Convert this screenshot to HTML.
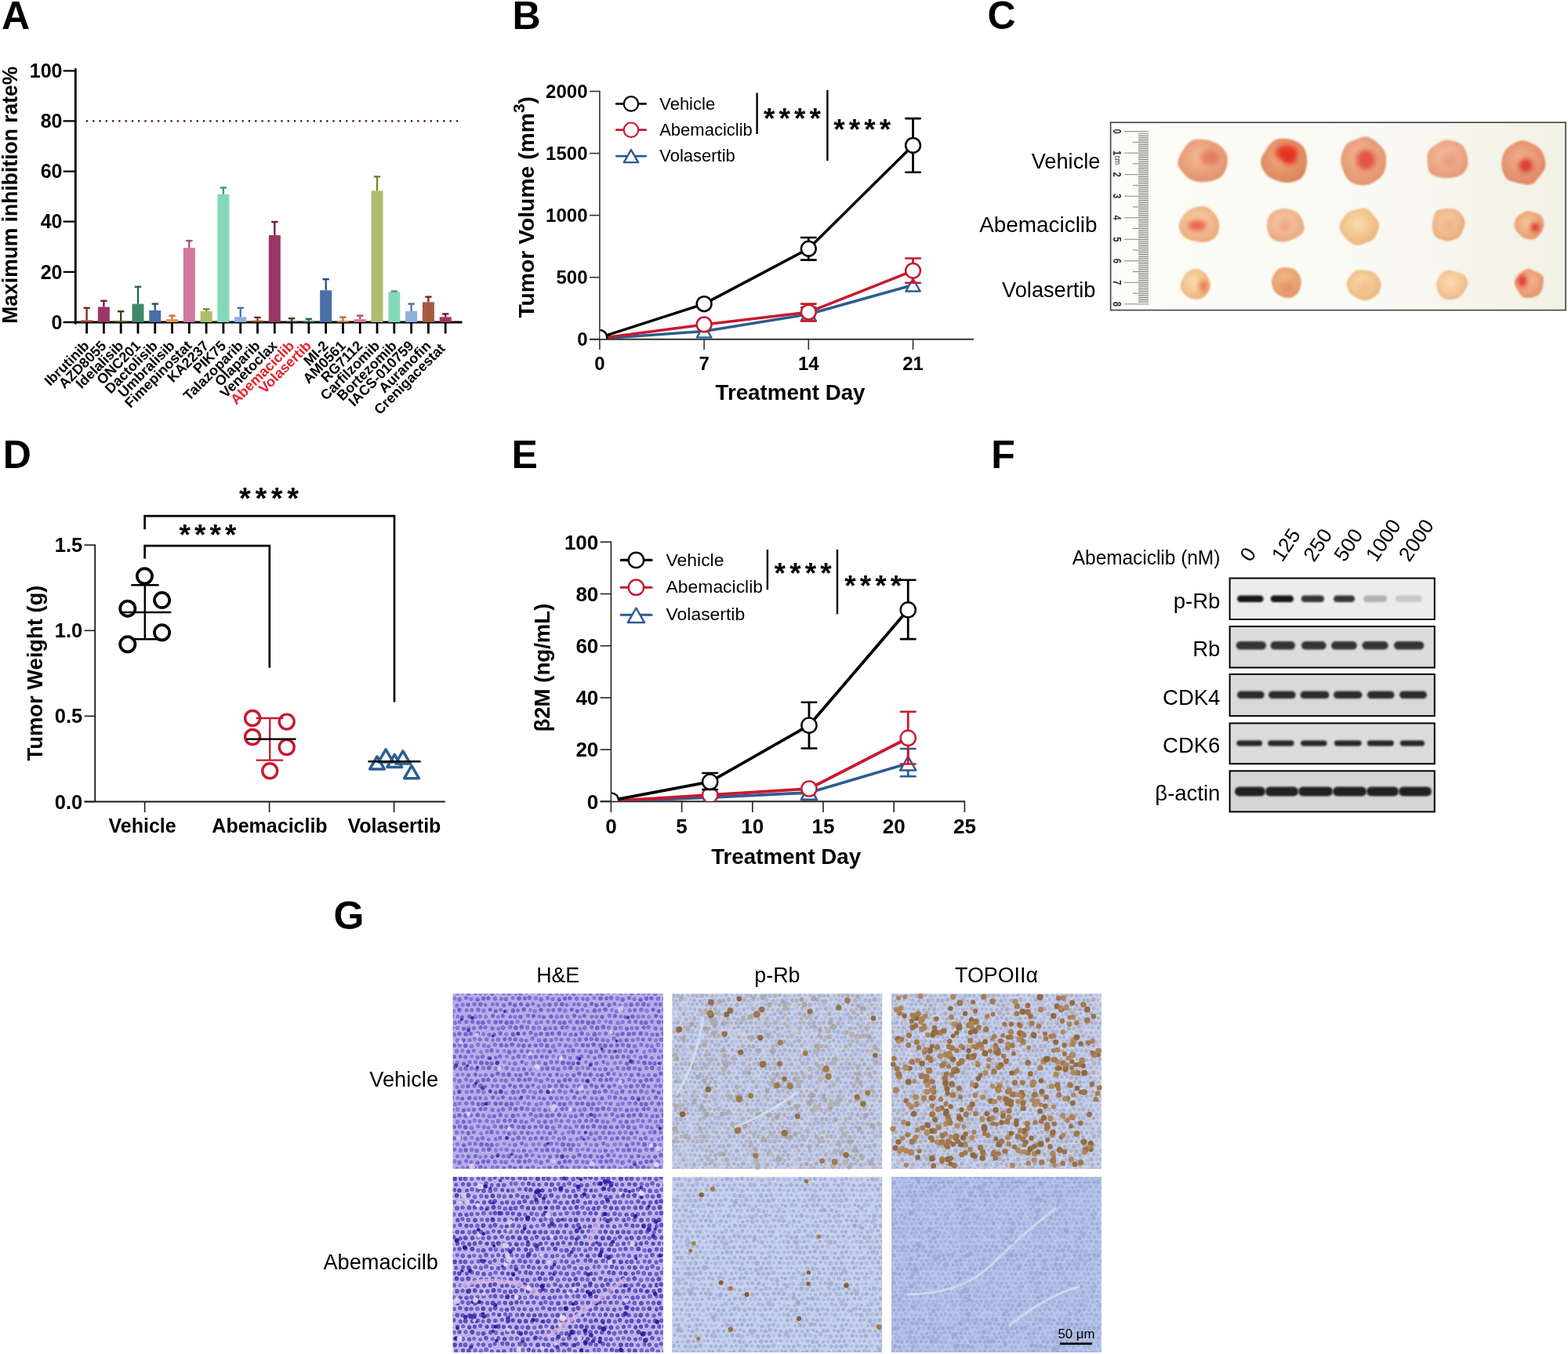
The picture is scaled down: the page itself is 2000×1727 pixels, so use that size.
<!DOCTYPE html>
<html><head><meta charset="utf-8"><title>Figure</title>
<style>html,body{margin:0;padding:0;background:#fff;}svg{display:block;}</style></head>
<body>
<svg xmlns="http://www.w3.org/2000/svg" width="2000" height="1727" viewBox="0 0 2000 1727" font-family="'Liberation Sans', Arial, Helvetica, sans-serif">
<rect width="2000" height="1727" fill="#fff"/>
<text x="2.00" y="37.30" font-size="50" font-weight="bold">A</text>
<line x1="81.50" y1="411.00" x2="96.30" y2="411.00" stroke="#000" stroke-width="2.3" stroke-linecap="round"/>
<text x="79.50" y="419.70" font-size="25" font-weight="bold" text-anchor="end">0</text>
<line x1="81.50" y1="346.86" x2="96.30" y2="346.86" stroke="#000" stroke-width="2.3" stroke-linecap="round"/>
<text x="79.50" y="355.56" font-size="25" font-weight="bold" text-anchor="end">20</text>
<line x1="81.50" y1="282.72" x2="96.30" y2="282.72" stroke="#000" stroke-width="2.3" stroke-linecap="round"/>
<text x="79.50" y="291.42" font-size="25" font-weight="bold" text-anchor="end">40</text>
<line x1="81.50" y1="218.58" x2="96.30" y2="218.58" stroke="#000" stroke-width="2.3" stroke-linecap="round"/>
<text x="79.50" y="227.28" font-size="25" font-weight="bold" text-anchor="end">60</text>
<line x1="81.50" y1="154.44" x2="96.30" y2="154.44" stroke="#000" stroke-width="2.3" stroke-linecap="round"/>
<text x="79.50" y="163.14" font-size="25" font-weight="bold" text-anchor="end">80</text>
<line x1="81.50" y1="90.30" x2="96.30" y2="90.30" stroke="#000" stroke-width="2.3" stroke-linecap="round"/>
<text x="79.50" y="99.00" font-size="25" font-weight="bold" text-anchor="end">100</text>
<line x1="96.30" y1="88.50" x2="96.30" y2="412.40" stroke="#000" stroke-width="2.8" stroke-linecap="round"/>
<line x1="94.90" y1="411.00" x2="589.50" y2="411.00" stroke="#000" stroke-width="2.8"/>
<text x="22.50" y="412.70" font-size="27.5" font-weight="bold" transform="rotate(-90 22.50 412.70)" textLength="328" lengthAdjust="spacingAndGlyphs">Maximum inhibition rate%</text>
<path d="M111.0 154.4h0.01 M119.3 154.4h0.01 M127.6 154.4h0.01 M135.8 154.4h0.01 M144.1 154.4h0.01 M152.4 154.4h0.01 M160.7 154.4h0.01 M169.0 154.4h0.01 M177.2 154.4h0.01 M185.5 154.4h0.01 M193.8 154.4h0.01 M202.1 154.4h0.01 M210.4 154.4h0.01 M218.6 154.4h0.01 M226.9 154.4h0.01 M235.2 154.4h0.01 M243.5 154.4h0.01 M251.8 154.4h0.01 M260.0 154.4h0.01 M268.3 154.4h0.01 M276.6 154.4h0.01 M284.9 154.4h0.01 M293.2 154.4h0.01 M301.4 154.4h0.01 M309.7 154.4h0.01 M318.0 154.4h0.01 M326.3 154.4h0.01 M334.6 154.4h0.01 M342.8 154.4h0.01 M351.1 154.4h0.01 M359.4 154.4h0.01 M367.7 154.4h0.01 M376.0 154.4h0.01 M384.2 154.4h0.01 M392.5 154.4h0.01 M400.8 154.4h0.01 M409.1 154.4h0.01 M417.4 154.4h0.01 M425.6 154.4h0.01 M433.9 154.4h0.01 M442.2 154.4h0.01 M450.5 154.4h0.01 M458.8 154.4h0.01 M467.0 154.4h0.01 M475.3 154.4h0.01 M483.6 154.4h0.01 M491.9 154.4h0.01 M500.2 154.4h0.01 M508.4 154.4h0.01 M516.7 154.4h0.01 M525.0 154.4h0.01 M533.3 154.4h0.01 M541.6 154.4h0.01 M549.8 154.4h0.01 M558.1 154.4h0.01 M566.4 154.4h0.01 M574.7 154.4h0.01 M583.0 154.4h0.01" stroke="#5a1a1e" stroke-width="2.6" stroke-linecap="round"/>
<rect x="103.10" y="408.43" width="15" height="2.57" fill="#a0452e"/>
<line x1="110.60" y1="408.43" x2="110.60" y2="392.72" stroke="#7a2a14" stroke-width="2.3"/>
<line x1="106.40" y1="392.72" x2="114.80" y2="392.72" stroke="#7a2a14" stroke-width="2.4"/>
<line x1="110.60" y1="411.00" x2="110.60" y2="425.50" stroke="#000" stroke-width="2.8"/>
<text x="114.90" y="442.10" font-size="18.0" font-weight="bold" text-anchor="end" transform="rotate(-45 114.90 442.10)">Ibrutinib</text>
<rect x="124.89" y="391.44" width="15" height="19.56" fill="#9a3766"/>
<line x1="132.39" y1="391.44" x2="132.39" y2="383.74" stroke="#6e1a44" stroke-width="2.3"/>
<line x1="128.19" y1="383.74" x2="136.59" y2="383.74" stroke="#6e1a44" stroke-width="2.4"/>
<line x1="132.39" y1="411.00" x2="132.39" y2="425.50" stroke="#000" stroke-width="2.8"/>
<text x="136.69" y="442.10" font-size="18.0" font-weight="bold" text-anchor="end" transform="rotate(-45 136.69 442.10)">AZD8055</text>
<rect x="146.68" y="409.40" width="15" height="1.60" fill="#4d6b25"/>
<line x1="154.18" y1="409.40" x2="154.18" y2="397.21" stroke="#2e4a0a" stroke-width="2.3"/>
<line x1="149.98" y1="397.21" x2="158.38" y2="397.21" stroke="#2e4a0a" stroke-width="2.4"/>
<line x1="154.18" y1="411.00" x2="154.18" y2="425.50" stroke="#000" stroke-width="2.8"/>
<text x="158.48" y="442.10" font-size="18.0" font-weight="bold" text-anchor="end" transform="rotate(-45 158.48 442.10)">Idelalisib</text>
<rect x="168.47" y="387.59" width="15" height="23.41" fill="#3f8a6a"/>
<line x1="175.97" y1="387.59" x2="175.97" y2="365.78" stroke="#1f6a4a" stroke-width="2.3"/>
<line x1="171.77" y1="365.78" x2="180.17" y2="365.78" stroke="#1f6a4a" stroke-width="2.4"/>
<line x1="175.97" y1="411.00" x2="175.97" y2="425.50" stroke="#000" stroke-width="2.8"/>
<text x="180.27" y="442.10" font-size="18.0" font-weight="bold" text-anchor="end" transform="rotate(-45 180.27 442.10)">ONC201</text>
<rect x="190.26" y="395.93" width="15" height="15.07" fill="#4a6ea6"/>
<line x1="197.76" y1="395.93" x2="197.76" y2="387.59" stroke="#2a4a80" stroke-width="2.3"/>
<line x1="193.56" y1="387.59" x2="201.96" y2="387.59" stroke="#2a4a80" stroke-width="2.4"/>
<line x1="197.76" y1="411.00" x2="197.76" y2="425.50" stroke="#000" stroke-width="2.8"/>
<text x="202.06" y="442.10" font-size="18.0" font-weight="bold" text-anchor="end" transform="rotate(-45 202.06 442.10)">Dactolisib</text>
<rect x="212.05" y="407.15" width="15" height="3.85" fill="#e8904a"/>
<line x1="219.55" y1="407.15" x2="219.55" y2="402.66" stroke="#c86a30" stroke-width="2.3"/>
<line x1="215.35" y1="402.66" x2="223.75" y2="402.66" stroke="#c86a30" stroke-width="2.4"/>
<line x1="219.55" y1="411.00" x2="219.55" y2="425.50" stroke="#000" stroke-width="2.8"/>
<text x="223.85" y="442.10" font-size="18.0" font-weight="bold" text-anchor="end" transform="rotate(-45 223.85 442.10)">Umbralisib</text>
<rect x="233.84" y="316.07" width="15" height="94.93" fill="#d2789c"/>
<line x1="241.34" y1="316.07" x2="241.34" y2="307.09" stroke="#b05078" stroke-width="2.3"/>
<line x1="237.14" y1="307.09" x2="245.54" y2="307.09" stroke="#b05078" stroke-width="2.4"/>
<line x1="241.34" y1="411.00" x2="241.34" y2="425.50" stroke="#000" stroke-width="2.8"/>
<text x="245.64" y="442.10" font-size="18.0" font-weight="bold" text-anchor="end" transform="rotate(-45 245.64 442.10)">Fimepinostat</text>
<rect x="255.63" y="396.89" width="15" height="14.11" fill="#aebe6c"/>
<line x1="263.13" y1="396.89" x2="263.13" y2="394.32" stroke="#6e8a2a" stroke-width="2.3"/>
<line x1="258.93" y1="394.32" x2="267.33" y2="394.32" stroke="#6e8a2a" stroke-width="2.4"/>
<line x1="263.13" y1="411.00" x2="263.13" y2="425.50" stroke="#000" stroke-width="2.8"/>
<text x="267.43" y="442.10" font-size="18.0" font-weight="bold" text-anchor="end" transform="rotate(-45 267.43 442.10)">KA2237</text>
<rect x="277.42" y="247.76" width="15" height="163.24" fill="#84d8b8"/>
<line x1="284.92" y1="247.76" x2="284.92" y2="239.43" stroke="#3a9a7a" stroke-width="2.3"/>
<line x1="280.72" y1="239.43" x2="289.12" y2="239.43" stroke="#3a9a7a" stroke-width="2.4"/>
<line x1="284.92" y1="411.00" x2="284.92" y2="425.50" stroke="#000" stroke-width="2.8"/>
<text x="289.22" y="442.10" font-size="18.0" font-weight="bold" text-anchor="end" transform="rotate(-45 289.22 442.10)">PIK75</text>
<rect x="299.21" y="404.27" width="15" height="6.73" fill="#8cb0e0"/>
<line x1="306.71" y1="404.27" x2="306.71" y2="392.72" stroke="#4a70b0" stroke-width="2.3"/>
<line x1="302.51" y1="392.72" x2="310.91" y2="392.72" stroke="#4a70b0" stroke-width="2.4"/>
<line x1="306.71" y1="411.00" x2="306.71" y2="425.50" stroke="#000" stroke-width="2.8"/>
<text x="311.01" y="442.10" font-size="18.0" font-weight="bold" text-anchor="end" transform="rotate(-45 311.01 442.10)">Talazoparib</text>
<rect x="321.00" y="408.76" width="15" height="2.24" fill="#a0452e"/>
<line x1="328.50" y1="408.76" x2="328.50" y2="404.91" stroke="#7a2a14" stroke-width="2.3"/>
<line x1="324.30" y1="404.91" x2="332.70" y2="404.91" stroke="#7a2a14" stroke-width="2.4"/>
<line x1="328.50" y1="411.00" x2="328.50" y2="425.50" stroke="#000" stroke-width="2.8"/>
<text x="332.80" y="442.10" font-size="18.0" font-weight="bold" text-anchor="end" transform="rotate(-45 332.80 442.10)">Olaparib</text>
<rect x="342.79" y="300.04" width="15" height="110.96" fill="#9a3766"/>
<line x1="350.29" y1="300.04" x2="350.29" y2="283.04" stroke="#6e1a44" stroke-width="2.3"/>
<line x1="346.09" y1="283.04" x2="354.49" y2="283.04" stroke="#6e1a44" stroke-width="2.4"/>
<line x1="350.29" y1="411.00" x2="350.29" y2="425.50" stroke="#000" stroke-width="2.8"/>
<text x="354.59" y="442.10" font-size="18.0" font-weight="bold" text-anchor="end" transform="rotate(-45 354.59 442.10)">Venetoclax</text>
<rect x="364.58" y="410.36" width="15" height="0.64" fill="#4d6b25"/>
<line x1="372.08" y1="410.36" x2="372.08" y2="406.19" stroke="#2e4a0a" stroke-width="2.3"/>
<line x1="367.88" y1="406.19" x2="376.28" y2="406.19" stroke="#2e4a0a" stroke-width="2.4"/>
<line x1="372.08" y1="411.00" x2="372.08" y2="425.50" stroke="#000" stroke-width="2.8"/>
<text x="376.38" y="442.10" font-size="18.0" font-weight="bold" text-anchor="end" fill="#e8202a" transform="rotate(-45 376.38 442.10)">Abemaciclib</text>
<rect x="386.37" y="409.08" width="15" height="1.92" fill="#3f8a6a"/>
<line x1="393.87" y1="409.08" x2="393.87" y2="406.83" stroke="#1f6a4a" stroke-width="2.3"/>
<line x1="389.67" y1="406.83" x2="398.07" y2="406.83" stroke="#1f6a4a" stroke-width="2.4"/>
<line x1="393.87" y1="411.00" x2="393.87" y2="425.50" stroke="#000" stroke-width="2.8"/>
<text x="398.17" y="442.10" font-size="18.0" font-weight="bold" text-anchor="end" fill="#e8202a" transform="rotate(-45 398.17 442.10)">Volasertib</text>
<rect x="408.16" y="370.27" width="15" height="40.73" fill="#4a6ea6"/>
<line x1="415.66" y1="370.27" x2="415.66" y2="356.16" stroke="#2a4a80" stroke-width="2.3"/>
<line x1="411.46" y1="356.16" x2="419.86" y2="356.16" stroke="#2a4a80" stroke-width="2.4"/>
<line x1="415.66" y1="411.00" x2="415.66" y2="425.50" stroke="#000" stroke-width="2.8"/>
<text x="419.96" y="442.10" font-size="18.0" font-weight="bold" text-anchor="end" transform="rotate(-45 419.96 442.10)">MI-2</text>
<rect x="429.95" y="409.40" width="15" height="1.60" fill="#e8904a"/>
<line x1="437.45" y1="409.40" x2="437.45" y2="404.59" stroke="#c86a30" stroke-width="2.3"/>
<line x1="433.25" y1="404.59" x2="441.65" y2="404.59" stroke="#c86a30" stroke-width="2.4"/>
<line x1="437.45" y1="411.00" x2="437.45" y2="425.50" stroke="#000" stroke-width="2.8"/>
<text x="441.75" y="442.10" font-size="18.0" font-weight="bold" text-anchor="end" transform="rotate(-45 441.75 442.10)">AM0561</text>
<rect x="451.74" y="407.15" width="15" height="3.85" fill="#d2789c"/>
<line x1="459.24" y1="407.15" x2="459.24" y2="402.66" stroke="#b05078" stroke-width="2.3"/>
<line x1="455.04" y1="402.66" x2="463.44" y2="402.66" stroke="#b05078" stroke-width="2.4"/>
<line x1="459.24" y1="411.00" x2="459.24" y2="425.50" stroke="#000" stroke-width="2.8"/>
<text x="463.54" y="442.10" font-size="18.0" font-weight="bold" text-anchor="end" transform="rotate(-45 463.54 442.10)">RG7112</text>
<rect x="473.53" y="243.27" width="15" height="167.73" fill="#aebe6c"/>
<line x1="481.03" y1="243.27" x2="481.03" y2="225.31" stroke="#6e8a2a" stroke-width="2.3"/>
<line x1="476.83" y1="225.31" x2="485.23" y2="225.31" stroke="#6e8a2a" stroke-width="2.4"/>
<line x1="481.03" y1="411.00" x2="481.03" y2="425.50" stroke="#000" stroke-width="2.8"/>
<text x="485.33" y="442.10" font-size="18.0" font-weight="bold" text-anchor="end" transform="rotate(-45 485.33 442.10)">Carfilzomib</text>
<rect x="495.32" y="372.52" width="15" height="38.48" fill="#84d8b8"/>
<line x1="502.82" y1="372.52" x2="502.82" y2="371.55" stroke="#3a9a7a" stroke-width="2.3"/>
<line x1="498.62" y1="371.55" x2="507.02" y2="371.55" stroke="#3a9a7a" stroke-width="2.4"/>
<line x1="502.82" y1="411.00" x2="502.82" y2="425.50" stroke="#000" stroke-width="2.8"/>
<text x="507.12" y="442.10" font-size="18.0" font-weight="bold" text-anchor="end" transform="rotate(-45 507.12 442.10)">Bortezomib</text>
<rect x="517.11" y="396.89" width="15" height="14.11" fill="#8cb0e0"/>
<line x1="524.61" y1="396.89" x2="524.61" y2="387.59" stroke="#4a70b0" stroke-width="2.3"/>
<line x1="520.41" y1="387.59" x2="528.81" y2="387.59" stroke="#4a70b0" stroke-width="2.4"/>
<line x1="524.61" y1="411.00" x2="524.61" y2="425.50" stroke="#000" stroke-width="2.8"/>
<text x="528.91" y="442.10" font-size="18.0" font-weight="bold" text-anchor="end" transform="rotate(-45 528.91 442.10)">IACS-010759</text>
<rect x="538.90" y="385.34" width="15" height="25.66" fill="#a85a3e"/>
<line x1="546.40" y1="385.34" x2="546.40" y2="378.61" stroke="#7a2a14" stroke-width="2.3"/>
<line x1="542.20" y1="378.61" x2="550.60" y2="378.61" stroke="#7a2a14" stroke-width="2.4"/>
<line x1="546.40" y1="411.00" x2="546.40" y2="425.50" stroke="#000" stroke-width="2.8"/>
<text x="550.70" y="442.10" font-size="18.0" font-weight="bold" text-anchor="end" transform="rotate(-45 550.70 442.10)">Auranofin</text>
<rect x="560.69" y="404.27" width="15" height="6.73" fill="#9a3766"/>
<line x1="568.19" y1="404.27" x2="568.19" y2="400.42" stroke="#6e1a44" stroke-width="2.3"/>
<line x1="563.99" y1="400.42" x2="572.39" y2="400.42" stroke="#6e1a44" stroke-width="2.4"/>
<line x1="568.19" y1="411.00" x2="568.19" y2="425.50" stroke="#000" stroke-width="2.8"/>
<text x="568.79" y="445.60" font-size="18.0" font-weight="bold" text-anchor="end" transform="rotate(-45 568.79 445.60)">Crenigacestat</text>
<text x="653.50" y="37.20" font-size="50" font-weight="bold">B</text>
<line x1="752.00" y1="432.80" x2="764.90" y2="432.80" stroke="#333" stroke-width="1.6"/>
<text x="749.50" y="441.20" font-size="24" font-weight="bold" text-anchor="end">0</text>
<line x1="752.00" y1="353.73" x2="764.90" y2="353.73" stroke="#333" stroke-width="1.6"/>
<text x="749.50" y="362.12" font-size="24" font-weight="bold" text-anchor="end">500</text>
<line x1="752.00" y1="274.65" x2="764.90" y2="274.65" stroke="#333" stroke-width="1.6"/>
<text x="749.50" y="283.05" font-size="24" font-weight="bold" text-anchor="end">1000</text>
<line x1="752.00" y1="195.57" x2="764.90" y2="195.57" stroke="#333" stroke-width="1.6"/>
<text x="749.50" y="203.97" font-size="24" font-weight="bold" text-anchor="end">1500</text>
<line x1="752.00" y1="116.50" x2="764.90" y2="116.50" stroke="#333" stroke-width="1.6"/>
<text x="749.50" y="124.90" font-size="24" font-weight="bold" text-anchor="end">2000</text>
<line x1="764.90" y1="115.70" x2="764.90" y2="432.80" stroke="#333" stroke-width="1.6"/>
<line x1="752.00" y1="432.80" x2="1242.00" y2="432.80" stroke="#333" stroke-width="1.9"/>
<line x1="764.90" y1="432.80" x2="764.90" y2="446.00" stroke="#333" stroke-width="1.6"/>
<text x="764.90" y="472.20" font-size="24" font-weight="bold" text-anchor="middle">0</text>
<line x1="898.11" y1="432.80" x2="898.11" y2="446.00" stroke="#333" stroke-width="1.6"/>
<text x="898.11" y="472.20" font-size="24" font-weight="bold" text-anchor="middle">7</text>
<line x1="1031.32" y1="432.80" x2="1031.32" y2="446.00" stroke="#333" stroke-width="1.6"/>
<text x="1031.32" y="472.20" font-size="24" font-weight="bold" text-anchor="middle">14</text>
<line x1="1164.53" y1="432.80" x2="1164.53" y2="446.00" stroke="#333" stroke-width="1.6"/>
<text x="1164.53" y="472.20" font-size="24" font-weight="bold" text-anchor="middle">21</text>
<text x="1008.00" y="509.90" font-size="28.5" font-weight="bold" text-anchor="middle" textLength="191" lengthAdjust="spacingAndGlyphs">Treatment Day</text>
<text x="681.50" y="405.60" font-size="28.3" font-weight="bold" transform="rotate(-90 681.50 405.60)">Tumor Volume (mm<tspan font-size="21" dy="-12">3</tspan><tspan dy="12">)</tspan></text>
<defs><clipPath id="clipB"><rect x="765.7" y="100" width="500" height="331.9"/></clipPath></defs>
<g clip-path="url(#clipB)"><line x1="1031.32" y1="392.00" x2="1031.32" y2="409.20" stroke="#2c5d8f" stroke-width="2.8"/><line x1="1022.02" y1="392.00" x2="1040.62" y2="392.00" stroke="#2c5d8f" stroke-width="2.6" stroke-linecap="round"/><line x1="1022.02" y1="409.20" x2="1040.62" y2="409.20" stroke="#2c5d8f" stroke-width="2.6" stroke-linecap="round"/>
<path d="M764.90 432.00L898.11 422.40L1031.32 400.80L1164.53 363.50" fill="none" stroke="#2c5d8f" stroke-width="3.5" stroke-linejoin="round"/>
<path d="M764.90 424.00L774.10 440.00L755.70 440.00Z" fill="#fff" stroke="#2c5d8f" stroke-width="2.4" stroke-linejoin="round"/>
<path d="M898.11 414.40L907.31 430.40L888.91 430.40Z" fill="#fff" stroke="#2c5d8f" stroke-width="2.4" stroke-linejoin="round"/>
<path d="M1031.32 392.80L1040.52 408.80L1022.12 408.80Z" fill="#fff" stroke="#2c5d8f" stroke-width="2.4" stroke-linejoin="round"/>
<path d="M1164.53 355.50L1173.73 371.50L1155.33 371.50Z" fill="#fff" stroke="#2c5d8f" stroke-width="2.4" stroke-linejoin="round"/>
<line x1="1031.32" y1="387.60" x2="1031.32" y2="409.40" stroke="#c8192f" stroke-width="2.8"/><line x1="1022.02" y1="387.60" x2="1040.62" y2="387.60" stroke="#c8192f" stroke-width="2.6" stroke-linecap="round"/><line x1="1022.02" y1="409.40" x2="1040.62" y2="409.40" stroke="#c8192f" stroke-width="2.6" stroke-linecap="round"/>
<line x1="1164.53" y1="329.50" x2="1164.53" y2="360.80" stroke="#c8192f" stroke-width="2.8"/><line x1="1155.23" y1="329.50" x2="1173.83" y2="329.50" stroke="#c8192f" stroke-width="2.6" stroke-linecap="round"/><line x1="1155.23" y1="360.80" x2="1173.83" y2="360.80" stroke="#c8192f" stroke-width="2.6" stroke-linecap="round"/>
<path d="M764.90 431.50L898.11 413.90L1031.32 398.10L1164.53 345.30" fill="none" stroke="#c8192f" stroke-width="3.5" stroke-linejoin="round"/>
<circle cx="764.90" cy="431.50" r="9.4" fill="#fff" stroke="#c8192f" stroke-width="2.5"/>
<circle cx="898.11" cy="413.90" r="9.4" fill="#fff" stroke="#c8192f" stroke-width="2.5"/>
<circle cx="1031.32" cy="398.10" r="9.4" fill="#fff" stroke="#c8192f" stroke-width="2.5"/>
<circle cx="1164.53" cy="345.30" r="9.4" fill="#fff" stroke="#c8192f" stroke-width="2.5"/>
<line x1="1031.32" y1="303.00" x2="1031.32" y2="331.60" stroke="#000" stroke-width="2.8"/><line x1="1022.02" y1="303.00" x2="1040.62" y2="303.00" stroke="#000" stroke-width="2.6" stroke-linecap="round"/><line x1="1022.02" y1="331.60" x2="1040.62" y2="331.60" stroke="#000" stroke-width="2.6" stroke-linecap="round"/>
<line x1="1164.53" y1="151.10" x2="1164.53" y2="219.80" stroke="#000" stroke-width="2.8"/><line x1="1155.23" y1="151.10" x2="1173.83" y2="151.10" stroke="#000" stroke-width="2.6" stroke-linecap="round"/><line x1="1155.23" y1="219.80" x2="1173.83" y2="219.80" stroke="#000" stroke-width="2.6" stroke-linecap="round"/>
<path d="M764.90 430.50L898.11 387.60L1031.32 317.20L1164.53 185.40" fill="none" stroke="#000" stroke-width="3.5" stroke-linejoin="round"/>
<circle cx="764.90" cy="430.50" r="9.4" fill="#fff" stroke="#000" stroke-width="2.5"/>
<circle cx="898.11" cy="387.60" r="9.4" fill="#fff" stroke="#000" stroke-width="2.5"/>
<circle cx="1031.32" cy="317.20" r="9.4" fill="#fff" stroke="#000" stroke-width="2.5"/>
<circle cx="1164.53" cy="185.40" r="9.4" fill="#fff" stroke="#000" stroke-width="2.5"/></g>
<line x1="786.20" y1="132.40" x2="823.70" y2="132.40" stroke="#000" stroke-width="2.7" stroke-linecap="round"/>
<circle cx="804.95" cy="132.40" r="9.2" fill="#fff" stroke="#000" stroke-width="2.2"/>
<text x="841.20" y="139.90" font-size="22">Vehicle</text>
<line x1="786.20" y1="165.70" x2="823.70" y2="165.70" stroke="#c8192f" stroke-width="2.7" stroke-linecap="round"/>
<circle cx="804.95" cy="165.70" r="9.2" fill="#fff" stroke="#c8192f" stroke-width="2.2"/>
<text x="841.20" y="172.80" font-size="22">Abemaciclib</text>
<line x1="786.20" y1="199.10" x2="823.70" y2="199.10" stroke="#2c5d8f" stroke-width="2.7" stroke-linecap="round"/>
<path d="M804.95 191.10L814.15 207.10L795.75 207.10Z" fill="#fff" stroke="#2c5d8f" stroke-width="2.4" stroke-linejoin="round"/>
<text x="841.20" y="206.00" font-size="22">Volasertib</text>
<line x1="965.60" y1="118.40" x2="965.60" y2="171.00" stroke="#000" stroke-width="2.4"/>
<text x="974.00" y="164.40" font-size="37" font-weight="bold" textLength="73" lengthAdjust="spacing">****</text>
<line x1="1055.40" y1="114.90" x2="1055.40" y2="205.00" stroke="#000" stroke-width="2.4"/>
<text x="1063.20" y="178.20" font-size="37" font-weight="bold" textLength="73" lengthAdjust="spacing">****</text>
<text x="1259.60" y="37.00" font-size="50" font-weight="bold">C</text>
<text x="1403.40" y="214.80" font-size="27.2" text-anchor="end">Vehicle</text>
<text x="1399.60" y="295.90" font-size="27.9" text-anchor="end">Abemaciclib</text>
<text x="1397.50" y="379.20" font-size="27.2" text-anchor="end">Volasertib</text>
<defs><filter id="tblur" x="-20%" y="-20%" width="140%" height="140%"><feGaussianBlur stdDeviation="0.8"/></filter><filter id="rblur" x="-50%" y="-50%" width="200%" height="200%"><feGaussianBlur stdDeviation="3"/></filter><linearGradient id="photobg" x1="0" y1="0" x2="1" y2="0"><stop offset="0" stop-color="#fcfcf8"/><stop offset="0.55" stop-color="#fafaf4"/><stop offset="1" stop-color="#f2f1e6"/></linearGradient></defs>
<rect x="1416.6" y="156.2" width="580.4" height="239.4" fill="url(#photobg)" stroke="#404040" stroke-width="1.6"/>
<path d="M1434.0 167.60H1465M1452.0 170.35H1465M1452.0 173.11H1465M1452.0 175.86H1465M1452.0 178.61H1465M1444.8 181.37H1465M1452.0 184.12H1465M1452.0 186.87H1465M1452.0 189.62H1465M1452.0 192.38H1465M1434.0 195.13H1465M1452.0 197.88H1465M1452.0 200.64H1465M1452.0 203.39H1465M1452.0 206.14H1465M1444.8 208.89H1465M1452.0 211.65H1465M1452.0 214.40H1465M1452.0 217.15H1465M1452.0 219.91H1465M1434.0 222.66H1465M1452.0 225.41H1465M1452.0 228.17H1465M1452.0 230.92H1465M1452.0 233.67H1465M1444.8 236.43H1465M1452.0 239.18H1465M1452.0 241.93H1465M1452.0 244.68H1465M1452.0 247.44H1465M1434.0 250.19H1465M1452.0 252.94H1465M1452.0 255.70H1465M1452.0 258.45H1465M1452.0 261.20H1465M1444.8 263.95H1465M1452.0 266.71H1465M1452.0 269.46H1465M1452.0 272.21H1465M1452.0 274.97H1465M1434.0 277.72H1465M1452.0 280.47H1465M1452.0 283.23H1465M1452.0 285.98H1465M1452.0 288.73H1465M1444.8 291.49H1465M1452.0 294.24H1465M1452.0 296.99H1465M1452.0 299.74H1465M1452.0 302.50H1465M1434.0 305.25H1465M1452.0 308.00H1465M1452.0 310.76H1465M1452.0 313.51H1465M1452.0 316.26H1465M1444.8 319.01H1465M1452.0 321.77H1465M1452.0 324.52H1465M1452.0 327.27H1465M1452.0 330.03H1465M1434.0 332.78H1465M1452.0 335.53H1465M1452.0 338.29H1465M1452.0 341.04H1465M1452.0 343.79H1465M1444.8 346.54H1465M1452.0 349.30H1465M1452.0 352.05H1465M1452.0 354.80H1465M1452.0 357.56H1465M1434.0 360.31H1465M1452.0 363.06H1465M1452.0 365.82H1465M1452.0 368.57H1465M1452.0 371.32H1465M1444.8 374.08H1465M1452.0 376.83H1465M1452.0 379.58H1465M1452.0 382.33H1465M1452.0 385.09H1465M1434.0 387.84H1465" stroke="#777" stroke-width="0.9" fill="none"/>
<rect x="1451.5" y="172" width="13.5" height="214" fill="#777" opacity="0.18"/>
<text x="0" y="0" font-size="15.5" font-weight="bold" fill="#2a2a2a" transform="translate(1420.0 167.60) rotate(90) scale(0.72 1)" text-anchor="middle">0</text>
<text x="0" y="0" font-size="15.5" font-weight="bold" fill="#2a2a2a" transform="translate(1420.0 195.13) rotate(90) scale(0.72 1)" text-anchor="middle">1</text>
<text x="0" y="0" font-size="15.5" font-weight="bold" fill="#2a2a2a" transform="translate(1420.0 222.66) rotate(90) scale(0.72 1)" text-anchor="middle">2</text>
<text x="0" y="0" font-size="15.5" font-weight="bold" fill="#2a2a2a" transform="translate(1420.0 250.19) rotate(90) scale(0.72 1)" text-anchor="middle">3</text>
<text x="0" y="0" font-size="15.5" font-weight="bold" fill="#2a2a2a" transform="translate(1420.0 277.72) rotate(90) scale(0.72 1)" text-anchor="middle">4</text>
<text x="0" y="0" font-size="15.5" font-weight="bold" fill="#2a2a2a" transform="translate(1420.0 305.25) rotate(90) scale(0.72 1)" text-anchor="middle">5</text>
<text x="0" y="0" font-size="15.5" font-weight="bold" fill="#2a2a2a" transform="translate(1420.0 332.78) rotate(90) scale(0.72 1)" text-anchor="middle">6</text>
<text x="0" y="0" font-size="15.5" font-weight="bold" fill="#2a2a2a" transform="translate(1420.0 360.31) rotate(90) scale(0.72 1)" text-anchor="middle">7</text>
<text x="0" y="0" font-size="15.5" font-weight="bold" fill="#2a2a2a" transform="translate(1420.0 387.84) rotate(90) scale(0.72 1)" text-anchor="middle">8</text>
<text x="0" y="0" font-size="11" fill="#333" transform="translate(1421.5 204.21) rotate(90) scale(0.8 1)" text-anchor="middle">cm</text>
<radialGradient id="tg100" cx="0.45" cy="0.42" r="0.62"><stop offset="0" stop-color="#f2bc98"/><stop offset="0.55" stop-color="#eaa27e"/><stop offset="1" stop-color="#e0926a"/></radialGradient>
<path d="M1565.9 203.0C1566.1 208.9 1563.6 218.2 1559.8 222.9C1556.0 227.7 1549.2 230.2 1543.2 231.5C1537.1 232.8 1528.8 232.3 1523.6 230.9C1518.3 229.5 1515.1 226.9 1511.5 223.0C1508.0 219.1 1502.2 213.6 1502.3 207.6C1502.4 201.7 1508.4 192.0 1512.0 187.1C1515.6 182.2 1518.8 179.5 1523.9 178.1C1529.0 176.8 1536.8 177.6 1542.6 179.2C1548.3 180.8 1554.7 183.7 1558.6 187.7C1562.5 191.6 1565.7 197.2 1565.9 203.0Z" fill="url(#tg100)" filter="url(#tblur)"/>
<ellipse cx="1543.0" cy="201.0" rx="12" ry="10" fill="#e06048" opacity="0.6" filter="url(#rblur)"/>
<radialGradient id="tg101" cx="0.45" cy="0.42" r="0.62"><stop offset="0" stop-color="#eeac86"/><stop offset="0.55" stop-color="#e5946a"/><stop offset="1" stop-color="#da845c"/></radialGradient>
<path d="M1667.1 205.4C1667.1 211.6 1665.2 220.1 1662.1 224.6C1658.9 229.1 1653.4 231.2 1648.4 232.3C1643.4 233.4 1637.3 232.9 1631.8 231.4C1626.4 229.8 1619.5 227.1 1615.6 222.9C1611.6 218.8 1608.3 212.0 1608.2 206.7C1608.1 201.4 1611.7 195.7 1614.9 191.0C1618.1 186.2 1622.0 180.3 1627.4 178.1C1632.7 176.0 1641.4 176.5 1647.3 178.0C1653.1 179.6 1659.1 182.8 1662.4 187.3C1665.7 191.9 1667.2 199.2 1667.1 205.4Z" fill="url(#tg101)" filter="url(#tblur)"/>
<ellipse cx="1641.0" cy="195.0" rx="14" ry="10" fill="#e8321f" opacity="0.95" filter="url(#rblur)"/>
<ellipse cx="1645.0" cy="203.0" rx="9" ry="7" fill="#e02a1a" opacity="0.8" filter="url(#rblur)"/>
<radialGradient id="tg102" cx="0.45" cy="0.42" r="0.62"><stop offset="0" stop-color="#f2bc98"/><stop offset="0.55" stop-color="#eaa27e"/><stop offset="1" stop-color="#e0926a"/></radialGradient>
<path d="M1768.0 203.6C1768.2 209.3 1767.4 217.4 1763.9 222.6C1760.4 227.8 1752.9 232.7 1747.2 234.8C1741.4 236.8 1734.4 236.4 1729.4 235.0C1724.4 233.5 1720.5 231.1 1717.3 226.1C1714.1 221.1 1710.4 211.9 1710.2 205.1C1710.1 198.3 1713.2 189.9 1716.5 185.4C1719.8 180.8 1724.8 179.6 1729.8 177.8C1734.7 176.1 1740.5 173.1 1746.1 174.9C1751.6 176.6 1759.5 183.7 1763.2 188.5C1766.8 193.3 1767.9 197.9 1768.0 203.6Z" fill="url(#tg102)" filter="url(#tblur)"/>
<ellipse cx="1742.0" cy="203.8" rx="12" ry="13" fill="#e2402e" opacity="0.8" filter="url(#rblur)"/>
<radialGradient id="tg103" cx="0.45" cy="0.42" r="0.62"><stop offset="0" stop-color="#f3c2a0"/><stop offset="0.55" stop-color="#edaa88"/><stop offset="1" stop-color="#e39a74"/></radialGradient>
<path d="M1872.5 205.7C1872.6 211.3 1870.4 216.4 1867.5 219.8C1864.6 223.2 1860.2 224.9 1855.2 226.1C1850.2 227.2 1842.9 227.6 1837.6 226.5C1832.4 225.4 1826.6 223.8 1823.7 219.7C1820.9 215.5 1820.5 206.3 1820.6 201.5C1820.6 196.6 1820.7 194.0 1823.9 190.4C1827.1 186.8 1835.0 181.6 1839.8 179.8C1844.6 178.0 1848.1 178.5 1852.5 179.6C1857.0 180.7 1863.1 182.3 1866.5 186.6C1869.8 191.0 1872.3 200.2 1872.5 205.7Z" fill="url(#tg103)" filter="url(#tblur)"/>
<ellipse cx="1848.0" cy="203.3" rx="10" ry="9" fill="#e07060" opacity="0.35" filter="url(#rblur)"/>
<radialGradient id="tg104" cx="0.45" cy="0.42" r="0.62"><stop offset="0" stop-color="#f0b290"/><stop offset="0.55" stop-color="#e89876"/><stop offset="1" stop-color="#dc8664"/></radialGradient>
<path d="M1971.3 210.7C1971.0 216.3 1966.7 221.0 1963.6 225.1C1960.4 229.2 1957.5 234.0 1952.5 235.3C1947.5 236.6 1938.8 234.2 1933.6 232.8C1928.4 231.4 1924.1 230.8 1921.1 227.0C1918.0 223.2 1915.5 216.1 1915.3 210.2C1915.2 204.3 1916.5 196.9 1920.0 191.9C1923.6 186.9 1931.3 182.0 1936.4 180.2C1941.5 178.5 1945.8 179.6 1950.7 181.5C1955.6 183.4 1962.3 186.8 1965.8 191.7C1969.2 196.5 1971.7 205.1 1971.3 210.7Z" fill="url(#tg104)" filter="url(#tblur)"/>
<ellipse cx="1946.0" cy="211.0" rx="9" ry="9" fill="#d82a22" opacity="0.85" filter="url(#rblur)"/>
<radialGradient id="tg105" cx="0.45" cy="0.42" r="0.62"><stop offset="0" stop-color="#f6d2a6"/><stop offset="0.55" stop-color="#f1bc90"/><stop offset="1" stop-color="#e8a878"/></radialGradient>
<path d="M1555.2 288.2C1555.1 292.6 1553.7 298.3 1551.0 301.7C1548.3 305.1 1543.8 307.6 1539.2 308.6C1534.5 309.5 1528.2 308.8 1523.2 307.5C1518.1 306.2 1512.2 304.1 1509.0 300.9C1505.8 297.6 1503.7 292.6 1503.8 288.1C1503.9 283.7 1506.6 278.0 1509.6 274.2C1512.6 270.4 1517.1 267.0 1521.8 265.2C1526.6 263.5 1533.2 262.1 1538.1 263.8C1543.0 265.4 1548.4 271.0 1551.3 275.1C1554.1 279.2 1555.2 283.8 1555.2 288.2Z" fill="url(#tg105)" filter="url(#tblur)"/>
<ellipse cx="1527.0" cy="287.5" rx="12" ry="7" fill="#e8503c" opacity="0.8" filter="url(#rblur)"/>
<radialGradient id="tg106" cx="0.45" cy="0.42" r="0.62"><stop offset="0" stop-color="#f6cea6"/><stop offset="0.55" stop-color="#f1b892"/><stop offset="1" stop-color="#e8a47e"/></radialGradient>
<path d="M1663.4 288.0C1663.9 292.2 1663.3 295.5 1660.1 298.6C1657.0 301.8 1649.4 305.4 1644.4 307.0C1639.5 308.5 1634.2 308.9 1630.2 308.0C1626.1 307.1 1622.4 305.1 1620.0 301.7C1617.7 298.3 1615.9 292.3 1615.9 287.6C1615.9 282.9 1617.3 276.9 1620.2 273.4C1623.0 269.8 1628.8 267.6 1633.1 266.5C1637.3 265.5 1641.8 266.0 1645.8 267.2C1649.8 268.3 1654.2 270.0 1657.2 273.4C1660.1 276.9 1662.9 283.8 1663.4 288.0Z" fill="url(#tg106)" filter="url(#tblur)"/>
<ellipse cx="1639.0" cy="287.0" rx="8" ry="8" fill="#e87060" opacity="0.35" filter="url(#rblur)"/>
<radialGradient id="tg107" cx="0.45" cy="0.42" r="0.62"><stop offset="0" stop-color="#f8dcae"/><stop offset="0.55" stop-color="#f3c690"/><stop offset="1" stop-color="#eab27c"/></radialGradient>
<path d="M1759.0 287.6C1758.8 292.2 1755.8 300.4 1752.9 304.1C1750.0 307.9 1745.8 308.6 1741.6 309.9C1737.4 311.3 1732.3 313.8 1727.7 312.2C1723.1 310.7 1717.1 304.8 1713.9 300.9C1710.7 296.9 1708.3 292.8 1708.6 288.4C1708.9 283.9 1712.9 277.7 1715.7 274.4C1718.6 271.0 1721.3 269.6 1725.8 268.2C1730.3 266.9 1737.8 264.7 1742.5 266.2C1747.1 267.6 1751.0 273.3 1753.8 276.8C1756.5 280.4 1759.1 283.1 1759.0 287.6Z" fill="url(#tg107)" filter="url(#tblur)"/>
<radialGradient id="tg108" cx="0.45" cy="0.42" r="0.62"><stop offset="0" stop-color="#f6d2a6"/><stop offset="0.55" stop-color="#f1bc90"/><stop offset="1" stop-color="#e8a878"/></radialGradient>
<path d="M1868.5 284.7C1868.2 289.2 1865.0 296.8 1862.6 300.3C1860.2 303.9 1857.4 304.9 1854.0 306.0C1850.7 307.1 1846.4 307.7 1842.4 306.9C1838.5 306.0 1832.8 304.0 1830.2 300.8C1827.7 297.6 1827.0 292.6 1827.0 287.7C1827.1 282.8 1828.5 274.9 1830.5 271.4C1832.5 267.9 1835.1 267.5 1839.2 266.7C1843.3 265.9 1851.0 265.5 1855.2 266.7C1859.4 267.9 1862.3 270.8 1864.5 273.8C1866.7 276.8 1868.8 280.3 1868.5 284.7Z" fill="url(#tg108)" filter="url(#tblur)"/>
<ellipse cx="1847.0" cy="286.4" rx="8" ry="8" fill="#e88060" opacity="0.3" filter="url(#rblur)"/>
<radialGradient id="tg109" cx="0.45" cy="0.42" r="0.62"><stop offset="0" stop-color="#f4cc98"/><stop offset="0.55" stop-color="#eeac80"/><stop offset="1" stop-color="#e4986e"/></radialGradient>
<path d="M1969.3 286.2C1969.2 289.9 1967.1 294.0 1965.1 297.1C1963.0 300.2 1960.3 303.8 1957.0 304.9C1953.7 306.0 1948.6 305.3 1945.1 303.9C1941.5 302.5 1937.8 299.2 1935.6 296.6C1933.4 293.9 1932.0 291.1 1931.8 287.8C1931.7 284.6 1932.2 280.1 1934.7 277.1C1937.1 274.0 1943.0 270.6 1946.6 269.6C1950.3 268.6 1953.3 270.0 1956.4 271.0C1959.6 271.9 1963.5 272.7 1965.6 275.2C1967.8 277.8 1969.4 282.6 1969.3 286.2Z" fill="url(#tg109)" filter="url(#tblur)"/>
<ellipse cx="1958.0" cy="290.0" rx="6" ry="6" fill="#e02828" opacity="0.9" filter="url(#rblur)"/>
<radialGradient id="tg110" cx="0.45" cy="0.42" r="0.62"><stop offset="0" stop-color="#f8dcae"/><stop offset="0.55" stop-color="#f3c690"/><stop offset="1" stop-color="#eab27c"/></radialGradient>
<path d="M1543.5 364.7C1543.3 368.5 1541.2 372.5 1539.0 375.3C1536.9 378.0 1534.0 380.4 1530.7 381.3C1527.4 382.2 1522.7 381.9 1519.3 380.8C1515.9 379.7 1512.6 377.3 1510.3 374.6C1508.0 372.0 1505.4 368.9 1505.6 364.9C1505.7 360.9 1509.0 354.1 1511.3 350.6C1513.7 347.1 1516.4 345.1 1519.6 343.9C1522.9 342.8 1527.2 342.5 1530.6 343.9C1534.0 345.2 1538.0 348.7 1540.1 352.2C1542.3 355.7 1543.7 360.8 1543.5 364.7Z" fill="url(#tg110)" filter="url(#tblur)"/>
<ellipse cx="1535.0" cy="365.0" rx="5" ry="8" fill="#e85a3a" opacity="0.7" filter="url(#rblur)"/>
<radialGradient id="tg111" cx="0.45" cy="0.42" r="0.62"><stop offset="0" stop-color="#f2c090"/><stop offset="0.55" stop-color="#eca878"/><stop offset="1" stop-color="#e29668"/></radialGradient>
<path d="M1659.6 361.7C1659.4 365.6 1657.6 370.5 1655.5 373.5C1653.5 376.5 1650.6 378.6 1647.4 379.5C1644.2 380.4 1640.0 380.2 1636.4 379.0C1632.9 377.7 1628.5 375.2 1626.1 372.0C1623.6 368.8 1622.0 363.6 1621.9 359.8C1621.8 356.1 1623.6 352.6 1625.5 349.5C1627.5 346.5 1630.0 342.7 1633.8 341.6C1637.6 340.4 1644.4 341.1 1648.3 342.6C1652.1 344.0 1655.0 346.9 1656.9 350.1C1658.8 353.3 1659.8 357.8 1659.6 361.7Z" fill="url(#tg111)" filter="url(#tblur)"/>
<ellipse cx="1641.0" cy="364.5" rx="9" ry="8" fill="#e87048" opacity="0.45" filter="url(#rblur)"/>
<radialGradient id="tg112" cx="0.45" cy="0.42" r="0.62"><stop offset="0" stop-color="#f8dcae"/><stop offset="0.55" stop-color="#f3c690"/><stop offset="1" stop-color="#eab27c"/></radialGradient>
<path d="M1761.5 362.9C1761.6 366.9 1759.9 372.0 1757.1 375.3C1754.3 378.6 1748.5 381.8 1744.7 382.8C1741.0 383.9 1738.2 382.9 1734.5 381.6C1730.8 380.2 1725.4 378.0 1722.6 374.6C1719.7 371.2 1717.6 364.9 1717.6 361.1C1717.6 357.3 1720.1 354.5 1722.5 351.7C1724.8 348.9 1727.6 345.3 1731.8 344.3C1736.0 343.3 1743.5 344.3 1747.6 345.5C1751.7 346.7 1754.2 348.5 1756.5 351.4C1758.9 354.3 1761.4 358.9 1761.5 362.9Z" fill="url(#tg112)" filter="url(#tblur)"/>
<ellipse cx="1739.6" cy="365.0" rx="8" ry="7" fill="#eca070" opacity="0.4" filter="url(#rblur)"/>
<radialGradient id="tg113" cx="0.45" cy="0.42" r="0.62"><stop offset="0" stop-color="#fadcb0"/><stop offset="0.55" stop-color="#f4c896"/><stop offset="1" stop-color="#ecb888"/></radialGradient>
<path d="M1872.1 361.7C1871.8 365.5 1868.6 371.3 1866.1 374.5C1863.6 377.7 1861.0 379.7 1857.2 380.9C1853.5 382.1 1847.2 382.6 1843.6 381.6C1840.1 380.7 1837.7 378.3 1835.8 375.3C1833.9 372.3 1832.3 367.3 1832.2 363.5C1832.2 359.8 1833.4 355.9 1835.5 352.8C1837.6 349.6 1841.2 345.7 1844.9 344.7C1848.7 343.7 1854.2 345.8 1858.1 346.9C1861.9 348.0 1865.7 348.9 1868.1 351.3C1870.4 353.8 1872.4 357.8 1872.1 361.7Z" fill="url(#tg113)" filter="url(#tblur)"/>
<radialGradient id="tg114" cx="0.45" cy="0.42" r="0.62"><stop offset="0" stop-color="#f2be94"/><stop offset="0.55" stop-color="#eca47c"/><stop offset="1" stop-color="#e2926a"/></radialGradient>
<path d="M1968.5 361.1C1968.1 364.7 1967.2 370.0 1965.1 373.0C1963.0 375.9 1959.6 377.9 1956.0 378.9C1952.4 380.0 1946.6 380.3 1943.5 379.2C1940.4 378.2 1939.3 375.9 1937.3 372.8C1935.4 369.7 1931.9 364.1 1931.7 360.7C1931.6 357.3 1934.0 355.1 1936.5 352.2C1939.0 349.2 1943.5 344.3 1946.8 343.2C1950.1 342.0 1952.9 343.9 1956.3 345.3C1959.7 346.6 1965.3 348.7 1967.3 351.4C1969.3 354.0 1968.9 357.5 1968.5 361.1Z" fill="url(#tg114)" filter="url(#tblur)"/>
<ellipse cx="1942.0" cy="358.0" rx="6" ry="8" fill="#e02424" opacity="0.85" filter="url(#rblur)"/>
<text x="3.80" y="596.60" font-size="50" font-weight="bold">D</text>
<line x1="107.60" y1="1022.50" x2="121.20" y2="1022.50" stroke="#1a1a1a" stroke-width="1.6"/>
<text x="105.30" y="1031.50" font-size="25.5" font-weight="bold" text-anchor="end">0.0</text>
<line x1="107.60" y1="913.40" x2="121.20" y2="913.40" stroke="#1a1a1a" stroke-width="1.6"/>
<text x="105.30" y="922.40" font-size="25.5" font-weight="bold" text-anchor="end">0.5</text>
<line x1="107.60" y1="804.30" x2="121.20" y2="804.30" stroke="#1a1a1a" stroke-width="1.6"/>
<text x="105.30" y="813.30" font-size="25.5" font-weight="bold" text-anchor="end">1.0</text>
<line x1="107.60" y1="695.20" x2="121.20" y2="695.20" stroke="#1a1a1a" stroke-width="1.6"/>
<text x="105.30" y="704.20" font-size="25.5" font-weight="bold" text-anchor="end">1.5</text>
<line x1="121.20" y1="694.40" x2="121.20" y2="1022.50" stroke="#1a1a1a" stroke-width="1.8"/>
<line x1="107.60" y1="1022.50" x2="567.80" y2="1022.50" stroke="#1a1a1a" stroke-width="1.9"/>
<line x1="184.60" y1="1022.50" x2="184.60" y2="1036.00" stroke="#1a1a1a" stroke-width="1.6"/>
<line x1="343.60" y1="1022.50" x2="343.60" y2="1036.00" stroke="#1a1a1a" stroke-width="1.6"/>
<line x1="502.60" y1="1022.50" x2="502.60" y2="1036.00" stroke="#1a1a1a" stroke-width="1.6"/>
<text x="181.60" y="1061.90" font-size="25" font-weight="bold" text-anchor="middle">Vehicle</text>
<text x="344.00" y="1061.90" font-size="25" font-weight="bold" text-anchor="middle">Abemaciclib</text>
<text x="502.90" y="1061.90" font-size="25" font-weight="bold" text-anchor="middle">Volasertib</text>
<text x="54.20" y="970.50" font-size="27.5" font-weight="bold" transform="rotate(-90 54.20 970.50)" textLength="224" lengthAdjust="spacingAndGlyphs">Tumor Weight (g)</text>
<path d="M184.6 675.2V658.2H503V895.5" fill="none" stroke="#000" stroke-width="2.7"/>
<path d="M184.6 712.4V696.2H343.8V851.7" fill="none" stroke="#000" stroke-width="2.7"/>
<text x="305.00" y="649.20" font-size="38" font-weight="bold" textLength="76" lengthAdjust="spacing">****</text>
<text x="228.40" y="694.80" font-size="37" font-weight="bold" textLength="73" lengthAdjust="spacing">****</text>
<circle cx="184.4" cy="734.8" r="9.6" fill="none" stroke="#000" stroke-width="3.7"/>
<circle cx="206.6" cy="765.4" r="9.6" fill="none" stroke="#000" stroke-width="3.7"/>
<circle cx="162.8" cy="776.2" r="9.6" fill="none" stroke="#000" stroke-width="3.7"/>
<circle cx="206.6" cy="806.8" r="9.6" fill="none" stroke="#000" stroke-width="3.7"/>
<circle cx="162.8" cy="821.8" r="9.6" fill="none" stroke="#000" stroke-width="3.7"/>
<line x1="184.80" y1="746.20" x2="184.80" y2="815.20" stroke="#000" stroke-width="2.5"/>
<line x1="168.40" y1="746.20" x2="201.60" y2="746.20" stroke="#000" stroke-width="2.6" stroke-linecap="round"/>
<line x1="168.40" y1="815.20" x2="201.60" y2="815.20" stroke="#000" stroke-width="2.6" stroke-linecap="round"/>
<line x1="154.60" y1="781.00" x2="217.20" y2="781.00" stroke="#000" stroke-width="2.6" stroke-linecap="round"/>
<circle cx="322.1" cy="916.0" r="9.5" fill="none" stroke="#c8192f" stroke-width="3.4"/>
<circle cx="365.7" cy="920.6" r="9.5" fill="none" stroke="#c8192f" stroke-width="3.4"/>
<circle cx="322.1" cy="940.0" r="9.5" fill="none" stroke="#c8192f" stroke-width="3.4"/>
<circle cx="365.7" cy="953.0" r="9.5" fill="none" stroke="#c8192f" stroke-width="3.4"/>
<circle cx="344.2" cy="983.3" r="9.5" fill="none" stroke="#c8192f" stroke-width="3.4"/>
<line x1="344.20" y1="916.00" x2="344.20" y2="969.60" stroke="#c8192f" stroke-width="2.3"/>
<line x1="327.60" y1="916.00" x2="360.20" y2="916.00" stroke="#c8192f" stroke-width="2.4" stroke-linecap="round"/>
<line x1="327.60" y1="969.60" x2="360.20" y2="969.60" stroke="#c8192f" stroke-width="2.4" stroke-linecap="round"/>
<line x1="315.30" y1="942.70" x2="376.50" y2="942.70" stroke="#000" stroke-width="2.6" stroke-linecap="round"/>
<path d="M481.0 965.0L490.3 981.0L471.7 981.0Z" fill="none" stroke="#2c5d8f" stroke-width="3.5" stroke-linejoin="round"/>
<path d="M492.1 955.9L501.4 971.9L482.8 971.9Z" fill="none" stroke="#2c5d8f" stroke-width="3.5" stroke-linejoin="round"/>
<path d="M503.3 962.4L512.6 978.4L494.0 978.4Z" fill="none" stroke="#2c5d8f" stroke-width="3.5" stroke-linejoin="round"/>
<path d="M513.9 957.9L523.2 973.9L504.6 973.9Z" fill="none" stroke="#2c5d8f" stroke-width="3.5" stroke-linejoin="round"/>
<path d="M525.0 976.7L534.3 992.7L515.7 992.7Z" fill="none" stroke="#2c5d8f" stroke-width="3.5" stroke-linejoin="round"/>
<line x1="470.60" y1="971.30" x2="535.40" y2="971.30" stroke="#000" stroke-width="2.6" stroke-linecap="round"/>
<text x="652.50" y="596.70" font-size="50" font-weight="bold">E</text>
<line x1="765.60" y1="1022.30" x2="779.40" y2="1022.30" stroke="#222" stroke-width="1.6"/>
<text x="763.30" y="1031.50" font-size="26" font-weight="bold" text-anchor="end">0</text>
<line x1="765.60" y1="956.10" x2="779.40" y2="956.10" stroke="#222" stroke-width="1.6"/>
<text x="763.30" y="965.30" font-size="26" font-weight="bold" text-anchor="end">20</text>
<line x1="765.60" y1="889.90" x2="779.40" y2="889.90" stroke="#222" stroke-width="1.6"/>
<text x="763.30" y="899.10" font-size="26" font-weight="bold" text-anchor="end">40</text>
<line x1="765.60" y1="823.70" x2="779.40" y2="823.70" stroke="#222" stroke-width="1.6"/>
<text x="763.30" y="832.90" font-size="26" font-weight="bold" text-anchor="end">60</text>
<line x1="765.60" y1="757.50" x2="779.40" y2="757.50" stroke="#222" stroke-width="1.6"/>
<text x="763.30" y="766.70" font-size="26" font-weight="bold" text-anchor="end">80</text>
<line x1="765.60" y1="691.30" x2="779.40" y2="691.30" stroke="#222" stroke-width="1.6"/>
<text x="763.30" y="700.50" font-size="26" font-weight="bold" text-anchor="end">100</text>
<line x1="779.40" y1="690.50" x2="779.40" y2="1022.30" stroke="#222" stroke-width="1.6"/>
<line x1="765.60" y1="1022.30" x2="1231.00" y2="1022.30" stroke="#222" stroke-width="1.9"/>
<line x1="779.40" y1="1022.30" x2="779.40" y2="1036.00" stroke="#222" stroke-width="1.6"/>
<text x="779.40" y="1063.20" font-size="26" font-weight="bold" text-anchor="middle">0</text>
<line x1="869.60" y1="1022.30" x2="869.60" y2="1036.00" stroke="#222" stroke-width="1.6"/>
<text x="869.60" y="1063.20" font-size="26" font-weight="bold" text-anchor="middle">5</text>
<line x1="959.80" y1="1022.30" x2="959.80" y2="1036.00" stroke="#222" stroke-width="1.6"/>
<text x="959.80" y="1063.20" font-size="26" font-weight="bold" text-anchor="middle">10</text>
<line x1="1050.00" y1="1022.30" x2="1050.00" y2="1036.00" stroke="#222" stroke-width="1.6"/>
<text x="1050.00" y="1063.20" font-size="26" font-weight="bold" text-anchor="middle">15</text>
<line x1="1140.20" y1="1022.30" x2="1140.20" y2="1036.00" stroke="#222" stroke-width="1.6"/>
<text x="1140.20" y="1063.20" font-size="26" font-weight="bold" text-anchor="middle">20</text>
<line x1="1230.40" y1="1022.30" x2="1230.40" y2="1036.00" stroke="#222" stroke-width="1.6"/>
<text x="1230.40" y="1063.20" font-size="26" font-weight="bold" text-anchor="middle">25</text>
<text x="1002.70" y="1102.00" font-size="28.5" font-weight="bold" text-anchor="middle" textLength="191" lengthAdjust="spacingAndGlyphs">Treatment Day</text>
<text x="701.40" y="933.60" font-size="27.6" font-weight="bold" transform="rotate(-90 701.40 933.60)">&#946;2M (ng/mL)</text>
<defs><clipPath id="clipE"><rect x="780.2" y="600" width="500" height="421.4"/></clipPath></defs>
<g clip-path="url(#clipE)"><line x1="1158.24" y1="955.00" x2="1158.24" y2="990.20" stroke="#2c5d8f" stroke-width="2.8"/><line x1="1148.94" y1="955.00" x2="1167.54" y2="955.00" stroke="#2c5d8f" stroke-width="2.6" stroke-linecap="round"/><line x1="1148.94" y1="990.20" x2="1167.54" y2="990.20" stroke="#2c5d8f" stroke-width="2.6" stroke-linecap="round"/>
<path d="M779.40 1022.00L905.68 1017.20L1031.96 1011.00L1158.24 973.80" fill="none" stroke="#2c5d8f" stroke-width="3.8" stroke-linejoin="round"/>
<path d="M779.40 1013.20L789.52 1030.80L769.28 1030.80Z" fill="#fff" stroke="#2c5d8f" stroke-width="2.5" stroke-linejoin="round"/>
<path d="M905.68 1008.40L915.80 1026.00L895.56 1026.00Z" fill="#fff" stroke="#2c5d8f" stroke-width="2.5" stroke-linejoin="round"/>
<path d="M1031.96 1002.20L1042.08 1019.80L1021.84 1019.80Z" fill="#fff" stroke="#2c5d8f" stroke-width="2.5" stroke-linejoin="round"/>
<path d="M1158.24 965.00L1168.36 982.60L1148.12 982.60Z" fill="#fff" stroke="#2c5d8f" stroke-width="2.5" stroke-linejoin="round"/>
<line x1="1158.24" y1="907.70" x2="1158.24" y2="974.50" stroke="#c8192f" stroke-width="2.8"/><line x1="1148.94" y1="907.70" x2="1167.54" y2="907.70" stroke="#c8192f" stroke-width="2.6" stroke-linecap="round"/><line x1="1148.94" y1="974.50" x2="1167.54" y2="974.50" stroke="#c8192f" stroke-width="2.6" stroke-linecap="round"/>
<path d="M779.40 1021.80L905.68 1014.00L1031.96 1006.00L1158.24 941.30" fill="none" stroke="#c8192f" stroke-width="3.8" stroke-linejoin="round"/>
<circle cx="779.40" cy="1021.80" r="9.6" fill="#fff" stroke="#c8192f" stroke-width="2.4"/>
<circle cx="905.68" cy="1014.00" r="9.6" fill="#fff" stroke="#c8192f" stroke-width="2.4"/>
<circle cx="1031.96" cy="1006.00" r="9.6" fill="#fff" stroke="#c8192f" stroke-width="2.4"/>
<circle cx="1158.24" cy="941.30" r="9.6" fill="#fff" stroke="#c8192f" stroke-width="2.4"/>
<line x1="905.68" y1="986.00" x2="905.68" y2="1007.00" stroke="#000" stroke-width="2.8"/><line x1="896.38" y1="986.00" x2="914.98" y2="986.00" stroke="#000" stroke-width="2.6" stroke-linecap="round"/><line x1="896.38" y1="1007.00" x2="914.98" y2="1007.00" stroke="#000" stroke-width="2.6" stroke-linecap="round"/>
<line x1="1031.96" y1="895.70" x2="1031.96" y2="954.50" stroke="#000" stroke-width="2.8"/><line x1="1022.66" y1="895.70" x2="1041.26" y2="895.70" stroke="#000" stroke-width="2.6" stroke-linecap="round"/><line x1="1022.66" y1="954.50" x2="1041.26" y2="954.50" stroke="#000" stroke-width="2.6" stroke-linecap="round"/>
<line x1="1158.24" y1="739.80" x2="1158.24" y2="815.10" stroke="#000" stroke-width="2.8"/><line x1="1148.94" y1="739.80" x2="1167.54" y2="739.80" stroke="#000" stroke-width="2.6" stroke-linecap="round"/><line x1="1148.94" y1="815.10" x2="1167.54" y2="815.10" stroke="#000" stroke-width="2.6" stroke-linecap="round"/>
<path d="M779.40 1021.00L905.68 997.20L1031.96 925.20L1158.24 777.80" fill="none" stroke="#000" stroke-width="3.8" stroke-linejoin="round"/>
<circle cx="779.40" cy="1021.00" r="9.6" fill="#fff" stroke="#000" stroke-width="2.4"/>
<circle cx="905.68" cy="997.20" r="9.6" fill="#fff" stroke="#000" stroke-width="2.4"/>
<circle cx="1031.96" cy="925.20" r="9.6" fill="#fff" stroke="#000" stroke-width="2.4"/>
<circle cx="1158.24" cy="777.80" r="9.6" fill="#fff" stroke="#000" stroke-width="2.4"/></g>
<line x1="792.20" y1="714.40" x2="831.00" y2="714.40" stroke="#000" stroke-width="3.1" stroke-linecap="round"/>
<circle cx="811.40" cy="714.40" r="9.7" fill="#fff" stroke="#000" stroke-width="2.4"/>
<line x1="792.20" y1="749.20" x2="831.00" y2="749.20" stroke="#c8192f" stroke-width="3.1" stroke-linecap="round"/>
<circle cx="811.40" cy="749.20" r="9.7" fill="#fff" stroke="#c8192f" stroke-width="2.4"/>
<line x1="792.20" y1="784.20" x2="831.00" y2="784.20" stroke="#2c5d8f" stroke-width="3.1" stroke-linecap="round"/>
<path d="M811.40 775.50L821.98 793.90L800.82 793.90Z" fill="#fff" stroke="#2c5d8f" stroke-width="2.5" stroke-linejoin="round"/>
<text x="849.60" y="722.00" font-size="22.9">Vehicle</text>
<text x="849.60" y="756.40" font-size="22.9">Abemaciclib</text>
<text x="849.60" y="791.10" font-size="22.9">Volasertib</text>
<line x1="978.90" y1="700.90" x2="978.90" y2="752.10" stroke="#000" stroke-width="2.4"/>
<text x="987.60" y="743.50" font-size="37" font-weight="bold" textLength="73" lengthAdjust="spacing">****</text>
<line x1="1068.00" y1="700.90" x2="1068.00" y2="783.30" stroke="#000" stroke-width="2.4"/>
<text x="1077.20" y="759.80" font-size="37" font-weight="bold" textLength="73" lengthAdjust="spacing">****</text>
<text x="1264.30" y="596.60" font-size="50" font-weight="bold">F</text>
<defs><filter id="bblur" x="-20%" y="-60%" width="140%" height="220%"><feGaussianBlur stdDeviation="1.3"/></filter></defs>
<text x="1556.30" y="719.90" font-size="25.2" text-anchor="end" textLength="188.5" lengthAdjust="spacingAndGlyphs">Abemaciclib (nM)</text>
<text x="1595.00" y="718.00" font-size="26" transform="rotate(-56 1595.00 718.00)">0</text>
<text x="1635.50" y="718.00" font-size="26" transform="rotate(-56 1635.50 718.00)">125</text>
<text x="1676.00" y="718.00" font-size="26" transform="rotate(-56 1676.00 718.00)">250</text>
<text x="1715.00" y="718.00" font-size="26" transform="rotate(-56 1715.00 718.00)">500</text>
<text x="1755.50" y="718.00" font-size="26" transform="rotate(-56 1755.50 718.00)">1000</text>
<text x="1797.50" y="718.00" font-size="26" transform="rotate(-56 1797.50 718.00)">2000</text>
<rect x="1568.6" y="737.5" width="261.2" height="52.5" fill="#ececec" stroke="#000" stroke-width="2"/>
<text x="1556.40" y="775.65" font-size="27.5" text-anchor="end">p-Rb</text>
<rect x="1568.6" y="799.0" width="261.2" height="52.5" fill="#dcdcdc" stroke="#000" stroke-width="2"/>
<text x="1556.40" y="837.15" font-size="27.5" text-anchor="end">Rb</text>
<rect x="1568.6" y="860.0" width="261.2" height="53.2" fill="#d9d9d9" stroke="#000" stroke-width="2"/>
<text x="1556.40" y="898.50" font-size="27.5" text-anchor="end">CDK4</text>
<rect x="1568.6" y="922.5" width="261.2" height="51.7" fill="#dbdbdb" stroke="#000" stroke-width="2"/>
<text x="1556.40" y="960.25" font-size="27.5" text-anchor="end">CDK6</text>
<rect x="1568.6" y="983.3" width="261.2" height="52.1" fill="#d6d6d6" stroke="#000" stroke-width="2"/>
<text x="1556.40" y="1021.25" font-size="27.5" text-anchor="end">&#946;-actin</text>
<rect x="1578.0" y="759.5" width="33.6" height="8.5" rx="4.2" fill="#141414" opacity="1.0" filter="url(#bblur)"/>
<rect x="1620.7" y="759.5" width="29.3" height="8.5" rx="4.2" fill="#141414" opacity="1.0" filter="url(#bblur)"/>
<rect x="1659.7" y="759.5" width="29.3" height="8.5" rx="4.2" fill="#141414" opacity="0.85" filter="url(#bblur)"/>
<rect x="1701.0" y="759.5" width="27.0" height="8.5" rx="4.2" fill="#141414" opacity="0.85" filter="url(#bblur)"/>
<rect x="1739.0" y="759.5" width="30.0" height="8.5" rx="4.2" fill="#141414" opacity="0.28" filter="url(#bblur)"/>
<rect x="1779.7" y="759.5" width="34.3" height="8.5" rx="4.2" fill="#141414" opacity="0.16" filter="url(#bblur)"/>
<rect x="1576.6" y="818.0" width="38.4" height="10.5" rx="5.2" fill="#262626" opacity="0.92" filter="url(#bblur)"/>
<rect x="1620.5" y="818.0" width="31.5" height="10.5" rx="5.2" fill="#262626" opacity="0.92" filter="url(#bblur)"/>
<rect x="1660.0" y="818.0" width="31.7" height="10.5" rx="5.2" fill="#262626" opacity="0.92" filter="url(#bblur)"/>
<rect x="1698.0" y="818.0" width="32.8" height="10.5" rx="5.2" fill="#262626" opacity="0.92" filter="url(#bblur)"/>
<rect x="1737.4" y="818.0" width="33.3" height="10.5" rx="5.2" fill="#262626" opacity="0.92" filter="url(#bblur)"/>
<rect x="1778.0" y="818.0" width="38.3" height="10.5" rx="5.2" fill="#262626" opacity="0.92" filter="url(#bblur)"/>
<rect x="1578.0" y="881.6" width="34.8" height="9.5" rx="4.8" fill="#202020" opacity="0.95" filter="url(#bblur)"/>
<rect x="1618.0" y="881.6" width="34.7" height="9.5" rx="4.8" fill="#202020" opacity="0.95" filter="url(#bblur)"/>
<rect x="1658.5" y="881.6" width="36.9" height="9.5" rx="4.8" fill="#202020" opacity="0.95" filter="url(#bblur)"/>
<rect x="1701.0" y="881.6" width="36.4" height="9.5" rx="4.8" fill="#202020" opacity="0.95" filter="url(#bblur)"/>
<rect x="1744.0" y="881.6" width="34.6" height="9.5" rx="4.8" fill="#202020" opacity="0.95" filter="url(#bblur)"/>
<rect x="1785.0" y="881.6" width="35.0" height="9.5" rx="4.8" fill="#202020" opacity="0.95" filter="url(#bblur)"/>
<rect x="1577.4" y="944.6" width="32.6" height="6.8" rx="3.4" fill="#1c1c1c" opacity="0.95" filter="url(#bblur)"/>
<rect x="1617.2" y="944.6" width="33.3" height="6.8" rx="3.4" fill="#1c1c1c" opacity="0.95" filter="url(#bblur)"/>
<rect x="1659.2" y="944.6" width="33.3" height="6.8" rx="3.4" fill="#1c1c1c" opacity="0.95" filter="url(#bblur)"/>
<rect x="1701.9" y="944.6" width="34.7" height="6.8" rx="3.4" fill="#1c1c1c" opacity="0.95" filter="url(#bblur)"/>
<rect x="1743.9" y="944.6" width="34.0" height="6.8" rx="3.4" fill="#1c1c1c" opacity="0.95" filter="url(#bblur)"/>
<rect x="1785.9" y="944.6" width="31.1" height="6.8" rx="3.4" fill="#1c1c1c" opacity="0.95" filter="url(#bblur)"/>
<rect x="1575.0" y="1003.4" width="39.0" height="12.0" rx="6.0" fill="#1e1e1e" opacity="0.97" filter="url(#bblur)"/>
<rect x="1614.0" y="1003.4" width="42.0" height="12.0" rx="6.0" fill="#1e1e1e" opacity="0.97" filter="url(#bblur)"/>
<rect x="1656.0" y="1003.4" width="44.0" height="12.0" rx="6.0" fill="#1e1e1e" opacity="0.97" filter="url(#bblur)"/>
<rect x="1700.0" y="1003.4" width="43.0" height="12.0" rx="6.0" fill="#1e1e1e" opacity="0.97" filter="url(#bblur)"/>
<rect x="1743.0" y="1003.4" width="41.0" height="12.0" rx="6.0" fill="#1e1e1e" opacity="0.97" filter="url(#bblur)"/>
<rect x="1784.0" y="1003.4" width="42.0" height="12.0" rx="6.0" fill="#1e1e1e" opacity="0.97" filter="url(#bblur)"/>
<text x="425.60" y="1185.40" font-size="50" font-weight="bold">G</text>
<text x="711.70" y="1252.80" font-size="26.8" text-anchor="middle">H&amp;E</text>
<text x="991.40" y="1252.80" font-size="26.8" text-anchor="middle">p-Rb</text>
<text x="1271.00" y="1252.80" font-size="26.8" text-anchor="middle">TOPOII&#945;</text>
<text x="559.00" y="1386.00" font-size="27.2" text-anchor="end">Vehicle</text>
<text x="559.00" y="1619.40" font-size="27.2" text-anchor="end">Abemacicilb</text>
<defs><pattern id="he1" patternUnits="userSpaceOnUse" width="104" height="104">
<rect width="104" height="104" fill="#b4aae6"/>
<circle cx="2.8" cy="4.5" r="3.5" fill="#7464cc" stroke="#cfc8f2" stroke-width="0.8"/>
<circle cx="106.8" cy="4.5" r="3.5" fill="#7464cc" stroke="#cfc8f2" stroke-width="0.8"/>
<circle cx="10.2" cy="4.3" r="3.3" fill="#8a7cd8" stroke="#cfc8f2" stroke-width="0.8"/>
<circle cx="19.3" cy="2.7" r="3.1" fill="#8a7cd8" stroke="#cfc8f2" stroke-width="0.8"/>
<circle cx="19.3" cy="106.7" r="3.1" fill="#8a7cd8" stroke="#cfc8f2" stroke-width="0.8"/>
<circle cx="25.8" cy="4.3" r="3.1" fill="#8a7cd8" stroke="#cfc8f2" stroke-width="0.8"/>
<circle cx="32.9" cy="4.4" r="3.4" fill="#7c6cd2" stroke="#cfc8f2" stroke-width="0.8"/>
<circle cx="41.8" cy="2.6" r="3.1" fill="#7262ca" stroke="#cfc8f2" stroke-width="0.8"/>
<circle cx="41.8" cy="106.6" r="3.1" fill="#7262ca" stroke="#cfc8f2" stroke-width="0.8"/>
<circle cx="47.1" cy="4.6" r="3.4" fill="#8a7cd8" stroke="#cfc8f2" stroke-width="0.8"/>
<circle cx="56.3" cy="3.8" r="3.5" fill="#8a7cd8" stroke="#cfc8f2" stroke-width="0.8"/>
<circle cx="63.3" cy="3.3" r="3.4" fill="#8a7cd8" stroke="#cfc8f2" stroke-width="0.8"/>
<circle cx="63.3" cy="107.3" r="3.4" fill="#8a7cd8" stroke="#cfc8f2" stroke-width="0.8"/>
<circle cx="71.7" cy="4.7" r="3.3" fill="#7262ca" stroke="#cfc8f2" stroke-width="0.8"/>
<circle cx="79.0" cy="2.8" r="3.4" fill="#8070d4" stroke="#cfc8f2" stroke-width="0.8"/>
<circle cx="79.0" cy="106.8" r="3.4" fill="#8070d4" stroke="#cfc8f2" stroke-width="0.8"/>
<circle cx="86.3" cy="2.8" r="3.3" fill="#8070d4" stroke="#cfc8f2" stroke-width="0.8"/>
<circle cx="86.3" cy="106.8" r="3.3" fill="#8070d4" stroke="#cfc8f2" stroke-width="0.8"/>
<circle cx="94.0" cy="3.7" r="3.6" fill="#7262ca" stroke="#cfc8f2" stroke-width="0.8"/>
<circle cx="101.1" cy="4.1" r="3.3" fill="#7262ca" stroke="#cfc8f2" stroke-width="0.8"/>
<circle cx="-2.9" cy="4.1" r="3.3" fill="#7262ca" stroke="#cfc8f2" stroke-width="0.8"/>
<circle cx="8.6" cy="11.1" r="3.6" fill="#8a7cd8" stroke="#cfc8f2" stroke-width="0.8"/>
<circle cx="15.1" cy="10.0" r="3.2" fill="#8a7cd8" stroke="#cfc8f2" stroke-width="0.8"/>
<circle cx="22.1" cy="10.4" r="3.4" fill="#8070d4" stroke="#cfc8f2" stroke-width="0.8"/>
<circle cx="30.4" cy="11.7" r="3.1" fill="#8070d4" stroke="#cfc8f2" stroke-width="0.8"/>
<circle cx="37.2" cy="11.8" r="3.4" fill="#8a7cd8" stroke="#cfc8f2" stroke-width="0.8"/>
<circle cx="44.3" cy="11.7" r="3.3" fill="#7464cc" stroke="#cfc8f2" stroke-width="0.8"/>
<circle cx="52.5" cy="12.3" r="3.4" fill="#8a7cd8" stroke="#cfc8f2" stroke-width="0.8"/>
<circle cx="59.8" cy="10.3" r="3.2" fill="#7c6cd2" stroke="#cfc8f2" stroke-width="0.8"/>
<circle cx="67.5" cy="11.2" r="3.5" fill="#8474d6" stroke="#cfc8f2" stroke-width="0.8"/>
<circle cx="74.1" cy="10.8" r="3.5" fill="#7464cc" stroke="#cfc8f2" stroke-width="0.8"/>
<circle cx="81.6" cy="10.6" r="3.4" fill="#8070d4" stroke="#cfc8f2" stroke-width="0.8"/>
<circle cx="88.0" cy="11.8" r="3.5" fill="#8070d4" stroke="#cfc8f2" stroke-width="0.8"/>
<circle cx="96.6" cy="10.3" r="3.5" fill="#8474d6" stroke="#cfc8f2" stroke-width="0.8"/>
<circle cx="103.8" cy="10.1" r="3.5" fill="#7262ca" stroke="#cfc8f2" stroke-width="0.8"/>
<circle cx="-0.2" cy="10.1" r="3.5" fill="#7262ca" stroke="#cfc8f2" stroke-width="0.8"/>
<circle cx="3.8" cy="19.6" r="3.3" fill="#7464cc" stroke="#cfc8f2" stroke-width="0.8"/>
<circle cx="10.9" cy="17.4" r="3.4" fill="#7262ca" stroke="#cfc8f2" stroke-width="0.8"/>
<circle cx="18.2" cy="18.8" r="3.5" fill="#8070d4" stroke="#cfc8f2" stroke-width="0.8"/>
<circle cx="25.2" cy="18.8" r="3.5" fill="#7262ca" stroke="#cfc8f2" stroke-width="0.8"/>
<circle cx="34.1" cy="19.3" r="3.2" fill="#8070d4" stroke="#cfc8f2" stroke-width="0.8"/>
<circle cx="39.8" cy="19.5" r="3.3" fill="#7464cc" stroke="#cfc8f2" stroke-width="0.8"/>
<circle cx="47.7" cy="17.6" r="3.4" fill="#7464cc" stroke="#cfc8f2" stroke-width="0.8"/>
<circle cx="55.2" cy="17.8" r="3.2" fill="#8474d6" stroke="#cfc8f2" stroke-width="0.8"/>
<circle cx="63.5" cy="18.9" r="3.2" fill="#8070d4" stroke="#cfc8f2" stroke-width="0.8"/>
<circle cx="70.1" cy="18.5" r="3.1" fill="#8a7cd8" stroke="#cfc8f2" stroke-width="0.8"/>
<circle cx="77.6" cy="19.3" r="3.2" fill="#7464cc" stroke="#cfc8f2" stroke-width="0.8"/>
<circle cx="86.4" cy="18.6" r="3.2" fill="#7262ca" stroke="#cfc8f2" stroke-width="0.8"/>
<circle cx="92.7" cy="19.7" r="3.2" fill="#8a7cd8" stroke="#cfc8f2" stroke-width="0.8"/>
<circle cx="99.4" cy="19.1" r="3.2" fill="#8070d4" stroke="#cfc8f2" stroke-width="0.8"/>
<circle cx="7.4" cy="25.8" r="3.5" fill="#8070d4" stroke="#cfc8f2" stroke-width="0.8"/>
<circle cx="15.6" cy="26.0" r="3.2" fill="#8070d4" stroke="#cfc8f2" stroke-width="0.8"/>
<circle cx="21.2" cy="26.4" r="3.5" fill="#8070d4" stroke="#cfc8f2" stroke-width="0.8"/>
<circle cx="30.0" cy="24.9" r="3.2" fill="#8474d6" stroke="#cfc8f2" stroke-width="0.8"/>
<circle cx="38.0" cy="25.5" r="3.5" fill="#7464cc" stroke="#cfc8f2" stroke-width="0.8"/>
<circle cx="45.6" cy="25.5" r="3.2" fill="#7262ca" stroke="#cfc8f2" stroke-width="0.8"/>
<circle cx="51.4" cy="24.8" r="3.5" fill="#7c6cd2" stroke="#cfc8f2" stroke-width="0.8"/>
<circle cx="59.6" cy="25.3" r="3.6" fill="#8a7cd8" stroke="#cfc8f2" stroke-width="0.8"/>
<circle cx="66.1" cy="26.9" r="3.6" fill="#8070d4" stroke="#cfc8f2" stroke-width="0.8"/>
<circle cx="74.6" cy="24.9" r="3.2" fill="#7c6cd2" stroke="#cfc8f2" stroke-width="0.8"/>
<circle cx="81.0" cy="26.4" r="3.3" fill="#8474d6" stroke="#cfc8f2" stroke-width="0.8"/>
<circle cx="89.1" cy="27.1" r="3.3" fill="#7262ca" stroke="#cfc8f2" stroke-width="0.8"/>
<circle cx="96.6" cy="25.6" r="3.5" fill="#7464cc" stroke="#cfc8f2" stroke-width="0.8"/>
<circle cx="102.8" cy="25.3" r="3.3" fill="#7262ca" stroke="#cfc8f2" stroke-width="0.8"/>
<circle cx="-1.2" cy="25.3" r="3.3" fill="#7262ca" stroke="#cfc8f2" stroke-width="0.8"/>
<circle cx="4.4" cy="33.0" r="3.2" fill="#8070d4" stroke="#cfc8f2" stroke-width="0.8"/>
<circle cx="10.2" cy="33.1" r="3.4" fill="#8070d4" stroke="#cfc8f2" stroke-width="0.8"/>
<circle cx="18.7" cy="34.1" r="3.4" fill="#7c6cd2" stroke="#cfc8f2" stroke-width="0.8"/>
<circle cx="26.5" cy="32.4" r="3.2" fill="#7262ca" stroke="#cfc8f2" stroke-width="0.8"/>
<circle cx="32.7" cy="34.1" r="3.4" fill="#7464cc" stroke="#cfc8f2" stroke-width="0.8"/>
<circle cx="40.5" cy="33.0" r="3.2" fill="#7262ca" stroke="#cfc8f2" stroke-width="0.8"/>
<circle cx="49.0" cy="33.9" r="3.3" fill="#7262ca" stroke="#cfc8f2" stroke-width="0.8"/>
<circle cx="55.8" cy="32.5" r="3.1" fill="#7c6cd2" stroke="#cfc8f2" stroke-width="0.8"/>
<circle cx="62.9" cy="34.6" r="3.2" fill="#8474d6" stroke="#cfc8f2" stroke-width="0.8"/>
<circle cx="70.2" cy="33.7" r="3.5" fill="#8a7cd8" stroke="#cfc8f2" stroke-width="0.8"/>
<circle cx="77.0" cy="33.5" r="3.4" fill="#7464cc" stroke="#cfc8f2" stroke-width="0.8"/>
<circle cx="85.1" cy="32.9" r="3.4" fill="#7c6cd2" stroke="#cfc8f2" stroke-width="0.8"/>
<circle cx="92.8" cy="32.9" r="3.5" fill="#7464cc" stroke="#cfc8f2" stroke-width="0.8"/>
<circle cx="99.1" cy="33.8" r="3.1" fill="#7c6cd2" stroke="#cfc8f2" stroke-width="0.8"/>
<circle cx="8.2" cy="41.6" r="3.2" fill="#7262ca" stroke="#cfc8f2" stroke-width="0.8"/>
<circle cx="14.7" cy="39.9" r="3.2" fill="#8474d6" stroke="#cfc8f2" stroke-width="0.8"/>
<circle cx="21.5" cy="41.7" r="3.3" fill="#8a7cd8" stroke="#cfc8f2" stroke-width="0.8"/>
<circle cx="30.4" cy="41.0" r="3.5" fill="#7262ca" stroke="#cfc8f2" stroke-width="0.8"/>
<circle cx="36.6" cy="40.8" r="3.2" fill="#8070d4" stroke="#cfc8f2" stroke-width="0.8"/>
<circle cx="44.1" cy="39.7" r="3.5" fill="#7464cc" stroke="#cfc8f2" stroke-width="0.8"/>
<circle cx="52.5" cy="40.4" r="3.3" fill="#8a7cd8" stroke="#cfc8f2" stroke-width="0.8"/>
<circle cx="58.4" cy="41.8" r="3.6" fill="#8a7cd8" stroke="#cfc8f2" stroke-width="0.8"/>
<circle cx="65.9" cy="40.2" r="3.4" fill="#7262ca" stroke="#cfc8f2" stroke-width="0.8"/>
<circle cx="75.2" cy="40.8" r="3.3" fill="#8474d6" stroke="#cfc8f2" stroke-width="0.8"/>
<circle cx="81.8" cy="40.4" r="3.2" fill="#7c6cd2" stroke="#cfc8f2" stroke-width="0.8"/>
<circle cx="89.9" cy="39.9" r="3.5" fill="#7c6cd2" stroke="#cfc8f2" stroke-width="0.8"/>
<circle cx="96.9" cy="41.2" r="3.6" fill="#8a7cd8" stroke="#cfc8f2" stroke-width="0.8"/>
<circle cx="1.1" cy="39.8" r="3.2" fill="#7262ca" stroke="#cfc8f2" stroke-width="0.8"/>
<circle cx="105.1" cy="39.8" r="3.2" fill="#7262ca" stroke="#cfc8f2" stroke-width="0.8"/>
<circle cx="4.7" cy="47.8" r="3.3" fill="#7262ca" stroke="#cfc8f2" stroke-width="0.8"/>
<circle cx="11.4" cy="49.0" r="3.1" fill="#8474d6" stroke="#cfc8f2" stroke-width="0.8"/>
<circle cx="17.4" cy="47.7" r="3.1" fill="#7262ca" stroke="#cfc8f2" stroke-width="0.8"/>
<circle cx="26.9" cy="48.8" r="3.1" fill="#7c6cd2" stroke="#cfc8f2" stroke-width="0.8"/>
<circle cx="32.9" cy="49.0" r="3.3" fill="#8474d6" stroke="#cfc8f2" stroke-width="0.8"/>
<circle cx="39.9" cy="49.0" r="3.3" fill="#7262ca" stroke="#cfc8f2" stroke-width="0.8"/>
<circle cx="49.4" cy="47.5" r="3.5" fill="#8474d6" stroke="#cfc8f2" stroke-width="0.8"/>
<circle cx="56.5" cy="47.9" r="3.2" fill="#7262ca" stroke="#cfc8f2" stroke-width="0.8"/>
<circle cx="63.9" cy="48.5" r="3.2" fill="#8474d6" stroke="#cfc8f2" stroke-width="0.8"/>
<circle cx="69.7" cy="49.3" r="3.1" fill="#7464cc" stroke="#cfc8f2" stroke-width="0.8"/>
<circle cx="78.8" cy="48.6" r="3.4" fill="#7262ca" stroke="#cfc8f2" stroke-width="0.8"/>
<circle cx="86.2" cy="48.9" r="3.4" fill="#8474d6" stroke="#cfc8f2" stroke-width="0.8"/>
<circle cx="92.4" cy="48.4" r="3.1" fill="#8070d4" stroke="#cfc8f2" stroke-width="0.8"/>
<circle cx="99.7" cy="49.0" r="3.4" fill="#8a7cd8" stroke="#cfc8f2" stroke-width="0.8"/>
<circle cx="8.2" cy="55.8" r="3.4" fill="#7262ca" stroke="#cfc8f2" stroke-width="0.8"/>
<circle cx="14.7" cy="55.5" r="3.3" fill="#7464cc" stroke="#cfc8f2" stroke-width="0.8"/>
<circle cx="22.3" cy="56.4" r="3.6" fill="#7262ca" stroke="#cfc8f2" stroke-width="0.8"/>
<circle cx="28.6" cy="56.2" r="3.4" fill="#7262ca" stroke="#cfc8f2" stroke-width="0.8"/>
<circle cx="36.2" cy="55.1" r="3.5" fill="#8a7cd8" stroke="#cfc8f2" stroke-width="0.8"/>
<circle cx="44.7" cy="54.9" r="3.1" fill="#8a7cd8" stroke="#cfc8f2" stroke-width="0.8"/>
<circle cx="50.8" cy="55.8" r="3.4" fill="#8070d4" stroke="#cfc8f2" stroke-width="0.8"/>
<circle cx="60.4" cy="56.7" r="3.4" fill="#8474d6" stroke="#cfc8f2" stroke-width="0.8"/>
<circle cx="66.2" cy="55.7" r="3.3" fill="#8474d6" stroke="#cfc8f2" stroke-width="0.8"/>
<circle cx="74.8" cy="55.3" r="3.4" fill="#8070d4" stroke="#cfc8f2" stroke-width="0.8"/>
<circle cx="82.7" cy="55.2" r="3.4" fill="#7c6cd2" stroke="#cfc8f2" stroke-width="0.8"/>
<circle cx="90.2" cy="56.3" r="3.4" fill="#7464cc" stroke="#cfc8f2" stroke-width="0.8"/>
<circle cx="95.8" cy="56.4" r="3.5" fill="#7464cc" stroke="#cfc8f2" stroke-width="0.8"/>
<circle cx="103.5" cy="55.2" r="3.4" fill="#8474d6" stroke="#cfc8f2" stroke-width="0.8"/>
<circle cx="-0.5" cy="55.2" r="3.4" fill="#8474d6" stroke="#cfc8f2" stroke-width="0.8"/>
<circle cx="4.2" cy="63.7" r="3.4" fill="#7c6cd2" stroke="#cfc8f2" stroke-width="0.8"/>
<circle cx="12.1" cy="64.2" r="3.4" fill="#8474d6" stroke="#cfc8f2" stroke-width="0.8"/>
<circle cx="17.7" cy="63.0" r="3.6" fill="#8070d4" stroke="#cfc8f2" stroke-width="0.8"/>
<circle cx="26.6" cy="62.1" r="3.4" fill="#8070d4" stroke="#cfc8f2" stroke-width="0.8"/>
<circle cx="33.8" cy="62.9" r="3.5" fill="#7262ca" stroke="#cfc8f2" stroke-width="0.8"/>
<circle cx="41.4" cy="62.0" r="3.6" fill="#7464cc" stroke="#cfc8f2" stroke-width="0.8"/>
<circle cx="48.6" cy="62.6" r="3.6" fill="#8474d6" stroke="#cfc8f2" stroke-width="0.8"/>
<circle cx="56.8" cy="63.4" r="3.6" fill="#8070d4" stroke="#cfc8f2" stroke-width="0.8"/>
<circle cx="63.6" cy="63.0" r="3.6" fill="#8a7cd8" stroke="#cfc8f2" stroke-width="0.8"/>
<circle cx="71.6" cy="64.1" r="3.3" fill="#7464cc" stroke="#cfc8f2" stroke-width="0.8"/>
<circle cx="77.9" cy="63.4" r="3.3" fill="#8474d6" stroke="#cfc8f2" stroke-width="0.8"/>
<circle cx="84.5" cy="63.4" r="3.3" fill="#7c6cd2" stroke="#cfc8f2" stroke-width="0.8"/>
<circle cx="93.2" cy="62.6" r="3.3" fill="#7262ca" stroke="#cfc8f2" stroke-width="0.8"/>
<circle cx="99.1" cy="62.4" r="3.3" fill="#7c6cd2" stroke="#cfc8f2" stroke-width="0.8"/>
<circle cx="6.3" cy="71.7" r="3.2" fill="#7464cc" stroke="#cfc8f2" stroke-width="0.8"/>
<circle cx="14.2" cy="70.1" r="3.4" fill="#7464cc" stroke="#cfc8f2" stroke-width="0.8"/>
<circle cx="21.8" cy="71.2" r="3.5" fill="#8a7cd8" stroke="#cfc8f2" stroke-width="0.8"/>
<circle cx="30.4" cy="71.3" r="3.6" fill="#7262ca" stroke="#cfc8f2" stroke-width="0.8"/>
<circle cx="36.8" cy="70.4" r="3.2" fill="#8474d6" stroke="#cfc8f2" stroke-width="0.8"/>
<circle cx="44.7" cy="70.3" r="3.2" fill="#7c6cd2" stroke="#cfc8f2" stroke-width="0.8"/>
<circle cx="53.0" cy="69.4" r="3.4" fill="#7c6cd2" stroke="#cfc8f2" stroke-width="0.8"/>
<circle cx="59.5" cy="71.7" r="3.5" fill="#8070d4" stroke="#cfc8f2" stroke-width="0.8"/>
<circle cx="66.0" cy="70.6" r="3.4" fill="#7464cc" stroke="#cfc8f2" stroke-width="0.8"/>
<circle cx="74.1" cy="71.0" r="3.5" fill="#7464cc" stroke="#cfc8f2" stroke-width="0.8"/>
<circle cx="80.5" cy="70.4" r="3.3" fill="#7464cc" stroke="#cfc8f2" stroke-width="0.8"/>
<circle cx="89.2" cy="70.2" r="3.5" fill="#7262ca" stroke="#cfc8f2" stroke-width="0.8"/>
<circle cx="96.6" cy="70.9" r="3.3" fill="#8474d6" stroke="#cfc8f2" stroke-width="0.8"/>
<circle cx="0.1" cy="71.8" r="3.4" fill="#8070d4" stroke="#cfc8f2" stroke-width="0.8"/>
<circle cx="104.1" cy="71.8" r="3.4" fill="#8070d4" stroke="#cfc8f2" stroke-width="0.8"/>
<circle cx="4.6" cy="78.8" r="3.4" fill="#8a7cd8" stroke="#cfc8f2" stroke-width="0.8"/>
<circle cx="11.4" cy="78.0" r="3.6" fill="#8070d4" stroke="#cfc8f2" stroke-width="0.8"/>
<circle cx="19.7" cy="77.5" r="3.2" fill="#7262ca" stroke="#cfc8f2" stroke-width="0.8"/>
<circle cx="26.4" cy="77.3" r="3.4" fill="#8070d4" stroke="#cfc8f2" stroke-width="0.8"/>
<circle cx="33.2" cy="77.8" r="3.3" fill="#7262ca" stroke="#cfc8f2" stroke-width="0.8"/>
<circle cx="41.1" cy="78.6" r="3.5" fill="#8070d4" stroke="#cfc8f2" stroke-width="0.8"/>
<circle cx="47.2" cy="79.2" r="3.2" fill="#8070d4" stroke="#cfc8f2" stroke-width="0.8"/>
<circle cx="55.2" cy="76.8" r="3.5" fill="#8474d6" stroke="#cfc8f2" stroke-width="0.8"/>
<circle cx="63.5" cy="79.0" r="3.5" fill="#8474d6" stroke="#cfc8f2" stroke-width="0.8"/>
<circle cx="71.2" cy="78.8" r="3.4" fill="#7464cc" stroke="#cfc8f2" stroke-width="0.8"/>
<circle cx="79.0" cy="78.7" r="3.3" fill="#8070d4" stroke="#cfc8f2" stroke-width="0.8"/>
<circle cx="85.5" cy="77.2" r="3.5" fill="#8a7cd8" stroke="#cfc8f2" stroke-width="0.8"/>
<circle cx="92.1" cy="78.0" r="3.2" fill="#7c6cd2" stroke="#cfc8f2" stroke-width="0.8"/>
<circle cx="100.9" cy="77.8" r="3.3" fill="#8070d4" stroke="#cfc8f2" stroke-width="0.8"/>
<circle cx="-3.1" cy="77.8" r="3.3" fill="#8070d4" stroke="#cfc8f2" stroke-width="0.8"/>
<circle cx="7.3" cy="84.6" r="3.5" fill="#8474d6" stroke="#cfc8f2" stroke-width="0.8"/>
<circle cx="15.3" cy="85.2" r="3.4" fill="#7262ca" stroke="#cfc8f2" stroke-width="0.8"/>
<circle cx="21.8" cy="85.5" r="3.2" fill="#7464cc" stroke="#cfc8f2" stroke-width="0.8"/>
<circle cx="29.2" cy="84.4" r="3.5" fill="#7262ca" stroke="#cfc8f2" stroke-width="0.8"/>
<circle cx="37.5" cy="85.4" r="3.4" fill="#7c6cd2" stroke="#cfc8f2" stroke-width="0.8"/>
<circle cx="43.8" cy="85.8" r="3.5" fill="#7262ca" stroke="#cfc8f2" stroke-width="0.8"/>
<circle cx="51.4" cy="85.7" r="3.2" fill="#7262ca" stroke="#cfc8f2" stroke-width="0.8"/>
<circle cx="59.2" cy="85.4" r="3.2" fill="#7262ca" stroke="#cfc8f2" stroke-width="0.8"/>
<circle cx="66.4" cy="84.8" r="3.6" fill="#8070d4" stroke="#cfc8f2" stroke-width="0.8"/>
<circle cx="73.7" cy="85.8" r="3.5" fill="#7262ca" stroke="#cfc8f2" stroke-width="0.8"/>
<circle cx="81.5" cy="86.5" r="3.6" fill="#8474d6" stroke="#cfc8f2" stroke-width="0.8"/>
<circle cx="89.8" cy="84.7" r="3.4" fill="#8474d6" stroke="#cfc8f2" stroke-width="0.8"/>
<circle cx="97.5" cy="85.6" r="3.4" fill="#8070d4" stroke="#cfc8f2" stroke-width="0.8"/>
<circle cx="103.2" cy="86.5" r="3.3" fill="#8474d6" stroke="#cfc8f2" stroke-width="0.8"/>
<circle cx="-0.8" cy="86.5" r="3.3" fill="#8474d6" stroke="#cfc8f2" stroke-width="0.8"/>
<circle cx="2.8" cy="92.0" r="3.5" fill="#7464cc" stroke="#cfc8f2" stroke-width="0.8"/>
<circle cx="106.8" cy="92.0" r="3.5" fill="#7464cc" stroke="#cfc8f2" stroke-width="0.8"/>
<circle cx="10.7" cy="92.6" r="3.2" fill="#8474d6" stroke="#cfc8f2" stroke-width="0.8"/>
<circle cx="19.1" cy="92.4" r="3.2" fill="#8a7cd8" stroke="#cfc8f2" stroke-width="0.8"/>
<circle cx="25.6" cy="93.9" r="3.6" fill="#7c6cd2" stroke="#cfc8f2" stroke-width="0.8"/>
<circle cx="32.4" cy="93.1" r="3.5" fill="#8474d6" stroke="#cfc8f2" stroke-width="0.8"/>
<circle cx="41.3" cy="92.8" r="3.4" fill="#8070d4" stroke="#cfc8f2" stroke-width="0.8"/>
<circle cx="49.4" cy="93.1" r="3.3" fill="#7464cc" stroke="#cfc8f2" stroke-width="0.8"/>
<circle cx="54.8" cy="93.3" r="3.1" fill="#8a7cd8" stroke="#cfc8f2" stroke-width="0.8"/>
<circle cx="62.5" cy="92.7" r="3.5" fill="#8474d6" stroke="#cfc8f2" stroke-width="0.8"/>
<circle cx="69.9" cy="92.3" r="3.4" fill="#8a7cd8" stroke="#cfc8f2" stroke-width="0.8"/>
<circle cx="77.3" cy="93.4" r="3.3" fill="#7262ca" stroke="#cfc8f2" stroke-width="0.8"/>
<circle cx="84.5" cy="92.2" r="3.1" fill="#7c6cd2" stroke="#cfc8f2" stroke-width="0.8"/>
<circle cx="93.6" cy="93.7" r="3.3" fill="#8a7cd8" stroke="#cfc8f2" stroke-width="0.8"/>
<circle cx="101.1" cy="92.3" r="3.2" fill="#8474d6" stroke="#cfc8f2" stroke-width="0.8"/>
<circle cx="-2.9" cy="92.3" r="3.2" fill="#8474d6" stroke="#cfc8f2" stroke-width="0.8"/>
<circle cx="8.3" cy="100.9" r="3.2" fill="#7c6cd2" stroke="#cfc8f2" stroke-width="0.8"/>
<circle cx="8.3" cy="-3.1" r="3.2" fill="#7c6cd2" stroke="#cfc8f2" stroke-width="0.8"/>
<circle cx="13.7" cy="99.4" r="3.4" fill="#7c6cd2" stroke="#cfc8f2" stroke-width="0.8"/>
<circle cx="22.4" cy="99.7" r="3.1" fill="#8070d4" stroke="#cfc8f2" stroke-width="0.8"/>
<circle cx="30.5" cy="101.3" r="3.1" fill="#7c6cd2" stroke="#cfc8f2" stroke-width="0.8"/>
<circle cx="30.5" cy="-2.7" r="3.1" fill="#7c6cd2" stroke="#cfc8f2" stroke-width="0.8"/>
<circle cx="37.2" cy="99.4" r="3.6" fill="#7c6cd2" stroke="#cfc8f2" stroke-width="0.8"/>
<circle cx="44.4" cy="99.5" r="3.3" fill="#8474d6" stroke="#cfc8f2" stroke-width="0.8"/>
<circle cx="52.6" cy="100.7" r="3.5" fill="#8070d4" stroke="#cfc8f2" stroke-width="0.8"/>
<circle cx="52.6" cy="-3.3" r="3.5" fill="#8070d4" stroke="#cfc8f2" stroke-width="0.8"/>
<circle cx="59.3" cy="99.9" r="3.2" fill="#7464cc" stroke="#cfc8f2" stroke-width="0.8"/>
<circle cx="67.2" cy="99.7" r="3.1" fill="#7262ca" stroke="#cfc8f2" stroke-width="0.8"/>
<circle cx="73.5" cy="100.1" r="3.4" fill="#8070d4" stroke="#cfc8f2" stroke-width="0.8"/>
<circle cx="81.8" cy="99.2" r="3.3" fill="#8a7cd8" stroke="#cfc8f2" stroke-width="0.8"/>
<circle cx="89.2" cy="100.8" r="3.4" fill="#8070d4" stroke="#cfc8f2" stroke-width="0.8"/>
<circle cx="89.2" cy="-3.2" r="3.4" fill="#8070d4" stroke="#cfc8f2" stroke-width="0.8"/>
<circle cx="95.5" cy="99.7" r="3.4" fill="#7c6cd2" stroke="#cfc8f2" stroke-width="0.8"/>
<circle cx="103.4" cy="101.4" r="3.2" fill="#8474d6" stroke="#cfc8f2" stroke-width="0.8"/>
<circle cx="-0.6" cy="101.4" r="3.2" fill="#8474d6" stroke="#cfc8f2" stroke-width="0.8"/>
<circle cx="103.4" cy="-2.6" r="3.2" fill="#8474d6" stroke="#cfc8f2" stroke-width="0.8"/>
</pattern><pattern id="he2" patternUnits="userSpaceOnUse" width="106" height="106">
<rect width="106" height="106" fill="#b6ace6"/>
<circle cx="4.9" cy="4.9" r="3.3" fill="#6858c6" stroke="#e2def6" stroke-width="0.9"/>
<circle cx="11.0" cy="3.0" r="3.7" fill="#7060cc" stroke="#e2def6" stroke-width="0.9"/>
<circle cx="11.0" cy="109.0" r="3.7" fill="#7060cc" stroke="#e2def6" stroke-width="0.9"/>
<circle cx="18.3" cy="3.1" r="3.3" fill="#6454c4" stroke="#e2def6" stroke-width="0.9"/>
<circle cx="18.3" cy="109.1" r="3.3" fill="#6454c4" stroke="#e2def6" stroke-width="0.9"/>
<circle cx="25.7" cy="3.6" r="3.5" fill="#6454c4" stroke="#e2def6" stroke-width="0.9"/>
<circle cx="34.9" cy="3.8" r="3.5" fill="#5446b8" stroke="#e2def6" stroke-width="0.9"/>
<circle cx="41.6" cy="4.7" r="3.7" fill="#7060cc" stroke="#e2def6" stroke-width="0.9"/>
<circle cx="49.1" cy="3.4" r="3.5" fill="#7666ce" stroke="#e2def6" stroke-width="0.9"/>
<circle cx="49.1" cy="109.4" r="3.5" fill="#7666ce" stroke="#e2def6" stroke-width="0.9"/>
<circle cx="56.0" cy="3.0" r="3.4" fill="#5e4ebe" stroke="#e2def6" stroke-width="0.9"/>
<circle cx="56.0" cy="109.0" r="3.4" fill="#5e4ebe" stroke="#e2def6" stroke-width="0.9"/>
<circle cx="63.9" cy="2.9" r="3.5" fill="#7666ce" stroke="#e2def6" stroke-width="0.9"/>
<circle cx="63.9" cy="108.9" r="3.5" fill="#7666ce" stroke="#e2def6" stroke-width="0.9"/>
<circle cx="72.3" cy="3.0" r="3.7" fill="#5446b8" stroke="#e2def6" stroke-width="0.9"/>
<circle cx="72.3" cy="109.0" r="3.7" fill="#5446b8" stroke="#e2def6" stroke-width="0.9"/>
<circle cx="80.1" cy="4.8" r="3.6" fill="#7666ce" stroke="#e2def6" stroke-width="0.9"/>
<circle cx="86.7" cy="4.9" r="3.7" fill="#5e4ebe" stroke="#e2def6" stroke-width="0.9"/>
<circle cx="95.7" cy="3.5" r="3.6" fill="#6454c4" stroke="#e2def6" stroke-width="0.9"/>
<circle cx="95.7" cy="109.5" r="3.6" fill="#6454c4" stroke="#e2def6" stroke-width="0.9"/>
<circle cx="102.3" cy="3.8" r="3.7" fill="#7666ce" stroke="#e2def6" stroke-width="0.9"/>
<circle cx="-3.7" cy="3.8" r="3.7" fill="#7666ce" stroke="#e2def6" stroke-width="0.9"/>
<circle cx="7.6" cy="12.1" r="3.6" fill="#5446b8" stroke="#e2def6" stroke-width="0.9"/>
<circle cx="16.1" cy="11.3" r="3.6" fill="#7666ce" stroke="#e2def6" stroke-width="0.9"/>
<circle cx="23.3" cy="11.3" r="3.4" fill="#7060cc" stroke="#e2def6" stroke-width="0.9"/>
<circle cx="31.0" cy="12.2" r="3.7" fill="#7666ce" stroke="#e2def6" stroke-width="0.9"/>
<circle cx="37.3" cy="12.3" r="3.4" fill="#6454c4" stroke="#e2def6" stroke-width="0.9"/>
<circle cx="46.2" cy="11.5" r="3.5" fill="#7666ce" stroke="#e2def6" stroke-width="0.9"/>
<circle cx="53.2" cy="10.9" r="3.4" fill="#7666ce" stroke="#e2def6" stroke-width="0.9"/>
<circle cx="60.3" cy="11.8" r="3.7" fill="#7060cc" stroke="#e2def6" stroke-width="0.9"/>
<circle cx="68.7" cy="12.3" r="3.4" fill="#6454c4" stroke="#e2def6" stroke-width="0.9"/>
<circle cx="74.8" cy="11.5" r="3.3" fill="#7666ce" stroke="#e2def6" stroke-width="0.9"/>
<circle cx="82.6" cy="12.3" r="3.3" fill="#7666ce" stroke="#e2def6" stroke-width="0.9"/>
<circle cx="90.0" cy="10.8" r="3.7" fill="#6858c6" stroke="#e2def6" stroke-width="0.9"/>
<circle cx="98.2" cy="11.9" r="3.3" fill="#7060cc" stroke="#e2def6" stroke-width="0.9"/>
<circle cx="105.7" cy="10.8" r="3.3" fill="#6858c6" stroke="#e2def6" stroke-width="0.9"/>
<circle cx="-0.3" cy="10.8" r="3.3" fill="#6858c6" stroke="#e2def6" stroke-width="0.9"/>
<circle cx="4.9" cy="17.8" r="3.6" fill="#6858c6" stroke="#e2def6" stroke-width="0.9"/>
<circle cx="11.1" cy="18.0" r="3.7" fill="#6454c4" stroke="#e2def6" stroke-width="0.9"/>
<circle cx="18.2" cy="19.4" r="3.5" fill="#6858c6" stroke="#e2def6" stroke-width="0.9"/>
<circle cx="27.2" cy="18.3" r="3.7" fill="#6858c6" stroke="#e2def6" stroke-width="0.9"/>
<circle cx="33.7" cy="19.2" r="3.6" fill="#6858c6" stroke="#e2def6" stroke-width="0.9"/>
<circle cx="41.1" cy="18.9" r="3.4" fill="#7666ce" stroke="#e2def6" stroke-width="0.9"/>
<circle cx="49.9" cy="19.5" r="3.7" fill="#5446b8" stroke="#e2def6" stroke-width="0.9"/>
<circle cx="57.7" cy="19.4" r="3.5" fill="#5e4ebe" stroke="#e2def6" stroke-width="0.9"/>
<circle cx="63.4" cy="19.4" r="3.7" fill="#6858c6" stroke="#e2def6" stroke-width="0.9"/>
<circle cx="71.8" cy="19.8" r="3.4" fill="#7666ce" stroke="#e2def6" stroke-width="0.9"/>
<circle cx="80.2" cy="18.9" r="3.4" fill="#7060cc" stroke="#e2def6" stroke-width="0.9"/>
<circle cx="86.5" cy="19.2" r="3.5" fill="#6858c6" stroke="#e2def6" stroke-width="0.9"/>
<circle cx="95.1" cy="20.0" r="3.6" fill="#7060cc" stroke="#e2def6" stroke-width="0.9"/>
<circle cx="101.1" cy="18.1" r="3.3" fill="#6454c4" stroke="#e2def6" stroke-width="0.9"/>
<circle cx="6.9" cy="27.5" r="3.6" fill="#6858c6" stroke="#e2def6" stroke-width="0.9"/>
<circle cx="16.3" cy="25.9" r="3.5" fill="#7060cc" stroke="#e2def6" stroke-width="0.9"/>
<circle cx="21.7" cy="25.8" r="3.7" fill="#7666ce" stroke="#e2def6" stroke-width="0.9"/>
<circle cx="30.8" cy="25.9" r="3.5" fill="#7666ce" stroke="#e2def6" stroke-width="0.9"/>
<circle cx="38.5" cy="25.7" r="3.5" fill="#5e4ebe" stroke="#e2def6" stroke-width="0.9"/>
<circle cx="44.5" cy="27.0" r="3.4" fill="#6858c6" stroke="#e2def6" stroke-width="0.9"/>
<circle cx="51.8" cy="27.1" r="3.3" fill="#6858c6" stroke="#e2def6" stroke-width="0.9"/>
<circle cx="60.6" cy="26.4" r="3.4" fill="#6454c4" stroke="#e2def6" stroke-width="0.9"/>
<circle cx="67.9" cy="26.9" r="3.6" fill="#5e4ebe" stroke="#e2def6" stroke-width="0.9"/>
<circle cx="76.3" cy="26.3" r="3.5" fill="#7666ce" stroke="#e2def6" stroke-width="0.9"/>
<circle cx="83.5" cy="27.4" r="3.7" fill="#7666ce" stroke="#e2def6" stroke-width="0.9"/>
<circle cx="90.1" cy="25.5" r="3.7" fill="#7060cc" stroke="#e2def6" stroke-width="0.9"/>
<circle cx="97.3" cy="27.6" r="3.4" fill="#7060cc" stroke="#e2def6" stroke-width="0.9"/>
<circle cx="105.5" cy="27.7" r="3.5" fill="#6858c6" stroke="#e2def6" stroke-width="0.9"/>
<circle cx="-0.5" cy="27.7" r="3.5" fill="#6858c6" stroke="#e2def6" stroke-width="0.9"/>
<circle cx="4.7" cy="33.9" r="3.3" fill="#5e4ebe" stroke="#e2def6" stroke-width="0.9"/>
<circle cx="12.2" cy="34.5" r="3.3" fill="#5446b8" stroke="#e2def6" stroke-width="0.9"/>
<circle cx="17.9" cy="34.4" r="3.5" fill="#7666ce" stroke="#e2def6" stroke-width="0.9"/>
<circle cx="26.8" cy="32.9" r="3.3" fill="#7060cc" stroke="#e2def6" stroke-width="0.9"/>
<circle cx="35.1" cy="33.1" r="3.6" fill="#5e4ebe" stroke="#e2def6" stroke-width="0.9"/>
<circle cx="40.7" cy="33.8" r="3.6" fill="#5e4ebe" stroke="#e2def6" stroke-width="0.9"/>
<circle cx="49.8" cy="33.8" r="3.4" fill="#6858c6" stroke="#e2def6" stroke-width="0.9"/>
<circle cx="55.9" cy="34.4" r="3.5" fill="#5446b8" stroke="#e2def6" stroke-width="0.9"/>
<circle cx="65.5" cy="34.5" r="3.3" fill="#6454c4" stroke="#e2def6" stroke-width="0.9"/>
<circle cx="71.9" cy="33.0" r="3.6" fill="#7060cc" stroke="#e2def6" stroke-width="0.9"/>
<circle cx="79.2" cy="34.0" r="3.7" fill="#7060cc" stroke="#e2def6" stroke-width="0.9"/>
<circle cx="87.0" cy="34.9" r="3.6" fill="#6454c4" stroke="#e2def6" stroke-width="0.9"/>
<circle cx="95.4" cy="35.1" r="3.7" fill="#7060cc" stroke="#e2def6" stroke-width="0.9"/>
<circle cx="102.0" cy="33.2" r="3.6" fill="#7666ce" stroke="#e2def6" stroke-width="0.9"/>
<circle cx="7.4" cy="42.1" r="3.7" fill="#7666ce" stroke="#e2def6" stroke-width="0.9"/>
<circle cx="15.7" cy="41.8" r="3.3" fill="#5e4ebe" stroke="#e2def6" stroke-width="0.9"/>
<circle cx="23.9" cy="40.8" r="3.5" fill="#6858c6" stroke="#e2def6" stroke-width="0.9"/>
<circle cx="31.0" cy="42.6" r="3.6" fill="#6454c4" stroke="#e2def6" stroke-width="0.9"/>
<circle cx="36.7" cy="42.8" r="3.5" fill="#6454c4" stroke="#e2def6" stroke-width="0.9"/>
<circle cx="45.8" cy="42.1" r="3.5" fill="#7666ce" stroke="#e2def6" stroke-width="0.9"/>
<circle cx="52.5" cy="40.8" r="3.7" fill="#5446b8" stroke="#e2def6" stroke-width="0.9"/>
<circle cx="59.6" cy="41.7" r="3.6" fill="#7060cc" stroke="#e2def6" stroke-width="0.9"/>
<circle cx="67.3" cy="40.8" r="3.7" fill="#5e4ebe" stroke="#e2def6" stroke-width="0.9"/>
<circle cx="75.5" cy="42.8" r="3.7" fill="#7666ce" stroke="#e2def6" stroke-width="0.9"/>
<circle cx="83.8" cy="41.6" r="3.6" fill="#7666ce" stroke="#e2def6" stroke-width="0.9"/>
<circle cx="90.6" cy="42.2" r="3.5" fill="#6858c6" stroke="#e2def6" stroke-width="0.9"/>
<circle cx="98.4" cy="41.4" r="3.6" fill="#5446b8" stroke="#e2def6" stroke-width="0.9"/>
<circle cx="0.5" cy="41.6" r="3.7" fill="#7060cc" stroke="#e2def6" stroke-width="0.9"/>
<circle cx="106.5" cy="41.6" r="3.7" fill="#7060cc" stroke="#e2def6" stroke-width="0.9"/>
<circle cx="4.3" cy="50.2" r="3.3" fill="#6454c4" stroke="#e2def6" stroke-width="0.9"/>
<circle cx="10.7" cy="49.5" r="3.5" fill="#6454c4" stroke="#e2def6" stroke-width="0.9"/>
<circle cx="18.6" cy="50.1" r="3.7" fill="#7060cc" stroke="#e2def6" stroke-width="0.9"/>
<circle cx="26.4" cy="49.7" r="3.7" fill="#6454c4" stroke="#e2def6" stroke-width="0.9"/>
<circle cx="33.3" cy="48.2" r="3.5" fill="#5e4ebe" stroke="#e2def6" stroke-width="0.9"/>
<circle cx="42.2" cy="49.5" r="3.7" fill="#6858c6" stroke="#e2def6" stroke-width="0.9"/>
<circle cx="49.0" cy="49.4" r="3.7" fill="#7060cc" stroke="#e2def6" stroke-width="0.9"/>
<circle cx="57.4" cy="49.4" r="3.4" fill="#7666ce" stroke="#e2def6" stroke-width="0.9"/>
<circle cx="63.5" cy="49.5" r="3.5" fill="#7060cc" stroke="#e2def6" stroke-width="0.9"/>
<circle cx="72.0" cy="48.4" r="3.6" fill="#6858c6" stroke="#e2def6" stroke-width="0.9"/>
<circle cx="79.1" cy="50.2" r="3.5" fill="#6454c4" stroke="#e2def6" stroke-width="0.9"/>
<circle cx="87.5" cy="49.8" r="3.5" fill="#6454c4" stroke="#e2def6" stroke-width="0.9"/>
<circle cx="95.7" cy="49.1" r="3.7" fill="#5446b8" stroke="#e2def6" stroke-width="0.9"/>
<circle cx="101.1" cy="48.2" r="3.6" fill="#5e4ebe" stroke="#e2def6" stroke-width="0.9"/>
<circle cx="8.2" cy="57.8" r="3.7" fill="#7060cc" stroke="#e2def6" stroke-width="0.9"/>
<circle cx="15.6" cy="57.5" r="3.7" fill="#5e4ebe" stroke="#e2def6" stroke-width="0.9"/>
<circle cx="21.6" cy="56.8" r="3.7" fill="#6454c4" stroke="#e2def6" stroke-width="0.9"/>
<circle cx="29.8" cy="55.6" r="3.6" fill="#6858c6" stroke="#e2def6" stroke-width="0.9"/>
<circle cx="37.5" cy="56.9" r="3.5" fill="#5446b8" stroke="#e2def6" stroke-width="0.9"/>
<circle cx="44.7" cy="57.2" r="3.5" fill="#5e4ebe" stroke="#e2def6" stroke-width="0.9"/>
<circle cx="53.0" cy="56.9" r="3.7" fill="#6858c6" stroke="#e2def6" stroke-width="0.9"/>
<circle cx="60.0" cy="56.3" r="3.5" fill="#7060cc" stroke="#e2def6" stroke-width="0.9"/>
<circle cx="68.5" cy="56.5" r="3.7" fill="#6858c6" stroke="#e2def6" stroke-width="0.9"/>
<circle cx="75.7" cy="56.1" r="3.6" fill="#5e4ebe" stroke="#e2def6" stroke-width="0.9"/>
<circle cx="84.0" cy="57.1" r="3.4" fill="#5e4ebe" stroke="#e2def6" stroke-width="0.9"/>
<circle cx="91.9" cy="56.9" r="3.5" fill="#6858c6" stroke="#e2def6" stroke-width="0.9"/>
<circle cx="99.5" cy="55.9" r="3.7" fill="#5446b8" stroke="#e2def6" stroke-width="0.9"/>
<circle cx="0.9" cy="56.1" r="3.5" fill="#7060cc" stroke="#e2def6" stroke-width="0.9"/>
<circle cx="106.9" cy="56.1" r="3.5" fill="#7060cc" stroke="#e2def6" stroke-width="0.9"/>
<circle cx="3.7" cy="63.6" r="3.5" fill="#7060cc" stroke="#e2def6" stroke-width="0.9"/>
<circle cx="11.3" cy="63.5" r="3.6" fill="#6454c4" stroke="#e2def6" stroke-width="0.9"/>
<circle cx="18.2" cy="63.8" r="3.4" fill="#5e4ebe" stroke="#e2def6" stroke-width="0.9"/>
<circle cx="26.4" cy="65.0" r="3.7" fill="#5e4ebe" stroke="#e2def6" stroke-width="0.9"/>
<circle cx="33.7" cy="65.1" r="3.4" fill="#7666ce" stroke="#e2def6" stroke-width="0.9"/>
<circle cx="42.0" cy="64.1" r="3.7" fill="#7060cc" stroke="#e2def6" stroke-width="0.9"/>
<circle cx="48.7" cy="64.9" r="3.6" fill="#7666ce" stroke="#e2def6" stroke-width="0.9"/>
<circle cx="57.2" cy="65.4" r="3.6" fill="#6454c4" stroke="#e2def6" stroke-width="0.9"/>
<circle cx="65.2" cy="65.4" r="3.6" fill="#6454c4" stroke="#e2def6" stroke-width="0.9"/>
<circle cx="71.4" cy="64.7" r="3.6" fill="#7060cc" stroke="#e2def6" stroke-width="0.9"/>
<circle cx="79.0" cy="64.3" r="3.4" fill="#7060cc" stroke="#e2def6" stroke-width="0.9"/>
<circle cx="86.9" cy="63.4" r="3.7" fill="#7060cc" stroke="#e2def6" stroke-width="0.9"/>
<circle cx="95.7" cy="63.5" r="3.3" fill="#7060cc" stroke="#e2def6" stroke-width="0.9"/>
<circle cx="101.4" cy="63.3" r="3.7" fill="#6454c4" stroke="#e2def6" stroke-width="0.9"/>
<circle cx="8.2" cy="71.8" r="3.5" fill="#5e4ebe" stroke="#e2def6" stroke-width="0.9"/>
<circle cx="15.9" cy="72.2" r="3.5" fill="#5446b8" stroke="#e2def6" stroke-width="0.9"/>
<circle cx="23.0" cy="71.1" r="3.4" fill="#5446b8" stroke="#e2def6" stroke-width="0.9"/>
<circle cx="29.3" cy="71.1" r="3.4" fill="#7060cc" stroke="#e2def6" stroke-width="0.9"/>
<circle cx="37.0" cy="71.6" r="3.3" fill="#5e4ebe" stroke="#e2def6" stroke-width="0.9"/>
<circle cx="44.8" cy="71.3" r="3.6" fill="#7060cc" stroke="#e2def6" stroke-width="0.9"/>
<circle cx="54.1" cy="72.3" r="3.6" fill="#5e4ebe" stroke="#e2def6" stroke-width="0.9"/>
<circle cx="59.8" cy="70.9" r="3.5" fill="#7060cc" stroke="#e2def6" stroke-width="0.9"/>
<circle cx="67.3" cy="72.0" r="3.7" fill="#7060cc" stroke="#e2def6" stroke-width="0.9"/>
<circle cx="76.1" cy="72.4" r="3.7" fill="#5e4ebe" stroke="#e2def6" stroke-width="0.9"/>
<circle cx="84.5" cy="71.7" r="3.5" fill="#7666ce" stroke="#e2def6" stroke-width="0.9"/>
<circle cx="91.7" cy="72.0" r="3.6" fill="#6858c6" stroke="#e2def6" stroke-width="0.9"/>
<circle cx="98.6" cy="72.0" r="3.7" fill="#5446b8" stroke="#e2def6" stroke-width="0.9"/>
<circle cx="0.8" cy="71.8" r="3.5" fill="#7666ce" stroke="#e2def6" stroke-width="0.9"/>
<circle cx="106.8" cy="71.8" r="3.5" fill="#7666ce" stroke="#e2def6" stroke-width="0.9"/>
<circle cx="3.7" cy="80.4" r="3.5" fill="#7666ce" stroke="#e2def6" stroke-width="0.9"/>
<circle cx="10.5" cy="80.5" r="3.6" fill="#5e4ebe" stroke="#e2def6" stroke-width="0.9"/>
<circle cx="17.9" cy="79.0" r="3.7" fill="#6858c6" stroke="#e2def6" stroke-width="0.9"/>
<circle cx="25.9" cy="79.9" r="3.4" fill="#6858c6" stroke="#e2def6" stroke-width="0.9"/>
<circle cx="33.2" cy="79.9" r="3.3" fill="#6454c4" stroke="#e2def6" stroke-width="0.9"/>
<circle cx="41.6" cy="80.4" r="3.5" fill="#6858c6" stroke="#e2def6" stroke-width="0.9"/>
<circle cx="49.2" cy="79.6" r="3.4" fill="#7666ce" stroke="#e2def6" stroke-width="0.9"/>
<circle cx="56.9" cy="78.4" r="3.5" fill="#6858c6" stroke="#e2def6" stroke-width="0.9"/>
<circle cx="65.1" cy="79.6" r="3.6" fill="#5e4ebe" stroke="#e2def6" stroke-width="0.9"/>
<circle cx="71.1" cy="79.5" r="3.4" fill="#6858c6" stroke="#e2def6" stroke-width="0.9"/>
<circle cx="78.9" cy="79.4" r="3.7" fill="#7666ce" stroke="#e2def6" stroke-width="0.9"/>
<circle cx="86.4" cy="79.2" r="3.6" fill="#5446b8" stroke="#e2def6" stroke-width="0.9"/>
<circle cx="95.6" cy="80.0" r="3.5" fill="#6454c4" stroke="#e2def6" stroke-width="0.9"/>
<circle cx="101.4" cy="78.6" r="3.7" fill="#6454c4" stroke="#e2def6" stroke-width="0.9"/>
<circle cx="8.7" cy="86.3" r="3.4" fill="#7060cc" stroke="#e2def6" stroke-width="0.9"/>
<circle cx="15.0" cy="86.9" r="3.5" fill="#7060cc" stroke="#e2def6" stroke-width="0.9"/>
<circle cx="23.5" cy="87.2" r="3.5" fill="#7060cc" stroke="#e2def6" stroke-width="0.9"/>
<circle cx="30.4" cy="87.0" r="3.4" fill="#5446b8" stroke="#e2def6" stroke-width="0.9"/>
<circle cx="38.3" cy="87.5" r="3.6" fill="#6858c6" stroke="#e2def6" stroke-width="0.9"/>
<circle cx="45.7" cy="87.7" r="3.4" fill="#5446b8" stroke="#e2def6" stroke-width="0.9"/>
<circle cx="53.2" cy="87.4" r="3.6" fill="#6454c4" stroke="#e2def6" stroke-width="0.9"/>
<circle cx="60.0" cy="87.6" r="3.5" fill="#6454c4" stroke="#e2def6" stroke-width="0.9"/>
<circle cx="68.8" cy="87.8" r="3.7" fill="#7666ce" stroke="#e2def6" stroke-width="0.9"/>
<circle cx="75.3" cy="87.5" r="3.7" fill="#5e4ebe" stroke="#e2def6" stroke-width="0.9"/>
<circle cx="83.6" cy="87.2" r="3.4" fill="#6858c6" stroke="#e2def6" stroke-width="0.9"/>
<circle cx="92.0" cy="88.0" r="3.5" fill="#7060cc" stroke="#e2def6" stroke-width="0.9"/>
<circle cx="99.5" cy="86.2" r="3.4" fill="#7060cc" stroke="#e2def6" stroke-width="0.9"/>
<circle cx="0.8" cy="87.1" r="3.3" fill="#5446b8" stroke="#e2def6" stroke-width="0.9"/>
<circle cx="106.8" cy="87.1" r="3.3" fill="#5446b8" stroke="#e2def6" stroke-width="0.9"/>
<circle cx="4.2" cy="93.5" r="3.4" fill="#6858c6" stroke="#e2def6" stroke-width="0.9"/>
<circle cx="11.7" cy="95.2" r="3.7" fill="#6858c6" stroke="#e2def6" stroke-width="0.9"/>
<circle cx="18.2" cy="94.2" r="3.5" fill="#5446b8" stroke="#e2def6" stroke-width="0.9"/>
<circle cx="26.7" cy="95.2" r="3.7" fill="#5446b8" stroke="#e2def6" stroke-width="0.9"/>
<circle cx="34.7" cy="95.1" r="3.7" fill="#5446b8" stroke="#e2def6" stroke-width="0.9"/>
<circle cx="42.5" cy="95.8" r="3.5" fill="#7666ce" stroke="#e2def6" stroke-width="0.9"/>
<circle cx="48.6" cy="93.9" r="3.5" fill="#5e4ebe" stroke="#e2def6" stroke-width="0.9"/>
<circle cx="57.4" cy="95.5" r="3.5" fill="#6858c6" stroke="#e2def6" stroke-width="0.9"/>
<circle cx="63.6" cy="94.9" r="3.7" fill="#5e4ebe" stroke="#e2def6" stroke-width="0.9"/>
<circle cx="72.6" cy="95.0" r="3.6" fill="#5e4ebe" stroke="#e2def6" stroke-width="0.9"/>
<circle cx="79.9" cy="94.2" r="3.4" fill="#7060cc" stroke="#e2def6" stroke-width="0.9"/>
<circle cx="86.1" cy="95.3" r="3.3" fill="#7060cc" stroke="#e2def6" stroke-width="0.9"/>
<circle cx="93.6" cy="94.7" r="3.7" fill="#6454c4" stroke="#e2def6" stroke-width="0.9"/>
<circle cx="101.8" cy="94.5" r="3.5" fill="#6454c4" stroke="#e2def6" stroke-width="0.9"/>
<circle cx="6.4" cy="102.4" r="3.4" fill="#5e4ebe" stroke="#e2def6" stroke-width="0.9"/>
<circle cx="14.3" cy="102.9" r="3.6" fill="#6454c4" stroke="#e2def6" stroke-width="0.9"/>
<circle cx="14.3" cy="-3.1" r="3.6" fill="#6454c4" stroke="#e2def6" stroke-width="0.9"/>
<circle cx="22.9" cy="103.2" r="3.6" fill="#5446b8" stroke="#e2def6" stroke-width="0.9"/>
<circle cx="22.9" cy="-2.8" r="3.6" fill="#5446b8" stroke="#e2def6" stroke-width="0.9"/>
<circle cx="30.2" cy="102.9" r="3.4" fill="#7666ce" stroke="#e2def6" stroke-width="0.9"/>
<circle cx="30.2" cy="-3.1" r="3.4" fill="#7666ce" stroke="#e2def6" stroke-width="0.9"/>
<circle cx="37.4" cy="103.3" r="3.7" fill="#5e4ebe" stroke="#e2def6" stroke-width="0.9"/>
<circle cx="37.4" cy="-2.7" r="3.7" fill="#5e4ebe" stroke="#e2def6" stroke-width="0.9"/>
<circle cx="45.7" cy="103.2" r="3.5" fill="#7666ce" stroke="#e2def6" stroke-width="0.9"/>
<circle cx="45.7" cy="-2.8" r="3.5" fill="#7666ce" stroke="#e2def6" stroke-width="0.9"/>
<circle cx="53.5" cy="102.3" r="3.4" fill="#5e4ebe" stroke="#e2def6" stroke-width="0.9"/>
<circle cx="60.7" cy="101.6" r="3.4" fill="#7666ce" stroke="#e2def6" stroke-width="0.9"/>
<circle cx="68.7" cy="103.0" r="3.4" fill="#5446b8" stroke="#e2def6" stroke-width="0.9"/>
<circle cx="68.7" cy="-3.0" r="3.4" fill="#5446b8" stroke="#e2def6" stroke-width="0.9"/>
<circle cx="75.5" cy="102.2" r="3.5" fill="#5e4ebe" stroke="#e2def6" stroke-width="0.9"/>
<circle cx="82.7" cy="101.1" r="3.5" fill="#6858c6" stroke="#e2def6" stroke-width="0.9"/>
<circle cx="91.1" cy="102.3" r="3.3" fill="#5446b8" stroke="#e2def6" stroke-width="0.9"/>
<circle cx="98.9" cy="102.0" r="3.5" fill="#6858c6" stroke="#e2def6" stroke-width="0.9"/>
<circle cx="105.7" cy="101.9" r="3.7" fill="#5446b8" stroke="#e2def6" stroke-width="0.9"/>
<circle cx="-0.3" cy="101.9" r="3.7" fill="#5446b8" stroke="#e2def6" stroke-width="0.9"/>
</pattern><pattern id="ih1" patternUnits="userSpaceOnUse" width="93" height="93">
<rect width="93" height="93" fill="#c6d0ea"/>
<circle cx="2.5" cy="3.0" r="2.9" fill="#b0b0c0" stroke="#d4dcf0" stroke-width="0.6"/>
<circle cx="95.5" cy="3.0" r="2.9" fill="#b0b0c0" stroke="#d4dcf0" stroke-width="0.6"/>
<circle cx="9.2" cy="3.1" r="3.1" fill="#a8aec8" stroke="#d4dcf0" stroke-width="0.6"/>
<circle cx="9.2" cy="96.1" r="3.1" fill="#a8aec8" stroke="#d4dcf0" stroke-width="0.6"/>
<circle cx="14.9" cy="2.3" r="3.5" fill="#a8aec8" stroke="#d4dcf0" stroke-width="0.6"/>
<circle cx="14.9" cy="95.3" r="3.5" fill="#a8aec8" stroke="#d4dcf0" stroke-width="0.6"/>
<circle cx="21.8" cy="3.0" r="3.0" fill="#aab4d8" stroke="#d4dcf0" stroke-width="0.6"/>
<circle cx="27.3" cy="2.1" r="3.4" fill="#a8aec8" stroke="#d4dcf0" stroke-width="0.6"/>
<circle cx="27.3" cy="95.1" r="3.4" fill="#a8aec8" stroke="#d4dcf0" stroke-width="0.6"/>
<circle cx="34.7" cy="3.3" r="2.7" fill="#b0b0c0" stroke="#d4dcf0" stroke-width="0.6"/>
<circle cx="39.2" cy="3.6" r="3.3" fill="#b8c0de" stroke="#d4dcf0" stroke-width="0.6"/>
<circle cx="46.4" cy="3.4" r="3.4" fill="#a8aec8" stroke="#d4dcf0" stroke-width="0.6"/>
<circle cx="52.4" cy="3.6" r="3.0" fill="#aab4d8" stroke="#d4dcf0" stroke-width="0.6"/>
<circle cx="59.8" cy="1.9" r="2.7" fill="#aab4d8" stroke="#d4dcf0" stroke-width="0.6"/>
<circle cx="59.8" cy="94.9" r="2.7" fill="#aab4d8" stroke="#d4dcf0" stroke-width="0.6"/>
<circle cx="64.5" cy="3.3" r="3.3" fill="#b8c0de" stroke="#d4dcf0" stroke-width="0.6"/>
<circle cx="71.1" cy="3.7" r="3.1" fill="#b0b0c0" stroke="#d4dcf0" stroke-width="0.6"/>
<circle cx="77.7" cy="3.1" r="3.4" fill="#b2bcdc" stroke="#d4dcf0" stroke-width="0.6"/>
<circle cx="77.7" cy="96.1" r="3.4" fill="#b2bcdc" stroke="#d4dcf0" stroke-width="0.6"/>
<circle cx="84.6" cy="4.1" r="3.2" fill="#aab4d8" stroke="#d4dcf0" stroke-width="0.6"/>
<circle cx="90.4" cy="2.5" r="3.1" fill="#b0b0c0" stroke="#d4dcf0" stroke-width="0.6"/>
<circle cx="-2.6" cy="2.5" r="3.1" fill="#b0b0c0" stroke="#d4dcf0" stroke-width="0.6"/>
<circle cx="90.4" cy="95.5" r="3.1" fill="#b0b0c0" stroke="#d4dcf0" stroke-width="0.6"/>
<circle cx="6.4" cy="9.2" r="2.8" fill="#b0b0c0" stroke="#d4dcf0" stroke-width="0.6"/>
<circle cx="11.8" cy="7.8" r="3.0" fill="#a8aec8" stroke="#d4dcf0" stroke-width="0.6"/>
<circle cx="17.6" cy="9.4" r="3.0" fill="#aab4d8" stroke="#d4dcf0" stroke-width="0.6"/>
<circle cx="23.6" cy="8.5" r="3.0" fill="#b2bcdc" stroke="#d4dcf0" stroke-width="0.6"/>
<circle cx="29.9" cy="9.0" r="2.6" fill="#b0b0c0" stroke="#d4dcf0" stroke-width="0.6"/>
<circle cx="36.8" cy="9.6" r="3.5" fill="#b0b0c0" stroke="#d4dcf0" stroke-width="0.6"/>
<circle cx="42.8" cy="7.6" r="2.6" fill="#b2bcdc" stroke="#d4dcf0" stroke-width="0.6"/>
<circle cx="49.8" cy="7.6" r="2.8" fill="#a8aec8" stroke="#d4dcf0" stroke-width="0.6"/>
<circle cx="55.3" cy="8.2" r="3.2" fill="#b8c0de" stroke="#d4dcf0" stroke-width="0.6"/>
<circle cx="61.6" cy="9.8" r="3.4" fill="#a8aec8" stroke="#d4dcf0" stroke-width="0.6"/>
<circle cx="67.9" cy="9.6" r="2.9" fill="#b0b0c0" stroke="#d4dcf0" stroke-width="0.6"/>
<circle cx="74.8" cy="7.8" r="3.5" fill="#b0b0c0" stroke="#d4dcf0" stroke-width="0.6"/>
<circle cx="80.1" cy="9.0" r="3.2" fill="#b8c0de" stroke="#d4dcf0" stroke-width="0.6"/>
<circle cx="86.6" cy="8.1" r="2.9" fill="#b8c0de" stroke="#d4dcf0" stroke-width="0.6"/>
<circle cx="91.8" cy="8.5" r="3.1" fill="#b2bcdc" stroke="#d4dcf0" stroke-width="0.6"/>
<circle cx="-1.2" cy="8.5" r="3.1" fill="#b2bcdc" stroke="#d4dcf0" stroke-width="0.6"/>
<circle cx="2.8" cy="14.7" r="2.7" fill="#b8c0de" stroke="#d4dcf0" stroke-width="0.6"/>
<circle cx="9.2" cy="15.0" r="2.9" fill="#b8c0de" stroke="#d4dcf0" stroke-width="0.6"/>
<circle cx="16.1" cy="13.4" r="2.7" fill="#b2bcdc" stroke="#d4dcf0" stroke-width="0.6"/>
<circle cx="22.8" cy="13.9" r="3.0" fill="#b0b0c0" stroke="#d4dcf0" stroke-width="0.6"/>
<circle cx="28.1" cy="13.8" r="2.8" fill="#b8c0de" stroke="#d4dcf0" stroke-width="0.6"/>
<circle cx="34.9" cy="14.0" r="3.3" fill="#b2bcdc" stroke="#d4dcf0" stroke-width="0.6"/>
<circle cx="41.0" cy="13.4" r="3.1" fill="#aab4d8" stroke="#d4dcf0" stroke-width="0.6"/>
<circle cx="46.0" cy="13.9" r="3.3" fill="#aab4d8" stroke="#d4dcf0" stroke-width="0.6"/>
<circle cx="52.3" cy="15.0" r="3.2" fill="#b2bcdc" stroke="#d4dcf0" stroke-width="0.6"/>
<circle cx="57.9" cy="14.1" r="2.9" fill="#aab4d8" stroke="#d4dcf0" stroke-width="0.6"/>
<circle cx="65.0" cy="15.4" r="2.8" fill="#b8c0de" stroke="#d4dcf0" stroke-width="0.6"/>
<circle cx="71.9" cy="13.9" r="3.1" fill="#b8c0de" stroke="#d4dcf0" stroke-width="0.6"/>
<circle cx="76.8" cy="13.6" r="3.1" fill="#aab4d8" stroke="#d4dcf0" stroke-width="0.6"/>
<circle cx="83.3" cy="15.3" r="3.1" fill="#b8c0de" stroke="#d4dcf0" stroke-width="0.6"/>
<circle cx="89.5" cy="15.3" r="2.7" fill="#b0b0c0" stroke="#d4dcf0" stroke-width="0.6"/>
<circle cx="5.8" cy="19.5" r="2.9" fill="#b8c0de" stroke="#d4dcf0" stroke-width="0.6"/>
<circle cx="12.3" cy="20.7" r="2.9" fill="#b0b0c0" stroke="#d4dcf0" stroke-width="0.6"/>
<circle cx="18.4" cy="21.4" r="2.7" fill="#b2bcdc" stroke="#d4dcf0" stroke-width="0.6"/>
<circle cx="24.7" cy="21.1" r="3.2" fill="#b0b0c0" stroke="#d4dcf0" stroke-width="0.6"/>
<circle cx="30.8" cy="21.4" r="3.4" fill="#aab4d8" stroke="#d4dcf0" stroke-width="0.6"/>
<circle cx="36.1" cy="20.2" r="3.3" fill="#b0b0c0" stroke="#d4dcf0" stroke-width="0.6"/>
<circle cx="44.5" cy="20.4" r="3.4" fill="#b2bcdc" stroke="#d4dcf0" stroke-width="0.6"/>
<circle cx="50.5" cy="21.5" r="2.7" fill="#aab4d8" stroke="#d4dcf0" stroke-width="0.6"/>
<circle cx="54.7" cy="21.3" r="3.2" fill="#aab4d8" stroke="#d4dcf0" stroke-width="0.6"/>
<circle cx="63.0" cy="21.3" r="3.1" fill="#b2bcdc" stroke="#d4dcf0" stroke-width="0.6"/>
<circle cx="68.2" cy="19.4" r="3.1" fill="#aab4d8" stroke="#d4dcf0" stroke-width="0.6"/>
<circle cx="74.8" cy="20.4" r="3.0" fill="#b0b0c0" stroke="#d4dcf0" stroke-width="0.6"/>
<circle cx="79.7" cy="19.4" r="3.5" fill="#b0b0c0" stroke="#d4dcf0" stroke-width="0.6"/>
<circle cx="86.7" cy="21.0" r="2.9" fill="#aab4d8" stroke="#d4dcf0" stroke-width="0.6"/>
<circle cx="92.1" cy="21.3" r="2.7" fill="#aab4d8" stroke="#d4dcf0" stroke-width="0.6"/>
<circle cx="-0.9" cy="21.3" r="2.7" fill="#aab4d8" stroke="#d4dcf0" stroke-width="0.6"/>
<circle cx="3.8" cy="27.2" r="3.3" fill="#b2bcdc" stroke="#d4dcf0" stroke-width="0.6"/>
<circle cx="9.3" cy="26.3" r="3.0" fill="#b8c0de" stroke="#d4dcf0" stroke-width="0.6"/>
<circle cx="14.9" cy="26.4" r="3.1" fill="#b2bcdc" stroke="#d4dcf0" stroke-width="0.6"/>
<circle cx="21.6" cy="26.8" r="2.6" fill="#b2bcdc" stroke="#d4dcf0" stroke-width="0.6"/>
<circle cx="28.6" cy="25.1" r="2.6" fill="#a8aec8" stroke="#d4dcf0" stroke-width="0.6"/>
<circle cx="35.2" cy="27.0" r="2.7" fill="#b0b0c0" stroke="#d4dcf0" stroke-width="0.6"/>
<circle cx="40.3" cy="25.3" r="2.7" fill="#a8aec8" stroke="#d4dcf0" stroke-width="0.6"/>
<circle cx="46.9" cy="26.4" r="2.9" fill="#aab4d8" stroke="#d4dcf0" stroke-width="0.6"/>
<circle cx="53.9" cy="26.0" r="2.7" fill="#b2bcdc" stroke="#d4dcf0" stroke-width="0.6"/>
<circle cx="59.4" cy="25.9" r="2.7" fill="#aab4d8" stroke="#d4dcf0" stroke-width="0.6"/>
<circle cx="64.0" cy="26.1" r="3.2" fill="#b0b0c0" stroke="#d4dcf0" stroke-width="0.6"/>
<circle cx="71.0" cy="26.9" r="3.2" fill="#a8aec8" stroke="#d4dcf0" stroke-width="0.6"/>
<circle cx="76.4" cy="26.5" r="3.3" fill="#b8c0de" stroke="#d4dcf0" stroke-width="0.6"/>
<circle cx="83.5" cy="26.6" r="3.0" fill="#aab4d8" stroke="#d4dcf0" stroke-width="0.6"/>
<circle cx="89.2" cy="25.6" r="3.1" fill="#a8aec8" stroke="#d4dcf0" stroke-width="0.6"/>
<circle cx="5.5" cy="31.1" r="2.6" fill="#b8c0de" stroke="#d4dcf0" stroke-width="0.6"/>
<circle cx="12.1" cy="32.9" r="3.3" fill="#b8c0de" stroke="#d4dcf0" stroke-width="0.6"/>
<circle cx="17.7" cy="32.4" r="3.4" fill="#b0b0c0" stroke="#d4dcf0" stroke-width="0.6"/>
<circle cx="25.5" cy="32.4" r="3.3" fill="#b0b0c0" stroke="#d4dcf0" stroke-width="0.6"/>
<circle cx="31.1" cy="32.7" r="3.2" fill="#a8aec8" stroke="#d4dcf0" stroke-width="0.6"/>
<circle cx="36.3" cy="32.6" r="2.6" fill="#b2bcdc" stroke="#d4dcf0" stroke-width="0.6"/>
<circle cx="43.6" cy="32.4" r="2.9" fill="#b2bcdc" stroke="#d4dcf0" stroke-width="0.6"/>
<circle cx="49.2" cy="32.8" r="2.6" fill="#b2bcdc" stroke="#d4dcf0" stroke-width="0.6"/>
<circle cx="56.2" cy="32.8" r="3.5" fill="#b0b0c0" stroke="#d4dcf0" stroke-width="0.6"/>
<circle cx="61.5" cy="31.0" r="3.5" fill="#b0b0c0" stroke="#d4dcf0" stroke-width="0.6"/>
<circle cx="68.2" cy="32.5" r="2.7" fill="#b2bcdc" stroke="#d4dcf0" stroke-width="0.6"/>
<circle cx="75.4" cy="30.9" r="2.9" fill="#b0b0c0" stroke="#d4dcf0" stroke-width="0.6"/>
<circle cx="79.8" cy="31.0" r="3.5" fill="#aab4d8" stroke="#d4dcf0" stroke-width="0.6"/>
<circle cx="86.7" cy="32.4" r="3.4" fill="#b8c0de" stroke="#d4dcf0" stroke-width="0.6"/>
<circle cx="92.7" cy="31.7" r="2.9" fill="#a8aec8" stroke="#d4dcf0" stroke-width="0.6"/>
<circle cx="-0.3" cy="31.7" r="2.9" fill="#a8aec8" stroke="#d4dcf0" stroke-width="0.6"/>
<circle cx="4.2" cy="37.5" r="2.8" fill="#a8aec8" stroke="#d4dcf0" stroke-width="0.6"/>
<circle cx="10.1" cy="38.9" r="3.0" fill="#b0b0c0" stroke="#d4dcf0" stroke-width="0.6"/>
<circle cx="16.1" cy="38.2" r="3.1" fill="#a8aec8" stroke="#d4dcf0" stroke-width="0.6"/>
<circle cx="20.9" cy="37.5" r="3.4" fill="#aab4d8" stroke="#d4dcf0" stroke-width="0.6"/>
<circle cx="26.9" cy="38.4" r="3.4" fill="#b0b0c0" stroke="#d4dcf0" stroke-width="0.6"/>
<circle cx="35.2" cy="38.0" r="3.4" fill="#aab4d8" stroke="#d4dcf0" stroke-width="0.6"/>
<circle cx="39.7" cy="37.1" r="3.1" fill="#b8c0de" stroke="#d4dcf0" stroke-width="0.6"/>
<circle cx="47.5" cy="38.6" r="3.1" fill="#b8c0de" stroke="#d4dcf0" stroke-width="0.6"/>
<circle cx="53.1" cy="38.6" r="3.1" fill="#b0b0c0" stroke="#d4dcf0" stroke-width="0.6"/>
<circle cx="59.1" cy="37.2" r="2.8" fill="#b2bcdc" stroke="#d4dcf0" stroke-width="0.6"/>
<circle cx="64.5" cy="38.5" r="2.8" fill="#b0b0c0" stroke="#d4dcf0" stroke-width="0.6"/>
<circle cx="71.0" cy="37.4" r="3.3" fill="#aab4d8" stroke="#d4dcf0" stroke-width="0.6"/>
<circle cx="77.3" cy="38.3" r="3.2" fill="#aab4d8" stroke="#d4dcf0" stroke-width="0.6"/>
<circle cx="83.6" cy="38.6" r="3.3" fill="#b0b0c0" stroke="#d4dcf0" stroke-width="0.6"/>
<circle cx="88.8" cy="39.0" r="2.7" fill="#a8aec8" stroke="#d4dcf0" stroke-width="0.6"/>
<circle cx="6.9" cy="44.5" r="2.6" fill="#aab4d8" stroke="#d4dcf0" stroke-width="0.6"/>
<circle cx="13.3" cy="43.9" r="3.3" fill="#b2bcdc" stroke="#d4dcf0" stroke-width="0.6"/>
<circle cx="19.7" cy="44.4" r="2.8" fill="#aab4d8" stroke="#d4dcf0" stroke-width="0.6"/>
<circle cx="25.5" cy="42.7" r="3.2" fill="#b2bcdc" stroke="#d4dcf0" stroke-width="0.6"/>
<circle cx="32.0" cy="43.0" r="3.4" fill="#b8c0de" stroke="#d4dcf0" stroke-width="0.6"/>
<circle cx="36.4" cy="42.6" r="3.3" fill="#b2bcdc" stroke="#d4dcf0" stroke-width="0.6"/>
<circle cx="42.4" cy="44.4" r="2.9" fill="#b8c0de" stroke="#d4dcf0" stroke-width="0.6"/>
<circle cx="49.5" cy="44.2" r="2.9" fill="#b2bcdc" stroke="#d4dcf0" stroke-width="0.6"/>
<circle cx="55.4" cy="43.4" r="3.0" fill="#aab4d8" stroke="#d4dcf0" stroke-width="0.6"/>
<circle cx="62.3" cy="44.2" r="3.0" fill="#aab4d8" stroke="#d4dcf0" stroke-width="0.6"/>
<circle cx="68.3" cy="42.7" r="2.8" fill="#a8aec8" stroke="#d4dcf0" stroke-width="0.6"/>
<circle cx="73.5" cy="44.5" r="3.4" fill="#b2bcdc" stroke="#d4dcf0" stroke-width="0.6"/>
<circle cx="80.7" cy="44.1" r="3.2" fill="#b8c0de" stroke="#d4dcf0" stroke-width="0.6"/>
<circle cx="87.4" cy="43.1" r="3.2" fill="#b8c0de" stroke="#d4dcf0" stroke-width="0.6"/>
<circle cx="92.1" cy="44.7" r="2.9" fill="#b0b0c0" stroke="#d4dcf0" stroke-width="0.6"/>
<circle cx="-0.9" cy="44.7" r="2.9" fill="#b0b0c0" stroke="#d4dcf0" stroke-width="0.6"/>
<circle cx="3.2" cy="48.5" r="3.0" fill="#b8c0de" stroke="#d4dcf0" stroke-width="0.6"/>
<circle cx="8.2" cy="48.9" r="3.3" fill="#aab4d8" stroke="#d4dcf0" stroke-width="0.6"/>
<circle cx="15.9" cy="50.0" r="2.7" fill="#b8c0de" stroke="#d4dcf0" stroke-width="0.6"/>
<circle cx="22.6" cy="49.8" r="2.7" fill="#b0b0c0" stroke="#d4dcf0" stroke-width="0.6"/>
<circle cx="27.0" cy="49.0" r="3.2" fill="#b0b0c0" stroke="#d4dcf0" stroke-width="0.6"/>
<circle cx="33.9" cy="48.9" r="2.8" fill="#a8aec8" stroke="#d4dcf0" stroke-width="0.6"/>
<circle cx="39.8" cy="48.6" r="2.7" fill="#aab4d8" stroke="#d4dcf0" stroke-width="0.6"/>
<circle cx="47.1" cy="49.5" r="3.3" fill="#b8c0de" stroke="#d4dcf0" stroke-width="0.6"/>
<circle cx="51.7" cy="48.9" r="2.6" fill="#aab4d8" stroke="#d4dcf0" stroke-width="0.6"/>
<circle cx="57.8" cy="49.4" r="2.8" fill="#b0b0c0" stroke="#d4dcf0" stroke-width="0.6"/>
<circle cx="64.7" cy="49.0" r="3.0" fill="#b0b0c0" stroke="#d4dcf0" stroke-width="0.6"/>
<circle cx="72.0" cy="48.4" r="3.0" fill="#b2bcdc" stroke="#d4dcf0" stroke-width="0.6"/>
<circle cx="76.7" cy="49.6" r="3.2" fill="#b0b0c0" stroke="#d4dcf0" stroke-width="0.6"/>
<circle cx="84.4" cy="50.0" r="2.8" fill="#aab4d8" stroke="#d4dcf0" stroke-width="0.6"/>
<circle cx="90.1" cy="49.8" r="3.0" fill="#aab4d8" stroke="#d4dcf0" stroke-width="0.6"/>
<circle cx="-2.9" cy="49.8" r="3.0" fill="#aab4d8" stroke="#d4dcf0" stroke-width="0.6"/>
<circle cx="6.4" cy="54.4" r="3.0" fill="#aab4d8" stroke="#d4dcf0" stroke-width="0.6"/>
<circle cx="12.5" cy="54.4" r="2.8" fill="#b8c0de" stroke="#d4dcf0" stroke-width="0.6"/>
<circle cx="18.3" cy="54.7" r="3.4" fill="#a8aec8" stroke="#d4dcf0" stroke-width="0.6"/>
<circle cx="25.7" cy="56.3" r="2.9" fill="#b0b0c0" stroke="#d4dcf0" stroke-width="0.6"/>
<circle cx="32.0" cy="54.8" r="3.0" fill="#b0b0c0" stroke="#d4dcf0" stroke-width="0.6"/>
<circle cx="37.6" cy="54.7" r="3.4" fill="#a8aec8" stroke="#d4dcf0" stroke-width="0.6"/>
<circle cx="42.3" cy="54.5" r="3.2" fill="#b2bcdc" stroke="#d4dcf0" stroke-width="0.6"/>
<circle cx="50.2" cy="55.6" r="3.0" fill="#b0b0c0" stroke="#d4dcf0" stroke-width="0.6"/>
<circle cx="56.1" cy="54.5" r="3.3" fill="#aab4d8" stroke="#d4dcf0" stroke-width="0.6"/>
<circle cx="60.9" cy="55.2" r="3.2" fill="#a8aec8" stroke="#d4dcf0" stroke-width="0.6"/>
<circle cx="67.3" cy="54.7" r="3.2" fill="#aab4d8" stroke="#d4dcf0" stroke-width="0.6"/>
<circle cx="73.5" cy="55.9" r="3.2" fill="#b2bcdc" stroke="#d4dcf0" stroke-width="0.6"/>
<circle cx="79.5" cy="55.5" r="3.1" fill="#a8aec8" stroke="#d4dcf0" stroke-width="0.6"/>
<circle cx="86.9" cy="56.3" r="2.9" fill="#b8c0de" stroke="#d4dcf0" stroke-width="0.6"/>
<circle cx="0.5" cy="54.3" r="3.4" fill="#b0b0c0" stroke="#d4dcf0" stroke-width="0.6"/>
<circle cx="93.5" cy="54.3" r="3.4" fill="#b0b0c0" stroke="#d4dcf0" stroke-width="0.6"/>
<circle cx="3.8" cy="59.9" r="2.7" fill="#b8c0de" stroke="#d4dcf0" stroke-width="0.6"/>
<circle cx="10.5" cy="60.3" r="2.7" fill="#aab4d8" stroke="#d4dcf0" stroke-width="0.6"/>
<circle cx="15.3" cy="61.6" r="3.0" fill="#b2bcdc" stroke="#d4dcf0" stroke-width="0.6"/>
<circle cx="22.4" cy="60.8" r="3.4" fill="#aab4d8" stroke="#d4dcf0" stroke-width="0.6"/>
<circle cx="27.6" cy="61.0" r="2.7" fill="#a8aec8" stroke="#d4dcf0" stroke-width="0.6"/>
<circle cx="33.4" cy="61.0" r="2.6" fill="#a8aec8" stroke="#d4dcf0" stroke-width="0.6"/>
<circle cx="40.9" cy="60.8" r="2.8" fill="#b2bcdc" stroke="#d4dcf0" stroke-width="0.6"/>
<circle cx="47.0" cy="60.7" r="2.9" fill="#b0b0c0" stroke="#d4dcf0" stroke-width="0.6"/>
<circle cx="52.4" cy="60.8" r="3.5" fill="#aab4d8" stroke="#d4dcf0" stroke-width="0.6"/>
<circle cx="58.3" cy="60.7" r="3.4" fill="#b0b0c0" stroke="#d4dcf0" stroke-width="0.6"/>
<circle cx="64.4" cy="60.3" r="2.8" fill="#a8aec8" stroke="#d4dcf0" stroke-width="0.6"/>
<circle cx="71.3" cy="61.4" r="2.7" fill="#b0b0c0" stroke="#d4dcf0" stroke-width="0.6"/>
<circle cx="76.7" cy="61.0" r="2.7" fill="#b2bcdc" stroke="#d4dcf0" stroke-width="0.6"/>
<circle cx="83.5" cy="60.6" r="2.6" fill="#b2bcdc" stroke="#d4dcf0" stroke-width="0.6"/>
<circle cx="89.3" cy="59.9" r="3.0" fill="#aab4d8" stroke="#d4dcf0" stroke-width="0.6"/>
<circle cx="5.6" cy="66.6" r="2.8" fill="#b8c0de" stroke="#d4dcf0" stroke-width="0.6"/>
<circle cx="12.7" cy="66.5" r="2.7" fill="#b2bcdc" stroke="#d4dcf0" stroke-width="0.6"/>
<circle cx="19.3" cy="66.3" r="3.5" fill="#a8aec8" stroke="#d4dcf0" stroke-width="0.6"/>
<circle cx="25.5" cy="68.0" r="3.0" fill="#b0b0c0" stroke="#d4dcf0" stroke-width="0.6"/>
<circle cx="30.4" cy="67.6" r="3.2" fill="#b8c0de" stroke="#d4dcf0" stroke-width="0.6"/>
<circle cx="36.8" cy="65.8" r="3.0" fill="#b2bcdc" stroke="#d4dcf0" stroke-width="0.6"/>
<circle cx="43.6" cy="65.7" r="2.6" fill="#b2bcdc" stroke="#d4dcf0" stroke-width="0.6"/>
<circle cx="48.4" cy="66.9" r="3.0" fill="#aab4d8" stroke="#d4dcf0" stroke-width="0.6"/>
<circle cx="56.2" cy="67.8" r="2.8" fill="#a8aec8" stroke="#d4dcf0" stroke-width="0.6"/>
<circle cx="61.6" cy="66.8" r="2.9" fill="#b2bcdc" stroke="#d4dcf0" stroke-width="0.6"/>
<circle cx="67.9" cy="67.4" r="3.2" fill="#a8aec8" stroke="#d4dcf0" stroke-width="0.6"/>
<circle cx="73.4" cy="66.3" r="3.4" fill="#b2bcdc" stroke="#d4dcf0" stroke-width="0.6"/>
<circle cx="80.6" cy="67.0" r="3.1" fill="#a8aec8" stroke="#d4dcf0" stroke-width="0.6"/>
<circle cx="86.0" cy="67.4" r="3.3" fill="#b0b0c0" stroke="#d4dcf0" stroke-width="0.6"/>
<circle cx="92.7" cy="66.1" r="3.3" fill="#a8aec8" stroke="#d4dcf0" stroke-width="0.6"/>
<circle cx="-0.3" cy="66.1" r="3.3" fill="#a8aec8" stroke="#d4dcf0" stroke-width="0.6"/>
<circle cx="2.5" cy="73.3" r="3.0" fill="#b8c0de" stroke="#d4dcf0" stroke-width="0.6"/>
<circle cx="95.5" cy="73.3" r="3.0" fill="#b8c0de" stroke="#d4dcf0" stroke-width="0.6"/>
<circle cx="10.1" cy="72.7" r="3.3" fill="#a8aec8" stroke="#d4dcf0" stroke-width="0.6"/>
<circle cx="16.6" cy="71.6" r="2.8" fill="#b2bcdc" stroke="#d4dcf0" stroke-width="0.6"/>
<circle cx="22.5" cy="71.7" r="3.2" fill="#b2bcdc" stroke="#d4dcf0" stroke-width="0.6"/>
<circle cx="27.5" cy="72.9" r="3.3" fill="#b2bcdc" stroke="#d4dcf0" stroke-width="0.6"/>
<circle cx="35.0" cy="73.5" r="3.0" fill="#b8c0de" stroke="#d4dcf0" stroke-width="0.6"/>
<circle cx="41.5" cy="71.5" r="2.8" fill="#b2bcdc" stroke="#d4dcf0" stroke-width="0.6"/>
<circle cx="46.1" cy="72.2" r="3.0" fill="#aab4d8" stroke="#d4dcf0" stroke-width="0.6"/>
<circle cx="52.1" cy="71.6" r="2.7" fill="#aab4d8" stroke="#d4dcf0" stroke-width="0.6"/>
<circle cx="59.1" cy="71.5" r="2.8" fill="#aab4d8" stroke="#d4dcf0" stroke-width="0.6"/>
<circle cx="64.4" cy="72.8" r="3.0" fill="#b0b0c0" stroke="#d4dcf0" stroke-width="0.6"/>
<circle cx="70.9" cy="73.6" r="3.3" fill="#a8aec8" stroke="#d4dcf0" stroke-width="0.6"/>
<circle cx="76.7" cy="71.6" r="3.3" fill="#b2bcdc" stroke="#d4dcf0" stroke-width="0.6"/>
<circle cx="83.9" cy="73.5" r="2.7" fill="#b8c0de" stroke="#d4dcf0" stroke-width="0.6"/>
<circle cx="88.9" cy="72.6" r="2.8" fill="#b0b0c0" stroke="#d4dcf0" stroke-width="0.6"/>
<circle cx="5.3" cy="78.4" r="3.2" fill="#b8c0de" stroke="#d4dcf0" stroke-width="0.6"/>
<circle cx="12.2" cy="78.9" r="3.3" fill="#b8c0de" stroke="#d4dcf0" stroke-width="0.6"/>
<circle cx="19.4" cy="78.7" r="3.3" fill="#aab4d8" stroke="#d4dcf0" stroke-width="0.6"/>
<circle cx="23.9" cy="77.3" r="2.9" fill="#b2bcdc" stroke="#d4dcf0" stroke-width="0.6"/>
<circle cx="30.6" cy="77.7" r="3.3" fill="#b0b0c0" stroke="#d4dcf0" stroke-width="0.6"/>
<circle cx="37.6" cy="78.1" r="3.3" fill="#b2bcdc" stroke="#d4dcf0" stroke-width="0.6"/>
<circle cx="43.7" cy="77.8" r="2.9" fill="#b2bcdc" stroke="#d4dcf0" stroke-width="0.6"/>
<circle cx="49.2" cy="78.3" r="2.7" fill="#aab4d8" stroke="#d4dcf0" stroke-width="0.6"/>
<circle cx="55.4" cy="79.1" r="2.8" fill="#aab4d8" stroke="#d4dcf0" stroke-width="0.6"/>
<circle cx="62.9" cy="79.6" r="3.2" fill="#b0b0c0" stroke="#d4dcf0" stroke-width="0.6"/>
<circle cx="69.0" cy="78.2" r="2.8" fill="#b0b0c0" stroke="#d4dcf0" stroke-width="0.6"/>
<circle cx="75.5" cy="78.4" r="3.3" fill="#a8aec8" stroke="#d4dcf0" stroke-width="0.6"/>
<circle cx="80.5" cy="78.7" r="2.6" fill="#b2bcdc" stroke="#d4dcf0" stroke-width="0.6"/>
<circle cx="86.0" cy="77.5" r="3.3" fill="#b8c0de" stroke="#d4dcf0" stroke-width="0.6"/>
<circle cx="0.0" cy="77.4" r="3.0" fill="#aab4d8" stroke="#d4dcf0" stroke-width="0.6"/>
<circle cx="93.0" cy="77.4" r="3.0" fill="#aab4d8" stroke="#d4dcf0" stroke-width="0.6"/>
<circle cx="3.7" cy="83.7" r="3.0" fill="#b8c0de" stroke="#d4dcf0" stroke-width="0.6"/>
<circle cx="9.2" cy="83.6" r="3.3" fill="#aab4d8" stroke="#d4dcf0" stroke-width="0.6"/>
<circle cx="14.5" cy="83.8" r="3.0" fill="#b2bcdc" stroke="#d4dcf0" stroke-width="0.6"/>
<circle cx="21.0" cy="84.3" r="3.3" fill="#b8c0de" stroke="#d4dcf0" stroke-width="0.6"/>
<circle cx="29.0" cy="85.4" r="3.4" fill="#b8c0de" stroke="#d4dcf0" stroke-width="0.6"/>
<circle cx="35.2" cy="84.1" r="3.4" fill="#a8aec8" stroke="#d4dcf0" stroke-width="0.6"/>
<circle cx="40.4" cy="84.4" r="2.9" fill="#b8c0de" stroke="#d4dcf0" stroke-width="0.6"/>
<circle cx="46.0" cy="84.2" r="3.4" fill="#b8c0de" stroke="#d4dcf0" stroke-width="0.6"/>
<circle cx="53.3" cy="85.3" r="3.1" fill="#b2bcdc" stroke="#d4dcf0" stroke-width="0.6"/>
<circle cx="58.0" cy="84.4" r="3.1" fill="#aab4d8" stroke="#d4dcf0" stroke-width="0.6"/>
<circle cx="66.2" cy="83.1" r="3.5" fill="#a8aec8" stroke="#d4dcf0" stroke-width="0.6"/>
<circle cx="71.0" cy="85.4" r="2.9" fill="#b0b0c0" stroke="#d4dcf0" stroke-width="0.6"/>
<circle cx="76.4" cy="83.5" r="2.6" fill="#a8aec8" stroke="#d4dcf0" stroke-width="0.6"/>
<circle cx="84.7" cy="85.1" r="3.1" fill="#b2bcdc" stroke="#d4dcf0" stroke-width="0.6"/>
<circle cx="89.8" cy="83.7" r="3.2" fill="#a8aec8" stroke="#d4dcf0" stroke-width="0.6"/>
<circle cx="6.0" cy="89.5" r="2.6" fill="#a8aec8" stroke="#d4dcf0" stroke-width="0.6"/>
<circle cx="11.3" cy="91.3" r="2.7" fill="#b0b0c0" stroke="#d4dcf0" stroke-width="0.6"/>
<circle cx="11.3" cy="-1.7" r="2.7" fill="#b0b0c0" stroke="#d4dcf0" stroke-width="0.6"/>
<circle cx="18.0" cy="89.2" r="3.3" fill="#a8aec8" stroke="#d4dcf0" stroke-width="0.6"/>
<circle cx="24.8" cy="90.9" r="3.1" fill="#b8c0de" stroke="#d4dcf0" stroke-width="0.6"/>
<circle cx="24.8" cy="-2.1" r="3.1" fill="#b8c0de" stroke="#d4dcf0" stroke-width="0.6"/>
<circle cx="29.8" cy="89.0" r="3.0" fill="#b2bcdc" stroke="#d4dcf0" stroke-width="0.6"/>
<circle cx="38.2" cy="91.1" r="3.0" fill="#b0b0c0" stroke="#d4dcf0" stroke-width="0.6"/>
<circle cx="38.2" cy="-1.9" r="3.0" fill="#b0b0c0" stroke="#d4dcf0" stroke-width="0.6"/>
<circle cx="43.4" cy="89.8" r="3.2" fill="#b8c0de" stroke="#d4dcf0" stroke-width="0.6"/>
<circle cx="48.8" cy="90.5" r="3.5" fill="#b0b0c0" stroke="#d4dcf0" stroke-width="0.6"/>
<circle cx="48.8" cy="-2.5" r="3.5" fill="#b0b0c0" stroke="#d4dcf0" stroke-width="0.6"/>
<circle cx="54.8" cy="90.8" r="3.0" fill="#b8c0de" stroke="#d4dcf0" stroke-width="0.6"/>
<circle cx="54.8" cy="-2.2" r="3.0" fill="#b8c0de" stroke="#d4dcf0" stroke-width="0.6"/>
<circle cx="62.7" cy="90.0" r="3.5" fill="#aab4d8" stroke="#d4dcf0" stroke-width="0.6"/>
<circle cx="62.7" cy="-3.0" r="3.5" fill="#aab4d8" stroke="#d4dcf0" stroke-width="0.6"/>
<circle cx="68.4" cy="89.2" r="2.6" fill="#a8aec8" stroke="#d4dcf0" stroke-width="0.6"/>
<circle cx="75.2" cy="90.9" r="3.4" fill="#b0b0c0" stroke="#d4dcf0" stroke-width="0.6"/>
<circle cx="75.2" cy="-2.1" r="3.4" fill="#b0b0c0" stroke="#d4dcf0" stroke-width="0.6"/>
<circle cx="80.1" cy="89.7" r="3.1" fill="#b2bcdc" stroke="#d4dcf0" stroke-width="0.6"/>
<circle cx="86.8" cy="89.6" r="3.2" fill="#b8c0de" stroke="#d4dcf0" stroke-width="0.6"/>
<circle cx="92.0" cy="90.5" r="2.9" fill="#b0b0c0" stroke="#d4dcf0" stroke-width="0.6"/>
<circle cx="-1.0" cy="90.5" r="2.9" fill="#b0b0c0" stroke="#d4dcf0" stroke-width="0.6"/>
<circle cx="92.0" cy="-2.5" r="2.9" fill="#b0b0c0" stroke="#d4dcf0" stroke-width="0.6"/>
</pattern><pattern id="ih2" patternUnits="userSpaceOnUse" width="93" height="93">
<rect width="93" height="93" fill="#c4cfec"/>
<circle cx="2.7" cy="2.4" r="3.0" fill="#a4b0d8" stroke="#d6def2" stroke-width="0.7"/>
<circle cx="95.7" cy="2.4" r="3.0" fill="#a4b0d8" stroke="#d6def2" stroke-width="0.7"/>
<circle cx="2.7" cy="95.4" r="3.0" fill="#a4b0d8" stroke="#d6def2" stroke-width="0.7"/>
<circle cx="9.0" cy="2.2" r="3.1" fill="#b2bee2" stroke="#d6def2" stroke-width="0.7"/>
<circle cx="9.0" cy="95.2" r="3.1" fill="#b2bee2" stroke="#d6def2" stroke-width="0.7"/>
<circle cx="17.3" cy="4.0" r="2.8" fill="#b2bee2" stroke="#d6def2" stroke-width="0.7"/>
<circle cx="22.7" cy="2.5" r="2.7" fill="#a4b0d8" stroke="#d6def2" stroke-width="0.7"/>
<circle cx="22.7" cy="95.5" r="2.7" fill="#a4b0d8" stroke="#d6def2" stroke-width="0.7"/>
<circle cx="31.0" cy="2.2" r="3.2" fill="#b2bee2" stroke="#d6def2" stroke-width="0.7"/>
<circle cx="31.0" cy="95.2" r="3.2" fill="#b2bee2" stroke="#d6def2" stroke-width="0.7"/>
<circle cx="37.3" cy="2.6" r="2.9" fill="#b2bee2" stroke="#d6def2" stroke-width="0.7"/>
<circle cx="37.3" cy="95.6" r="2.9" fill="#b2bee2" stroke="#d6def2" stroke-width="0.7"/>
<circle cx="42.2" cy="3.6" r="3.2" fill="#a4b0d8" stroke="#d6def2" stroke-width="0.7"/>
<circle cx="49.0" cy="3.3" r="2.7" fill="#b2bee2" stroke="#d6def2" stroke-width="0.7"/>
<circle cx="55.3" cy="2.8" r="3.2" fill="#b2bee2" stroke="#d6def2" stroke-width="0.7"/>
<circle cx="55.3" cy="95.8" r="3.2" fill="#b2bee2" stroke="#d6def2" stroke-width="0.7"/>
<circle cx="63.9" cy="3.3" r="3.0" fill="#b2bee2" stroke="#d6def2" stroke-width="0.7"/>
<circle cx="69.6" cy="2.5" r="2.9" fill="#aab6dc" stroke="#d6def2" stroke-width="0.7"/>
<circle cx="69.6" cy="95.5" r="2.9" fill="#aab6dc" stroke="#d6def2" stroke-width="0.7"/>
<circle cx="75.4" cy="3.2" r="3.5" fill="#a8b2d6" stroke="#d6def2" stroke-width="0.7"/>
<circle cx="75.4" cy="96.2" r="3.5" fill="#a8b2d6" stroke="#d6def2" stroke-width="0.7"/>
<circle cx="83.5" cy="2.5" r="3.2" fill="#aab6dc" stroke="#d6def2" stroke-width="0.7"/>
<circle cx="83.5" cy="95.5" r="3.2" fill="#aab6dc" stroke="#d6def2" stroke-width="0.7"/>
<circle cx="89.5" cy="2.6" r="3.2" fill="#b2bee2" stroke="#d6def2" stroke-width="0.7"/>
<circle cx="89.5" cy="95.6" r="3.2" fill="#b2bee2" stroke="#d6def2" stroke-width="0.7"/>
<circle cx="5.9" cy="9.8" r="3.1" fill="#a4b0d8" stroke="#d6def2" stroke-width="0.7"/>
<circle cx="14.3" cy="9.0" r="2.7" fill="#a4b0d8" stroke="#d6def2" stroke-width="0.7"/>
<circle cx="19.4" cy="10.2" r="3.4" fill="#aab6dc" stroke="#d6def2" stroke-width="0.7"/>
<circle cx="26.2" cy="9.2" r="3.0" fill="#aab6dc" stroke="#d6def2" stroke-width="0.7"/>
<circle cx="32.9" cy="9.0" r="3.5" fill="#b2bee2" stroke="#d6def2" stroke-width="0.7"/>
<circle cx="40.4" cy="11.1" r="2.6" fill="#b2bee2" stroke="#d6def2" stroke-width="0.7"/>
<circle cx="46.1" cy="9.1" r="3.2" fill="#aab6dc" stroke="#d6def2" stroke-width="0.7"/>
<circle cx="52.6" cy="9.2" r="3.0" fill="#a4b0d8" stroke="#d6def2" stroke-width="0.7"/>
<circle cx="59.2" cy="10.2" r="2.7" fill="#aab6dc" stroke="#d6def2" stroke-width="0.7"/>
<circle cx="66.1" cy="9.9" r="2.9" fill="#b2bee2" stroke="#d6def2" stroke-width="0.7"/>
<circle cx="74.3" cy="10.1" r="3.0" fill="#a4b0d8" stroke="#d6def2" stroke-width="0.7"/>
<circle cx="79.5" cy="9.3" r="2.7" fill="#aab6dc" stroke="#d6def2" stroke-width="0.7"/>
<circle cx="86.9" cy="10.2" r="3.5" fill="#aab6dc" stroke="#d6def2" stroke-width="0.7"/>
<circle cx="0.1" cy="10.2" r="2.9" fill="#aab6dc" stroke="#d6def2" stroke-width="0.7"/>
<circle cx="93.1" cy="10.2" r="2.9" fill="#aab6dc" stroke="#d6def2" stroke-width="0.7"/>
<circle cx="2.4" cy="16.7" r="3.3" fill="#a8b2d6" stroke="#d6def2" stroke-width="0.7"/>
<circle cx="95.4" cy="16.7" r="3.3" fill="#a8b2d6" stroke="#d6def2" stroke-width="0.7"/>
<circle cx="10.3" cy="15.9" r="2.8" fill="#a8b2d6" stroke="#d6def2" stroke-width="0.7"/>
<circle cx="16.4" cy="15.5" r="3.0" fill="#a4b0d8" stroke="#d6def2" stroke-width="0.7"/>
<circle cx="23.6" cy="16.4" r="2.8" fill="#a4b0d8" stroke="#d6def2" stroke-width="0.7"/>
<circle cx="28.8" cy="16.0" r="2.8" fill="#a4b0d8" stroke="#d6def2" stroke-width="0.7"/>
<circle cx="37.2" cy="16.4" r="2.8" fill="#b2bee2" stroke="#d6def2" stroke-width="0.7"/>
<circle cx="42.1" cy="17.6" r="3.1" fill="#a8b2d6" stroke="#d6def2" stroke-width="0.7"/>
<circle cx="50.9" cy="17.0" r="3.4" fill="#aab6dc" stroke="#d6def2" stroke-width="0.7"/>
<circle cx="56.5" cy="15.6" r="2.8" fill="#a4b0d8" stroke="#d6def2" stroke-width="0.7"/>
<circle cx="62.7" cy="17.0" r="3.3" fill="#b2bee2" stroke="#d6def2" stroke-width="0.7"/>
<circle cx="70.5" cy="16.7" r="3.2" fill="#b2bee2" stroke="#d6def2" stroke-width="0.7"/>
<circle cx="76.0" cy="16.3" r="3.0" fill="#b2bee2" stroke="#d6def2" stroke-width="0.7"/>
<circle cx="84.1" cy="17.0" r="2.6" fill="#a4b0d8" stroke="#d6def2" stroke-width="0.7"/>
<circle cx="90.3" cy="16.1" r="3.4" fill="#a4b0d8" stroke="#d6def2" stroke-width="0.7"/>
<circle cx="-2.7" cy="16.1" r="3.4" fill="#a4b0d8" stroke="#d6def2" stroke-width="0.7"/>
<circle cx="7.1" cy="23.2" r="3.0" fill="#a8b2d6" stroke="#d6def2" stroke-width="0.7"/>
<circle cx="14.3" cy="22.6" r="2.6" fill="#a4b0d8" stroke="#d6def2" stroke-width="0.7"/>
<circle cx="18.8" cy="24.2" r="2.7" fill="#a8b2d6" stroke="#d6def2" stroke-width="0.7"/>
<circle cx="27.5" cy="23.4" r="3.4" fill="#a4b0d8" stroke="#d6def2" stroke-width="0.7"/>
<circle cx="32.4" cy="23.5" r="3.3" fill="#a8b2d6" stroke="#d6def2" stroke-width="0.7"/>
<circle cx="40.9" cy="23.1" r="2.7" fill="#aab6dc" stroke="#d6def2" stroke-width="0.7"/>
<circle cx="46.5" cy="24.1" r="3.1" fill="#a4b0d8" stroke="#d6def2" stroke-width="0.7"/>
<circle cx="52.0" cy="22.2" r="3.4" fill="#aab6dc" stroke="#d6def2" stroke-width="0.7"/>
<circle cx="59.3" cy="22.9" r="2.7" fill="#a8b2d6" stroke="#d6def2" stroke-width="0.7"/>
<circle cx="66.1" cy="23.9" r="2.9" fill="#a4b0d8" stroke="#d6def2" stroke-width="0.7"/>
<circle cx="73.7" cy="24.1" r="3.0" fill="#aab6dc" stroke="#d6def2" stroke-width="0.7"/>
<circle cx="78.8" cy="23.5" r="3.4" fill="#a8b2d6" stroke="#d6def2" stroke-width="0.7"/>
<circle cx="86.2" cy="23.8" r="3.0" fill="#a4b0d8" stroke="#d6def2" stroke-width="0.7"/>
<circle cx="0.3" cy="24.3" r="3.0" fill="#aab6dc" stroke="#d6def2" stroke-width="0.7"/>
<circle cx="93.3" cy="24.3" r="3.0" fill="#aab6dc" stroke="#d6def2" stroke-width="0.7"/>
<circle cx="4.0" cy="29.1" r="3.4" fill="#a4b0d8" stroke="#d6def2" stroke-width="0.7"/>
<circle cx="10.5" cy="29.5" r="3.4" fill="#b2bee2" stroke="#d6def2" stroke-width="0.7"/>
<circle cx="16.7" cy="30.9" r="3.2" fill="#aab6dc" stroke="#d6def2" stroke-width="0.7"/>
<circle cx="23.6" cy="29.0" r="2.7" fill="#a8b2d6" stroke="#d6def2" stroke-width="0.7"/>
<circle cx="30.0" cy="29.9" r="3.0" fill="#b2bee2" stroke="#d6def2" stroke-width="0.7"/>
<circle cx="36.2" cy="30.5" r="3.5" fill="#aab6dc" stroke="#d6def2" stroke-width="0.7"/>
<circle cx="43.6" cy="30.2" r="2.9" fill="#a8b2d6" stroke="#d6def2" stroke-width="0.7"/>
<circle cx="50.5" cy="30.1" r="3.4" fill="#a8b2d6" stroke="#d6def2" stroke-width="0.7"/>
<circle cx="56.7" cy="29.8" r="2.7" fill="#b2bee2" stroke="#d6def2" stroke-width="0.7"/>
<circle cx="64.3" cy="29.5" r="3.0" fill="#a4b0d8" stroke="#d6def2" stroke-width="0.7"/>
<circle cx="70.2" cy="30.2" r="2.9" fill="#b2bee2" stroke="#d6def2" stroke-width="0.7"/>
<circle cx="75.7" cy="30.6" r="3.2" fill="#aab6dc" stroke="#d6def2" stroke-width="0.7"/>
<circle cx="82.0" cy="30.2" r="3.4" fill="#b2bee2" stroke="#d6def2" stroke-width="0.7"/>
<circle cx="90.0" cy="29.5" r="2.9" fill="#aab6dc" stroke="#d6def2" stroke-width="0.7"/>
<circle cx="6.9" cy="36.6" r="3.3" fill="#aab6dc" stroke="#d6def2" stroke-width="0.7"/>
<circle cx="14.0" cy="37.3" r="3.5" fill="#a4b0d8" stroke="#d6def2" stroke-width="0.7"/>
<circle cx="19.2" cy="37.7" r="3.2" fill="#aab6dc" stroke="#d6def2" stroke-width="0.7"/>
<circle cx="27.2" cy="37.7" r="2.7" fill="#a8b2d6" stroke="#d6def2" stroke-width="0.7"/>
<circle cx="33.6" cy="37.1" r="3.2" fill="#b2bee2" stroke="#d6def2" stroke-width="0.7"/>
<circle cx="40.7" cy="37.0" r="3.4" fill="#a4b0d8" stroke="#d6def2" stroke-width="0.7"/>
<circle cx="47.5" cy="37.0" r="2.9" fill="#a4b0d8" stroke="#d6def2" stroke-width="0.7"/>
<circle cx="53.7" cy="36.6" r="3.1" fill="#a8b2d6" stroke="#d6def2" stroke-width="0.7"/>
<circle cx="60.7" cy="36.3" r="3.0" fill="#b2bee2" stroke="#d6def2" stroke-width="0.7"/>
<circle cx="65.9" cy="36.3" r="2.6" fill="#a4b0d8" stroke="#d6def2" stroke-width="0.7"/>
<circle cx="74.0" cy="36.4" r="3.1" fill="#b2bee2" stroke="#d6def2" stroke-width="0.7"/>
<circle cx="79.5" cy="36.3" r="2.6" fill="#aab6dc" stroke="#d6def2" stroke-width="0.7"/>
<circle cx="86.3" cy="37.7" r="3.2" fill="#b2bee2" stroke="#d6def2" stroke-width="0.7"/>
<circle cx="0.2" cy="36.1" r="2.7" fill="#b2bee2" stroke="#d6def2" stroke-width="0.7"/>
<circle cx="93.2" cy="36.1" r="2.7" fill="#b2bee2" stroke="#d6def2" stroke-width="0.7"/>
<circle cx="3.3" cy="43.5" r="3.0" fill="#aab6dc" stroke="#d6def2" stroke-width="0.7"/>
<circle cx="9.1" cy="42.6" r="2.9" fill="#aab6dc" stroke="#d6def2" stroke-width="0.7"/>
<circle cx="15.8" cy="43.9" r="3.2" fill="#b2bee2" stroke="#d6def2" stroke-width="0.7"/>
<circle cx="22.1" cy="42.6" r="3.3" fill="#a4b0d8" stroke="#d6def2" stroke-width="0.7"/>
<circle cx="28.8" cy="42.7" r="2.7" fill="#aab6dc" stroke="#d6def2" stroke-width="0.7"/>
<circle cx="37.4" cy="43.5" r="3.1" fill="#a4b0d8" stroke="#d6def2" stroke-width="0.7"/>
<circle cx="43.7" cy="43.6" r="3.5" fill="#aab6dc" stroke="#d6def2" stroke-width="0.7"/>
<circle cx="50.0" cy="43.6" r="3.3" fill="#a4b0d8" stroke="#d6def2" stroke-width="0.7"/>
<circle cx="56.5" cy="42.3" r="3.4" fill="#a8b2d6" stroke="#d6def2" stroke-width="0.7"/>
<circle cx="63.1" cy="42.9" r="2.7" fill="#b2bee2" stroke="#d6def2" stroke-width="0.7"/>
<circle cx="69.8" cy="43.3" r="2.9" fill="#a8b2d6" stroke="#d6def2" stroke-width="0.7"/>
<circle cx="76.0" cy="42.9" r="3.0" fill="#aab6dc" stroke="#d6def2" stroke-width="0.7"/>
<circle cx="82.5" cy="43.6" r="2.9" fill="#a4b0d8" stroke="#d6def2" stroke-width="0.7"/>
<circle cx="88.7" cy="42.3" r="3.1" fill="#aab6dc" stroke="#d6def2" stroke-width="0.7"/>
<circle cx="6.0" cy="49.9" r="3.0" fill="#a4b0d8" stroke="#d6def2" stroke-width="0.7"/>
<circle cx="14.2" cy="49.7" r="3.3" fill="#a8b2d6" stroke="#d6def2" stroke-width="0.7"/>
<circle cx="19.5" cy="49.0" r="3.1" fill="#a4b0d8" stroke="#d6def2" stroke-width="0.7"/>
<circle cx="25.6" cy="50.1" r="3.4" fill="#b2bee2" stroke="#d6def2" stroke-width="0.7"/>
<circle cx="34.2" cy="50.6" r="3.0" fill="#aab6dc" stroke="#d6def2" stroke-width="0.7"/>
<circle cx="40.6" cy="49.1" r="3.1" fill="#b2bee2" stroke="#d6def2" stroke-width="0.7"/>
<circle cx="47.2" cy="49.8" r="3.4" fill="#aab6dc" stroke="#d6def2" stroke-width="0.7"/>
<circle cx="54.1" cy="50.8" r="3.4" fill="#aab6dc" stroke="#d6def2" stroke-width="0.7"/>
<circle cx="60.0" cy="49.9" r="3.5" fill="#b2bee2" stroke="#d6def2" stroke-width="0.7"/>
<circle cx="67.5" cy="49.0" r="2.6" fill="#a4b0d8" stroke="#d6def2" stroke-width="0.7"/>
<circle cx="72.0" cy="50.2" r="2.9" fill="#a4b0d8" stroke="#d6def2" stroke-width="0.7"/>
<circle cx="80.2" cy="48.9" r="3.5" fill="#aab6dc" stroke="#d6def2" stroke-width="0.7"/>
<circle cx="85.3" cy="49.2" r="2.8" fill="#aab6dc" stroke="#d6def2" stroke-width="0.7"/>
<circle cx="0.9" cy="51.0" r="2.6" fill="#a4b0d8" stroke="#d6def2" stroke-width="0.7"/>
<circle cx="93.9" cy="51.0" r="2.6" fill="#a4b0d8" stroke="#d6def2" stroke-width="0.7"/>
<circle cx="2.6" cy="55.9" r="3.3" fill="#b2bee2" stroke="#d6def2" stroke-width="0.7"/>
<circle cx="95.6" cy="55.9" r="3.3" fill="#b2bee2" stroke="#d6def2" stroke-width="0.7"/>
<circle cx="10.7" cy="56.0" r="2.9" fill="#a8b2d6" stroke="#d6def2" stroke-width="0.7"/>
<circle cx="15.5" cy="56.3" r="3.5" fill="#b2bee2" stroke="#d6def2" stroke-width="0.7"/>
<circle cx="23.4" cy="55.9" r="2.8" fill="#a8b2d6" stroke="#d6def2" stroke-width="0.7"/>
<circle cx="29.5" cy="55.8" r="3.0" fill="#a8b2d6" stroke="#d6def2" stroke-width="0.7"/>
<circle cx="37.6" cy="55.9" r="3.3" fill="#a8b2d6" stroke="#d6def2" stroke-width="0.7"/>
<circle cx="44.3" cy="57.5" r="3.0" fill="#a4b0d8" stroke="#d6def2" stroke-width="0.7"/>
<circle cx="49.2" cy="56.5" r="2.6" fill="#b2bee2" stroke="#d6def2" stroke-width="0.7"/>
<circle cx="56.7" cy="56.9" r="3.2" fill="#b2bee2" stroke="#d6def2" stroke-width="0.7"/>
<circle cx="62.1" cy="57.6" r="2.7" fill="#aab6dc" stroke="#d6def2" stroke-width="0.7"/>
<circle cx="70.2" cy="57.5" r="2.8" fill="#a4b0d8" stroke="#d6def2" stroke-width="0.7"/>
<circle cx="77.3" cy="56.5" r="2.7" fill="#b2bee2" stroke="#d6def2" stroke-width="0.7"/>
<circle cx="81.9" cy="56.6" r="2.8" fill="#aab6dc" stroke="#d6def2" stroke-width="0.7"/>
<circle cx="89.1" cy="57.3" r="2.7" fill="#b2bee2" stroke="#d6def2" stroke-width="0.7"/>
<circle cx="6.2" cy="63.3" r="3.2" fill="#aab6dc" stroke="#d6def2" stroke-width="0.7"/>
<circle cx="13.7" cy="64.3" r="3.4" fill="#aab6dc" stroke="#d6def2" stroke-width="0.7"/>
<circle cx="20.5" cy="63.8" r="3.2" fill="#b2bee2" stroke="#d6def2" stroke-width="0.7"/>
<circle cx="25.5" cy="62.7" r="2.9" fill="#b2bee2" stroke="#d6def2" stroke-width="0.7"/>
<circle cx="34.4" cy="62.3" r="3.3" fill="#aab6dc" stroke="#d6def2" stroke-width="0.7"/>
<circle cx="41.0" cy="64.2" r="3.2" fill="#aab6dc" stroke="#d6def2" stroke-width="0.7"/>
<circle cx="46.9" cy="62.5" r="3.4" fill="#a8b2d6" stroke="#d6def2" stroke-width="0.7"/>
<circle cx="52.2" cy="62.4" r="2.7" fill="#a8b2d6" stroke="#d6def2" stroke-width="0.7"/>
<circle cx="60.0" cy="63.1" r="2.9" fill="#a8b2d6" stroke="#d6def2" stroke-width="0.7"/>
<circle cx="67.0" cy="63.9" r="3.3" fill="#aab6dc" stroke="#d6def2" stroke-width="0.7"/>
<circle cx="72.3" cy="62.8" r="2.9" fill="#b2bee2" stroke="#d6def2" stroke-width="0.7"/>
<circle cx="79.9" cy="62.4" r="3.2" fill="#b2bee2" stroke="#d6def2" stroke-width="0.7"/>
<circle cx="86.1" cy="63.2" r="2.7" fill="#a4b0d8" stroke="#d6def2" stroke-width="0.7"/>
<circle cx="92.3" cy="62.7" r="3.5" fill="#a4b0d8" stroke="#d6def2" stroke-width="0.7"/>
<circle cx="-0.7" cy="62.7" r="3.5" fill="#a4b0d8" stroke="#d6def2" stroke-width="0.7"/>
<circle cx="2.2" cy="68.8" r="2.9" fill="#b2bee2" stroke="#d6def2" stroke-width="0.7"/>
<circle cx="95.2" cy="68.8" r="2.9" fill="#b2bee2" stroke="#d6def2" stroke-width="0.7"/>
<circle cx="11.0" cy="69.7" r="2.6" fill="#b2bee2" stroke="#d6def2" stroke-width="0.7"/>
<circle cx="17.3" cy="70.5" r="2.7" fill="#a8b2d6" stroke="#d6def2" stroke-width="0.7"/>
<circle cx="23.5" cy="69.4" r="2.6" fill="#a4b0d8" stroke="#d6def2" stroke-width="0.7"/>
<circle cx="29.8" cy="70.3" r="3.4" fill="#a8b2d6" stroke="#d6def2" stroke-width="0.7"/>
<circle cx="35.8" cy="69.3" r="3.1" fill="#aab6dc" stroke="#d6def2" stroke-width="0.7"/>
<circle cx="44.1" cy="69.7" r="3.5" fill="#aab6dc" stroke="#d6def2" stroke-width="0.7"/>
<circle cx="49.1" cy="70.0" r="3.1" fill="#aab6dc" stroke="#d6def2" stroke-width="0.7"/>
<circle cx="57.0" cy="68.6" r="3.0" fill="#a4b0d8" stroke="#d6def2" stroke-width="0.7"/>
<circle cx="63.4" cy="68.9" r="3.1" fill="#a4b0d8" stroke="#d6def2" stroke-width="0.7"/>
<circle cx="69.6" cy="69.3" r="3.2" fill="#a4b0d8" stroke="#d6def2" stroke-width="0.7"/>
<circle cx="76.9" cy="70.8" r="3.4" fill="#b2bee2" stroke="#d6def2" stroke-width="0.7"/>
<circle cx="82.5" cy="69.4" r="3.1" fill="#a4b0d8" stroke="#d6def2" stroke-width="0.7"/>
<circle cx="89.4" cy="70.6" r="2.8" fill="#a8b2d6" stroke="#d6def2" stroke-width="0.7"/>
<circle cx="7.4" cy="75.4" r="3.2" fill="#a4b0d8" stroke="#d6def2" stroke-width="0.7"/>
<circle cx="14.5" cy="75.5" r="3.2" fill="#aab6dc" stroke="#d6def2" stroke-width="0.7"/>
<circle cx="20.0" cy="76.0" r="3.4" fill="#aab6dc" stroke="#d6def2" stroke-width="0.7"/>
<circle cx="27.3" cy="76.6" r="3.1" fill="#b2bee2" stroke="#d6def2" stroke-width="0.7"/>
<circle cx="33.5" cy="75.9" r="3.4" fill="#b2bee2" stroke="#d6def2" stroke-width="0.7"/>
<circle cx="39.2" cy="76.3" r="2.9" fill="#aab6dc" stroke="#d6def2" stroke-width="0.7"/>
<circle cx="47.4" cy="75.9" r="3.0" fill="#aab6dc" stroke="#d6def2" stroke-width="0.7"/>
<circle cx="52.8" cy="76.6" r="3.4" fill="#b2bee2" stroke="#d6def2" stroke-width="0.7"/>
<circle cx="58.8" cy="76.2" r="2.7" fill="#a8b2d6" stroke="#d6def2" stroke-width="0.7"/>
<circle cx="67.1" cy="75.3" r="2.8" fill="#a4b0d8" stroke="#d6def2" stroke-width="0.7"/>
<circle cx="73.8" cy="75.7" r="3.4" fill="#aab6dc" stroke="#d6def2" stroke-width="0.7"/>
<circle cx="80.9" cy="75.2" r="2.6" fill="#b2bee2" stroke="#d6def2" stroke-width="0.7"/>
<circle cx="86.4" cy="76.5" r="2.7" fill="#b2bee2" stroke="#d6def2" stroke-width="0.7"/>
<circle cx="0.4" cy="76.7" r="3.1" fill="#aab6dc" stroke="#d6def2" stroke-width="0.7"/>
<circle cx="93.4" cy="76.7" r="3.1" fill="#aab6dc" stroke="#d6def2" stroke-width="0.7"/>
<circle cx="3.8" cy="82.0" r="3.0" fill="#a4b0d8" stroke="#d6def2" stroke-width="0.7"/>
<circle cx="10.9" cy="84.2" r="3.1" fill="#b2bee2" stroke="#d6def2" stroke-width="0.7"/>
<circle cx="17.0" cy="82.2" r="3.1" fill="#aab6dc" stroke="#d6def2" stroke-width="0.7"/>
<circle cx="23.5" cy="81.8" r="2.6" fill="#b2bee2" stroke="#d6def2" stroke-width="0.7"/>
<circle cx="30.0" cy="82.9" r="2.9" fill="#b2bee2" stroke="#d6def2" stroke-width="0.7"/>
<circle cx="37.6" cy="82.2" r="2.9" fill="#a8b2d6" stroke="#d6def2" stroke-width="0.7"/>
<circle cx="42.6" cy="83.3" r="2.8" fill="#a8b2d6" stroke="#d6def2" stroke-width="0.7"/>
<circle cx="51.0" cy="83.2" r="2.6" fill="#a4b0d8" stroke="#d6def2" stroke-width="0.7"/>
<circle cx="55.9" cy="83.2" r="3.1" fill="#a8b2d6" stroke="#d6def2" stroke-width="0.7"/>
<circle cx="64.2" cy="82.2" r="2.7" fill="#b2bee2" stroke="#d6def2" stroke-width="0.7"/>
<circle cx="70.6" cy="83.5" r="3.1" fill="#b2bee2" stroke="#d6def2" stroke-width="0.7"/>
<circle cx="75.8" cy="83.9" r="2.7" fill="#aab6dc" stroke="#d6def2" stroke-width="0.7"/>
<circle cx="83.9" cy="83.7" r="2.9" fill="#a4b0d8" stroke="#d6def2" stroke-width="0.7"/>
<circle cx="88.9" cy="82.1" r="3.5" fill="#aab6dc" stroke="#d6def2" stroke-width="0.7"/>
<circle cx="6.7" cy="88.6" r="3.4" fill="#a4b0d8" stroke="#d6def2" stroke-width="0.7"/>
<circle cx="12.6" cy="89.1" r="3.5" fill="#a8b2d6" stroke="#d6def2" stroke-width="0.7"/>
<circle cx="19.7" cy="90.0" r="3.5" fill="#a8b2d6" stroke="#d6def2" stroke-width="0.7"/>
<circle cx="19.7" cy="-3.0" r="3.5" fill="#a8b2d6" stroke="#d6def2" stroke-width="0.7"/>
<circle cx="26.1" cy="88.7" r="3.3" fill="#aab6dc" stroke="#d6def2" stroke-width="0.7"/>
<circle cx="32.5" cy="89.5" r="3.0" fill="#a4b0d8" stroke="#d6def2" stroke-width="0.7"/>
<circle cx="39.7" cy="90.2" r="3.1" fill="#b2bee2" stroke="#d6def2" stroke-width="0.7"/>
<circle cx="39.7" cy="-2.8" r="3.1" fill="#b2bee2" stroke="#d6def2" stroke-width="0.7"/>
<circle cx="46.1" cy="89.3" r="3.2" fill="#aab6dc" stroke="#d6def2" stroke-width="0.7"/>
<circle cx="52.8" cy="88.7" r="2.9" fill="#a4b0d8" stroke="#d6def2" stroke-width="0.7"/>
<circle cx="59.8" cy="90.7" r="3.0" fill="#aab6dc" stroke="#d6def2" stroke-width="0.7"/>
<circle cx="59.8" cy="-2.3" r="3.0" fill="#aab6dc" stroke="#d6def2" stroke-width="0.7"/>
<circle cx="66.2" cy="88.7" r="2.9" fill="#a4b0d8" stroke="#d6def2" stroke-width="0.7"/>
<circle cx="73.7" cy="88.7" r="2.7" fill="#a4b0d8" stroke="#d6def2" stroke-width="0.7"/>
<circle cx="79.6" cy="90.2" r="3.3" fill="#a8b2d6" stroke="#d6def2" stroke-width="0.7"/>
<circle cx="79.6" cy="-2.8" r="3.3" fill="#a8b2d6" stroke="#d6def2" stroke-width="0.7"/>
<circle cx="85.9" cy="90.1" r="3.4" fill="#a8b2d6" stroke="#d6def2" stroke-width="0.7"/>
<circle cx="85.9" cy="-2.9" r="3.4" fill="#a8b2d6" stroke="#d6def2" stroke-width="0.7"/>
<circle cx="1.0" cy="90.2" r="3.3" fill="#b2bee2" stroke="#d6def2" stroke-width="0.7"/>
<circle cx="94.0" cy="90.2" r="3.3" fill="#b2bee2" stroke="#d6def2" stroke-width="0.7"/>
<circle cx="1.0" cy="-2.8" r="3.3" fill="#b2bee2" stroke="#d6def2" stroke-width="0.7"/>
</pattern><pattern id="ih3" patternUnits="userSpaceOnUse" width="93" height="93">
<rect width="93" height="93" fill="#b6c4e8"/>
<circle cx="3.4" cy="3.5" r="3.3" fill="#a2b2de" stroke="#c2ceee" stroke-width="0.5"/>
<circle cx="10.1" cy="3.6" r="2.8" fill="#a2b2de" stroke="#c2ceee" stroke-width="0.5"/>
<circle cx="16.5" cy="2.0" r="3.0" fill="#aab8e2" stroke="#c2ceee" stroke-width="0.5"/>
<circle cx="16.5" cy="95.0" r="3.0" fill="#aab8e2" stroke="#c2ceee" stroke-width="0.5"/>
<circle cx="21.4" cy="2.0" r="2.8" fill="#aab8e2" stroke="#c2ceee" stroke-width="0.5"/>
<circle cx="21.4" cy="95.0" r="2.8" fill="#aab8e2" stroke="#c2ceee" stroke-width="0.5"/>
<circle cx="27.7" cy="2.1" r="3.4" fill="#a6b4e0" stroke="#c2ceee" stroke-width="0.5"/>
<circle cx="27.7" cy="95.1" r="3.4" fill="#a6b4e0" stroke="#c2ceee" stroke-width="0.5"/>
<circle cx="33.3" cy="3.6" r="2.7" fill="#a6b4e0" stroke="#c2ceee" stroke-width="0.5"/>
<circle cx="39.4" cy="1.7" r="3.4" fill="#aab8e2" stroke="#c2ceee" stroke-width="0.5"/>
<circle cx="39.4" cy="94.7" r="3.4" fill="#aab8e2" stroke="#c2ceee" stroke-width="0.5"/>
<circle cx="47.2" cy="4.0" r="2.7" fill="#aab8e2" stroke="#c2ceee" stroke-width="0.5"/>
<circle cx="52.2" cy="4.0" r="3.1" fill="#aab8e2" stroke="#c2ceee" stroke-width="0.5"/>
<circle cx="58.1" cy="4.0" r="2.8" fill="#a6b4e0" stroke="#c2ceee" stroke-width="0.5"/>
<circle cx="64.6" cy="2.6" r="2.7" fill="#aab8e2" stroke="#c2ceee" stroke-width="0.5"/>
<circle cx="64.6" cy="95.6" r="2.7" fill="#aab8e2" stroke="#c2ceee" stroke-width="0.5"/>
<circle cx="70.7" cy="2.5" r="3.3" fill="#a2b2de" stroke="#c2ceee" stroke-width="0.5"/>
<circle cx="70.7" cy="95.5" r="3.3" fill="#a2b2de" stroke="#c2ceee" stroke-width="0.5"/>
<circle cx="77.7" cy="3.4" r="2.7" fill="#9cacda" stroke="#c2ceee" stroke-width="0.5"/>
<circle cx="84.5" cy="2.9" r="2.9" fill="#a6b4e0" stroke="#c2ceee" stroke-width="0.5"/>
<circle cx="84.5" cy="95.9" r="2.9" fill="#a6b4e0" stroke="#c2ceee" stroke-width="0.5"/>
<circle cx="89.8" cy="2.1" r="2.8" fill="#a2b2de" stroke="#c2ceee" stroke-width="0.5"/>
<circle cx="89.8" cy="95.1" r="2.8" fill="#a2b2de" stroke="#c2ceee" stroke-width="0.5"/>
<circle cx="7.3" cy="8.4" r="3.0" fill="#a6b4e0" stroke="#c2ceee" stroke-width="0.5"/>
<circle cx="12.1" cy="8.9" r="2.6" fill="#a2b2de" stroke="#c2ceee" stroke-width="0.5"/>
<circle cx="19.1" cy="9.0" r="3.5" fill="#a2b2de" stroke="#c2ceee" stroke-width="0.5"/>
<circle cx="25.4" cy="9.7" r="3.4" fill="#9cacda" stroke="#c2ceee" stroke-width="0.5"/>
<circle cx="31.0" cy="9.7" r="2.8" fill="#a6b4e0" stroke="#c2ceee" stroke-width="0.5"/>
<circle cx="36.3" cy="9.3" r="3.3" fill="#9cacda" stroke="#c2ceee" stroke-width="0.5"/>
<circle cx="42.3" cy="9.8" r="2.7" fill="#9cacda" stroke="#c2ceee" stroke-width="0.5"/>
<circle cx="49.6" cy="8.4" r="2.7" fill="#9cacda" stroke="#c2ceee" stroke-width="0.5"/>
<circle cx="56.8" cy="8.8" r="2.9" fill="#9cacda" stroke="#c2ceee" stroke-width="0.5"/>
<circle cx="61.5" cy="9.4" r="3.2" fill="#9cacda" stroke="#c2ceee" stroke-width="0.5"/>
<circle cx="69.4" cy="7.9" r="2.6" fill="#a6b4e0" stroke="#c2ceee" stroke-width="0.5"/>
<circle cx="73.3" cy="9.3" r="2.9" fill="#9cacda" stroke="#c2ceee" stroke-width="0.5"/>
<circle cx="80.5" cy="8.5" r="2.7" fill="#a2b2de" stroke="#c2ceee" stroke-width="0.5"/>
<circle cx="87.5" cy="8.3" r="2.8" fill="#aab8e2" stroke="#c2ceee" stroke-width="0.5"/>
<circle cx="0.3" cy="9.4" r="2.7" fill="#a6b4e0" stroke="#c2ceee" stroke-width="0.5"/>
<circle cx="93.3" cy="9.4" r="2.7" fill="#a6b4e0" stroke="#c2ceee" stroke-width="0.5"/>
<circle cx="2.8" cy="13.5" r="3.0" fill="#aab8e2" stroke="#c2ceee" stroke-width="0.5"/>
<circle cx="95.8" cy="13.5" r="3.0" fill="#aab8e2" stroke="#c2ceee" stroke-width="0.5"/>
<circle cx="9.2" cy="15.7" r="3.4" fill="#a6b4e0" stroke="#c2ceee" stroke-width="0.5"/>
<circle cx="16.6" cy="15.0" r="2.9" fill="#9cacda" stroke="#c2ceee" stroke-width="0.5"/>
<circle cx="21.2" cy="14.3" r="2.7" fill="#a6b4e0" stroke="#c2ceee" stroke-width="0.5"/>
<circle cx="28.7" cy="14.6" r="2.8" fill="#a6b4e0" stroke="#c2ceee" stroke-width="0.5"/>
<circle cx="35.0" cy="13.8" r="3.0" fill="#9cacda" stroke="#c2ceee" stroke-width="0.5"/>
<circle cx="39.3" cy="15.2" r="2.9" fill="#a2b2de" stroke="#c2ceee" stroke-width="0.5"/>
<circle cx="47.1" cy="14.2" r="3.2" fill="#9cacda" stroke="#c2ceee" stroke-width="0.5"/>
<circle cx="53.5" cy="14.0" r="3.5" fill="#9cacda" stroke="#c2ceee" stroke-width="0.5"/>
<circle cx="60.0" cy="14.1" r="2.8" fill="#a2b2de" stroke="#c2ceee" stroke-width="0.5"/>
<circle cx="65.0" cy="15.2" r="2.9" fill="#9cacda" stroke="#c2ceee" stroke-width="0.5"/>
<circle cx="71.2" cy="15.3" r="3.2" fill="#9cacda" stroke="#c2ceee" stroke-width="0.5"/>
<circle cx="77.1" cy="14.9" r="3.3" fill="#a6b4e0" stroke="#c2ceee" stroke-width="0.5"/>
<circle cx="83.3" cy="15.4" r="3.4" fill="#a6b4e0" stroke="#c2ceee" stroke-width="0.5"/>
<circle cx="91.0" cy="15.6" r="3.1" fill="#aab8e2" stroke="#c2ceee" stroke-width="0.5"/>
<circle cx="-2.0" cy="15.6" r="3.1" fill="#aab8e2" stroke="#c2ceee" stroke-width="0.5"/>
<circle cx="5.5" cy="20.0" r="3.4" fill="#9cacda" stroke="#c2ceee" stroke-width="0.5"/>
<circle cx="12.9" cy="20.9" r="3.3" fill="#aab8e2" stroke="#c2ceee" stroke-width="0.5"/>
<circle cx="18.9" cy="21.4" r="3.1" fill="#a6b4e0" stroke="#c2ceee" stroke-width="0.5"/>
<circle cx="24.3" cy="20.5" r="3.4" fill="#9cacda" stroke="#c2ceee" stroke-width="0.5"/>
<circle cx="31.5" cy="19.2" r="2.7" fill="#a6b4e0" stroke="#c2ceee" stroke-width="0.5"/>
<circle cx="37.5" cy="19.6" r="3.3" fill="#aab8e2" stroke="#c2ceee" stroke-width="0.5"/>
<circle cx="43.7" cy="19.2" r="3.0" fill="#aab8e2" stroke="#c2ceee" stroke-width="0.5"/>
<circle cx="48.8" cy="21.3" r="2.7" fill="#aab8e2" stroke="#c2ceee" stroke-width="0.5"/>
<circle cx="55.8" cy="20.5" r="3.0" fill="#9cacda" stroke="#c2ceee" stroke-width="0.5"/>
<circle cx="61.7" cy="20.6" r="3.1" fill="#aab8e2" stroke="#c2ceee" stroke-width="0.5"/>
<circle cx="68.7" cy="20.0" r="2.9" fill="#9cacda" stroke="#c2ceee" stroke-width="0.5"/>
<circle cx="75.3" cy="21.2" r="3.2" fill="#9cacda" stroke="#c2ceee" stroke-width="0.5"/>
<circle cx="81.7" cy="20.5" r="2.9" fill="#9cacda" stroke="#c2ceee" stroke-width="0.5"/>
<circle cx="86.9" cy="20.0" r="3.1" fill="#9cacda" stroke="#c2ceee" stroke-width="0.5"/>
<circle cx="0.8" cy="20.1" r="3.3" fill="#9cacda" stroke="#c2ceee" stroke-width="0.5"/>
<circle cx="93.8" cy="20.1" r="3.3" fill="#9cacda" stroke="#c2ceee" stroke-width="0.5"/>
<circle cx="3.0" cy="25.3" r="2.9" fill="#a6b4e0" stroke="#c2ceee" stroke-width="0.5"/>
<circle cx="10.4" cy="27.3" r="3.1" fill="#9cacda" stroke="#c2ceee" stroke-width="0.5"/>
<circle cx="16.3" cy="26.5" r="2.9" fill="#9cacda" stroke="#c2ceee" stroke-width="0.5"/>
<circle cx="21.9" cy="26.4" r="2.7" fill="#a6b4e0" stroke="#c2ceee" stroke-width="0.5"/>
<circle cx="27.7" cy="27.3" r="3.0" fill="#a6b4e0" stroke="#c2ceee" stroke-width="0.5"/>
<circle cx="35.2" cy="25.9" r="3.5" fill="#aab8e2" stroke="#c2ceee" stroke-width="0.5"/>
<circle cx="40.5" cy="25.6" r="3.5" fill="#a6b4e0" stroke="#c2ceee" stroke-width="0.5"/>
<circle cx="45.9" cy="25.0" r="3.5" fill="#9cacda" stroke="#c2ceee" stroke-width="0.5"/>
<circle cx="52.7" cy="25.6" r="3.0" fill="#a2b2de" stroke="#c2ceee" stroke-width="0.5"/>
<circle cx="59.3" cy="27.3" r="2.8" fill="#a2b2de" stroke="#c2ceee" stroke-width="0.5"/>
<circle cx="65.8" cy="26.9" r="2.6" fill="#9cacda" stroke="#c2ceee" stroke-width="0.5"/>
<circle cx="70.7" cy="26.1" r="2.6" fill="#a6b4e0" stroke="#c2ceee" stroke-width="0.5"/>
<circle cx="76.9" cy="25.3" r="3.5" fill="#9cacda" stroke="#c2ceee" stroke-width="0.5"/>
<circle cx="83.7" cy="27.3" r="3.1" fill="#a2b2de" stroke="#c2ceee" stroke-width="0.5"/>
<circle cx="88.7" cy="25.3" r="2.9" fill="#9cacda" stroke="#c2ceee" stroke-width="0.5"/>
<circle cx="6.5" cy="32.5" r="2.6" fill="#9cacda" stroke="#c2ceee" stroke-width="0.5"/>
<circle cx="12.1" cy="32.6" r="3.1" fill="#a2b2de" stroke="#c2ceee" stroke-width="0.5"/>
<circle cx="17.4" cy="32.1" r="3.2" fill="#a2b2de" stroke="#c2ceee" stroke-width="0.5"/>
<circle cx="25.7" cy="32.1" r="2.6" fill="#a6b4e0" stroke="#c2ceee" stroke-width="0.5"/>
<circle cx="31.2" cy="32.4" r="3.5" fill="#a6b4e0" stroke="#c2ceee" stroke-width="0.5"/>
<circle cx="38.1" cy="32.8" r="3.0" fill="#aab8e2" stroke="#c2ceee" stroke-width="0.5"/>
<circle cx="44.4" cy="31.9" r="3.3" fill="#9cacda" stroke="#c2ceee" stroke-width="0.5"/>
<circle cx="50.4" cy="32.4" r="3.0" fill="#9cacda" stroke="#c2ceee" stroke-width="0.5"/>
<circle cx="56.2" cy="31.9" r="2.9" fill="#aab8e2" stroke="#c2ceee" stroke-width="0.5"/>
<circle cx="61.9" cy="32.1" r="3.0" fill="#9cacda" stroke="#c2ceee" stroke-width="0.5"/>
<circle cx="68.3" cy="31.8" r="3.1" fill="#a2b2de" stroke="#c2ceee" stroke-width="0.5"/>
<circle cx="73.4" cy="31.3" r="3.3" fill="#a2b2de" stroke="#c2ceee" stroke-width="0.5"/>
<circle cx="81.0" cy="30.8" r="3.3" fill="#a2b2de" stroke="#c2ceee" stroke-width="0.5"/>
<circle cx="88.0" cy="32.5" r="2.6" fill="#a2b2de" stroke="#c2ceee" stroke-width="0.5"/>
<circle cx="92.3" cy="32.3" r="3.5" fill="#aab8e2" stroke="#c2ceee" stroke-width="0.5"/>
<circle cx="-0.7" cy="32.3" r="3.5" fill="#aab8e2" stroke="#c2ceee" stroke-width="0.5"/>
<circle cx="4.3" cy="38.3" r="3.0" fill="#aab8e2" stroke="#c2ceee" stroke-width="0.5"/>
<circle cx="9.6" cy="37.6" r="2.7" fill="#aab8e2" stroke="#c2ceee" stroke-width="0.5"/>
<circle cx="14.4" cy="36.8" r="2.9" fill="#a2b2de" stroke="#c2ceee" stroke-width="0.5"/>
<circle cx="21.2" cy="38.0" r="2.7" fill="#a6b4e0" stroke="#c2ceee" stroke-width="0.5"/>
<circle cx="28.8" cy="36.9" r="3.0" fill="#9cacda" stroke="#c2ceee" stroke-width="0.5"/>
<circle cx="34.5" cy="37.8" r="2.9" fill="#9cacda" stroke="#c2ceee" stroke-width="0.5"/>
<circle cx="41.3" cy="36.9" r="2.9" fill="#9cacda" stroke="#c2ceee" stroke-width="0.5"/>
<circle cx="47.5" cy="37.9" r="3.2" fill="#9cacda" stroke="#c2ceee" stroke-width="0.5"/>
<circle cx="51.7" cy="37.1" r="3.3" fill="#9cacda" stroke="#c2ceee" stroke-width="0.5"/>
<circle cx="58.9" cy="36.9" r="2.8" fill="#9cacda" stroke="#c2ceee" stroke-width="0.5"/>
<circle cx="65.0" cy="37.5" r="2.7" fill="#a2b2de" stroke="#c2ceee" stroke-width="0.5"/>
<circle cx="71.7" cy="36.8" r="3.2" fill="#a2b2de" stroke="#c2ceee" stroke-width="0.5"/>
<circle cx="78.4" cy="37.8" r="3.0" fill="#a6b4e0" stroke="#c2ceee" stroke-width="0.5"/>
<circle cx="84.6" cy="37.7" r="2.9" fill="#a2b2de" stroke="#c2ceee" stroke-width="0.5"/>
<circle cx="90.0" cy="37.5" r="3.4" fill="#a6b4e0" stroke="#c2ceee" stroke-width="0.5"/>
<circle cx="-3.0" cy="37.5" r="3.4" fill="#a6b4e0" stroke="#c2ceee" stroke-width="0.5"/>
<circle cx="6.6" cy="42.9" r="2.7" fill="#a6b4e0" stroke="#c2ceee" stroke-width="0.5"/>
<circle cx="13.2" cy="42.7" r="3.2" fill="#9cacda" stroke="#c2ceee" stroke-width="0.5"/>
<circle cx="19.4" cy="43.1" r="3.4" fill="#9cacda" stroke="#c2ceee" stroke-width="0.5"/>
<circle cx="25.5" cy="43.3" r="3.3" fill="#9cacda" stroke="#c2ceee" stroke-width="0.5"/>
<circle cx="31.4" cy="44.3" r="3.0" fill="#9cacda" stroke="#c2ceee" stroke-width="0.5"/>
<circle cx="37.2" cy="43.8" r="3.1" fill="#aab8e2" stroke="#c2ceee" stroke-width="0.5"/>
<circle cx="43.1" cy="42.6" r="2.6" fill="#aab8e2" stroke="#c2ceee" stroke-width="0.5"/>
<circle cx="48.9" cy="43.6" r="3.4" fill="#9cacda" stroke="#c2ceee" stroke-width="0.5"/>
<circle cx="54.6" cy="43.5" r="3.4" fill="#a6b4e0" stroke="#c2ceee" stroke-width="0.5"/>
<circle cx="61.6" cy="43.5" r="2.8" fill="#aab8e2" stroke="#c2ceee" stroke-width="0.5"/>
<circle cx="67.2" cy="44.5" r="3.4" fill="#a6b4e0" stroke="#c2ceee" stroke-width="0.5"/>
<circle cx="73.6" cy="43.0" r="2.8" fill="#aab8e2" stroke="#c2ceee" stroke-width="0.5"/>
<circle cx="81.2" cy="44.0" r="2.6" fill="#a2b2de" stroke="#c2ceee" stroke-width="0.5"/>
<circle cx="86.4" cy="44.2" r="2.9" fill="#a2b2de" stroke="#c2ceee" stroke-width="0.5"/>
<circle cx="0.5" cy="44.0" r="3.0" fill="#aab8e2" stroke="#c2ceee" stroke-width="0.5"/>
<circle cx="93.5" cy="44.0" r="3.0" fill="#aab8e2" stroke="#c2ceee" stroke-width="0.5"/>
<circle cx="2.2" cy="49.8" r="2.9" fill="#aab8e2" stroke="#c2ceee" stroke-width="0.5"/>
<circle cx="95.2" cy="49.8" r="2.9" fill="#aab8e2" stroke="#c2ceee" stroke-width="0.5"/>
<circle cx="9.9" cy="48.6" r="2.8" fill="#a2b2de" stroke="#c2ceee" stroke-width="0.5"/>
<circle cx="15.7" cy="49.8" r="3.2" fill="#9cacda" stroke="#c2ceee" stroke-width="0.5"/>
<circle cx="22.1" cy="48.6" r="2.9" fill="#a2b2de" stroke="#c2ceee" stroke-width="0.5"/>
<circle cx="28.5" cy="49.9" r="2.7" fill="#aab8e2" stroke="#c2ceee" stroke-width="0.5"/>
<circle cx="33.3" cy="48.7" r="2.6" fill="#a6b4e0" stroke="#c2ceee" stroke-width="0.5"/>
<circle cx="40.8" cy="48.9" r="3.0" fill="#a6b4e0" stroke="#c2ceee" stroke-width="0.5"/>
<circle cx="47.2" cy="49.2" r="2.6" fill="#9cacda" stroke="#c2ceee" stroke-width="0.5"/>
<circle cx="53.8" cy="49.9" r="2.8" fill="#a6b4e0" stroke="#c2ceee" stroke-width="0.5"/>
<circle cx="57.9" cy="49.3" r="3.2" fill="#a2b2de" stroke="#c2ceee" stroke-width="0.5"/>
<circle cx="65.1" cy="50.1" r="2.6" fill="#a6b4e0" stroke="#c2ceee" stroke-width="0.5"/>
<circle cx="71.2" cy="49.7" r="3.4" fill="#aab8e2" stroke="#c2ceee" stroke-width="0.5"/>
<circle cx="76.7" cy="49.4" r="3.0" fill="#aab8e2" stroke="#c2ceee" stroke-width="0.5"/>
<circle cx="82.7" cy="49.0" r="2.7" fill="#aab8e2" stroke="#c2ceee" stroke-width="0.5"/>
<circle cx="90.1" cy="50.3" r="2.8" fill="#a2b2de" stroke="#c2ceee" stroke-width="0.5"/>
<circle cx="6.1" cy="54.9" r="3.0" fill="#a6b4e0" stroke="#c2ceee" stroke-width="0.5"/>
<circle cx="12.5" cy="54.3" r="2.6" fill="#9cacda" stroke="#c2ceee" stroke-width="0.5"/>
<circle cx="19.1" cy="56.2" r="3.5" fill="#a2b2de" stroke="#c2ceee" stroke-width="0.5"/>
<circle cx="23.9" cy="55.2" r="3.3" fill="#9cacda" stroke="#c2ceee" stroke-width="0.5"/>
<circle cx="31.8" cy="54.8" r="2.7" fill="#a2b2de" stroke="#c2ceee" stroke-width="0.5"/>
<circle cx="37.1" cy="55.7" r="3.3" fill="#aab8e2" stroke="#c2ceee" stroke-width="0.5"/>
<circle cx="42.9" cy="55.2" r="2.8" fill="#aab8e2" stroke="#c2ceee" stroke-width="0.5"/>
<circle cx="50.3" cy="56.1" r="3.4" fill="#a2b2de" stroke="#c2ceee" stroke-width="0.5"/>
<circle cx="55.6" cy="54.8" r="3.3" fill="#a2b2de" stroke="#c2ceee" stroke-width="0.5"/>
<circle cx="63.0" cy="55.6" r="3.3" fill="#a2b2de" stroke="#c2ceee" stroke-width="0.5"/>
<circle cx="68.1" cy="56.0" r="3.2" fill="#a2b2de" stroke="#c2ceee" stroke-width="0.5"/>
<circle cx="74.9" cy="55.7" r="2.8" fill="#a6b4e0" stroke="#c2ceee" stroke-width="0.5"/>
<circle cx="80.7" cy="54.8" r="2.9" fill="#aab8e2" stroke="#c2ceee" stroke-width="0.5"/>
<circle cx="86.2" cy="55.6" r="2.9" fill="#a2b2de" stroke="#c2ceee" stroke-width="0.5"/>
<circle cx="0.1" cy="55.8" r="2.6" fill="#a2b2de" stroke="#c2ceee" stroke-width="0.5"/>
<circle cx="93.1" cy="55.8" r="2.6" fill="#a2b2de" stroke="#c2ceee" stroke-width="0.5"/>
<circle cx="2.0" cy="60.1" r="2.9" fill="#9cacda" stroke="#c2ceee" stroke-width="0.5"/>
<circle cx="95.0" cy="60.1" r="2.9" fill="#9cacda" stroke="#c2ceee" stroke-width="0.5"/>
<circle cx="10.4" cy="61.3" r="2.8" fill="#a6b4e0" stroke="#c2ceee" stroke-width="0.5"/>
<circle cx="14.6" cy="60.3" r="2.9" fill="#aab8e2" stroke="#c2ceee" stroke-width="0.5"/>
<circle cx="21.9" cy="61.8" r="3.3" fill="#a2b2de" stroke="#c2ceee" stroke-width="0.5"/>
<circle cx="27.3" cy="61.3" r="3.2" fill="#aab8e2" stroke="#c2ceee" stroke-width="0.5"/>
<circle cx="34.0" cy="62.1" r="3.3" fill="#a2b2de" stroke="#c2ceee" stroke-width="0.5"/>
<circle cx="39.9" cy="60.9" r="2.8" fill="#a6b4e0" stroke="#c2ceee" stroke-width="0.5"/>
<circle cx="45.7" cy="59.9" r="3.2" fill="#aab8e2" stroke="#c2ceee" stroke-width="0.5"/>
<circle cx="52.8" cy="62.2" r="3.1" fill="#a2b2de" stroke="#c2ceee" stroke-width="0.5"/>
<circle cx="58.0" cy="61.9" r="3.2" fill="#aab8e2" stroke="#c2ceee" stroke-width="0.5"/>
<circle cx="66.2" cy="59.9" r="3.1" fill="#a6b4e0" stroke="#c2ceee" stroke-width="0.5"/>
<circle cx="71.8" cy="60.7" r="3.0" fill="#aab8e2" stroke="#c2ceee" stroke-width="0.5"/>
<circle cx="77.0" cy="60.3" r="3.1" fill="#9cacda" stroke="#c2ceee" stroke-width="0.5"/>
<circle cx="84.3" cy="61.7" r="2.9" fill="#aab8e2" stroke="#c2ceee" stroke-width="0.5"/>
<circle cx="90.7" cy="61.4" r="3.4" fill="#a2b2de" stroke="#c2ceee" stroke-width="0.5"/>
<circle cx="-2.3" cy="61.4" r="3.4" fill="#a2b2de" stroke="#c2ceee" stroke-width="0.5"/>
<circle cx="6.5" cy="66.6" r="2.7" fill="#aab8e2" stroke="#c2ceee" stroke-width="0.5"/>
<circle cx="12.4" cy="65.7" r="2.8" fill="#a2b2de" stroke="#c2ceee" stroke-width="0.5"/>
<circle cx="19.2" cy="66.3" r="3.4" fill="#9cacda" stroke="#c2ceee" stroke-width="0.5"/>
<circle cx="24.7" cy="66.8" r="3.1" fill="#a2b2de" stroke="#c2ceee" stroke-width="0.5"/>
<circle cx="31.7" cy="66.5" r="2.6" fill="#aab8e2" stroke="#c2ceee" stroke-width="0.5"/>
<circle cx="38.0" cy="65.7" r="3.2" fill="#9cacda" stroke="#c2ceee" stroke-width="0.5"/>
<circle cx="43.4" cy="66.8" r="3.1" fill="#a6b4e0" stroke="#c2ceee" stroke-width="0.5"/>
<circle cx="49.5" cy="67.5" r="3.1" fill="#a2b2de" stroke="#c2ceee" stroke-width="0.5"/>
<circle cx="55.9" cy="67.6" r="2.9" fill="#a2b2de" stroke="#c2ceee" stroke-width="0.5"/>
<circle cx="62.4" cy="66.9" r="2.9" fill="#a2b2de" stroke="#c2ceee" stroke-width="0.5"/>
<circle cx="67.1" cy="67.5" r="3.1" fill="#a6b4e0" stroke="#c2ceee" stroke-width="0.5"/>
<circle cx="73.9" cy="67.9" r="2.8" fill="#aab8e2" stroke="#c2ceee" stroke-width="0.5"/>
<circle cx="79.6" cy="67.5" r="3.2" fill="#9cacda" stroke="#c2ceee" stroke-width="0.5"/>
<circle cx="87.8" cy="67.3" r="3.4" fill="#aab8e2" stroke="#c2ceee" stroke-width="0.5"/>
<circle cx="93.0" cy="65.9" r="2.7" fill="#9cacda" stroke="#c2ceee" stroke-width="0.5"/>
<circle cx="-0.0" cy="65.9" r="2.7" fill="#9cacda" stroke="#c2ceee" stroke-width="0.5"/>
<circle cx="4.2" cy="72.8" r="3.0" fill="#a2b2de" stroke="#c2ceee" stroke-width="0.5"/>
<circle cx="9.7" cy="72.4" r="3.3" fill="#aab8e2" stroke="#c2ceee" stroke-width="0.5"/>
<circle cx="16.5" cy="72.9" r="2.9" fill="#a2b2de" stroke="#c2ceee" stroke-width="0.5"/>
<circle cx="22.5" cy="73.6" r="3.2" fill="#9cacda" stroke="#c2ceee" stroke-width="0.5"/>
<circle cx="27.3" cy="71.7" r="2.9" fill="#9cacda" stroke="#c2ceee" stroke-width="0.5"/>
<circle cx="34.8" cy="71.6" r="3.5" fill="#a2b2de" stroke="#c2ceee" stroke-width="0.5"/>
<circle cx="40.6" cy="73.3" r="2.8" fill="#a2b2de" stroke="#c2ceee" stroke-width="0.5"/>
<circle cx="46.7" cy="73.0" r="3.2" fill="#a6b4e0" stroke="#c2ceee" stroke-width="0.5"/>
<circle cx="52.5" cy="72.5" r="3.1" fill="#aab8e2" stroke="#c2ceee" stroke-width="0.5"/>
<circle cx="58.4" cy="72.1" r="3.1" fill="#9cacda" stroke="#c2ceee" stroke-width="0.5"/>
<circle cx="64.3" cy="71.5" r="2.7" fill="#aab8e2" stroke="#c2ceee" stroke-width="0.5"/>
<circle cx="71.1" cy="72.2" r="2.7" fill="#9cacda" stroke="#c2ceee" stroke-width="0.5"/>
<circle cx="78.0" cy="71.6" r="3.0" fill="#a2b2de" stroke="#c2ceee" stroke-width="0.5"/>
<circle cx="83.3" cy="73.5" r="3.2" fill="#aab8e2" stroke="#c2ceee" stroke-width="0.5"/>
<circle cx="90.8" cy="72.9" r="3.3" fill="#a2b2de" stroke="#c2ceee" stroke-width="0.5"/>
<circle cx="-2.2" cy="72.9" r="3.3" fill="#a2b2de" stroke="#c2ceee" stroke-width="0.5"/>
<circle cx="5.0" cy="78.9" r="2.7" fill="#9cacda" stroke="#c2ceee" stroke-width="0.5"/>
<circle cx="11.6" cy="78.7" r="2.7" fill="#a6b4e0" stroke="#c2ceee" stroke-width="0.5"/>
<circle cx="19.2" cy="79.2" r="3.3" fill="#a2b2de" stroke="#c2ceee" stroke-width="0.5"/>
<circle cx="24.5" cy="79.2" r="2.8" fill="#9cacda" stroke="#c2ceee" stroke-width="0.5"/>
<circle cx="30.7" cy="78.4" r="3.2" fill="#a2b2de" stroke="#c2ceee" stroke-width="0.5"/>
<circle cx="36.6" cy="79.5" r="3.0" fill="#a2b2de" stroke="#c2ceee" stroke-width="0.5"/>
<circle cx="42.5" cy="78.7" r="2.9" fill="#a2b2de" stroke="#c2ceee" stroke-width="0.5"/>
<circle cx="49.6" cy="79.6" r="3.5" fill="#a2b2de" stroke="#c2ceee" stroke-width="0.5"/>
<circle cx="55.8" cy="79.5" r="3.2" fill="#a2b2de" stroke="#c2ceee" stroke-width="0.5"/>
<circle cx="61.1" cy="78.4" r="2.9" fill="#aab8e2" stroke="#c2ceee" stroke-width="0.5"/>
<circle cx="69.2" cy="78.2" r="2.9" fill="#a6b4e0" stroke="#c2ceee" stroke-width="0.5"/>
<circle cx="74.7" cy="79.1" r="2.7" fill="#a2b2de" stroke="#c2ceee" stroke-width="0.5"/>
<circle cx="80.1" cy="78.1" r="3.4" fill="#a6b4e0" stroke="#c2ceee" stroke-width="0.5"/>
<circle cx="85.7" cy="78.3" r="2.8" fill="#a2b2de" stroke="#c2ceee" stroke-width="0.5"/>
<circle cx="92.2" cy="79.6" r="3.1" fill="#a6b4e0" stroke="#c2ceee" stroke-width="0.5"/>
<circle cx="-0.8" cy="79.6" r="3.1" fill="#a6b4e0" stroke="#c2ceee" stroke-width="0.5"/>
<circle cx="4.3" cy="84.4" r="2.9" fill="#aab8e2" stroke="#c2ceee" stroke-width="0.5"/>
<circle cx="8.3" cy="83.9" r="3.3" fill="#a2b2de" stroke="#c2ceee" stroke-width="0.5"/>
<circle cx="16.3" cy="83.4" r="3.3" fill="#a2b2de" stroke="#c2ceee" stroke-width="0.5"/>
<circle cx="21.1" cy="84.2" r="2.9" fill="#a2b2de" stroke="#c2ceee" stroke-width="0.5"/>
<circle cx="26.8" cy="83.6" r="3.5" fill="#a6b4e0" stroke="#c2ceee" stroke-width="0.5"/>
<circle cx="32.9" cy="84.3" r="3.5" fill="#a6b4e0" stroke="#c2ceee" stroke-width="0.5"/>
<circle cx="40.3" cy="83.2" r="3.0" fill="#a6b4e0" stroke="#c2ceee" stroke-width="0.5"/>
<circle cx="47.4" cy="85.3" r="3.2" fill="#a2b2de" stroke="#c2ceee" stroke-width="0.5"/>
<circle cx="52.0" cy="84.1" r="3.3" fill="#a6b4e0" stroke="#c2ceee" stroke-width="0.5"/>
<circle cx="59.9" cy="84.0" r="3.5" fill="#aab8e2" stroke="#c2ceee" stroke-width="0.5"/>
<circle cx="66.0" cy="83.4" r="3.3" fill="#a6b4e0" stroke="#c2ceee" stroke-width="0.5"/>
<circle cx="72.1" cy="83.3" r="2.9" fill="#a6b4e0" stroke="#c2ceee" stroke-width="0.5"/>
<circle cx="77.3" cy="83.7" r="3.0" fill="#9cacda" stroke="#c2ceee" stroke-width="0.5"/>
<circle cx="82.5" cy="84.6" r="3.3" fill="#a6b4e0" stroke="#c2ceee" stroke-width="0.5"/>
<circle cx="88.9" cy="84.7" r="2.6" fill="#a6b4e0" stroke="#c2ceee" stroke-width="0.5"/>
<circle cx="7.1" cy="89.4" r="2.6" fill="#a6b4e0" stroke="#c2ceee" stroke-width="0.5"/>
<circle cx="13.5" cy="90.3" r="2.7" fill="#aab8e2" stroke="#c2ceee" stroke-width="0.5"/>
<circle cx="13.5" cy="-2.7" r="2.7" fill="#aab8e2" stroke="#c2ceee" stroke-width="0.5"/>
<circle cx="17.6" cy="89.8" r="3.2" fill="#a2b2de" stroke="#c2ceee" stroke-width="0.5"/>
<circle cx="24.0" cy="89.9" r="2.8" fill="#9cacda" stroke="#c2ceee" stroke-width="0.5"/>
<circle cx="30.6" cy="89.4" r="2.9" fill="#a2b2de" stroke="#c2ceee" stroke-width="0.5"/>
<circle cx="36.7" cy="89.1" r="3.0" fill="#9cacda" stroke="#c2ceee" stroke-width="0.5"/>
<circle cx="43.1" cy="90.0" r="3.1" fill="#aab8e2" stroke="#c2ceee" stroke-width="0.5"/>
<circle cx="43.1" cy="-3.0" r="3.1" fill="#aab8e2" stroke="#c2ceee" stroke-width="0.5"/>
<circle cx="50.7" cy="89.2" r="2.6" fill="#a2b2de" stroke="#c2ceee" stroke-width="0.5"/>
<circle cx="56.4" cy="89.2" r="3.0" fill="#a2b2de" stroke="#c2ceee" stroke-width="0.5"/>
<circle cx="60.8" cy="90.7" r="3.0" fill="#aab8e2" stroke="#c2ceee" stroke-width="0.5"/>
<circle cx="60.8" cy="-2.3" r="3.0" fill="#aab8e2" stroke="#c2ceee" stroke-width="0.5"/>
<circle cx="68.9" cy="89.0" r="3.1" fill="#a2b2de" stroke="#c2ceee" stroke-width="0.5"/>
<circle cx="74.9" cy="91.0" r="3.3" fill="#9cacda" stroke="#c2ceee" stroke-width="0.5"/>
<circle cx="74.9" cy="-2.0" r="3.3" fill="#9cacda" stroke="#c2ceee" stroke-width="0.5"/>
<circle cx="80.5" cy="89.1" r="2.7" fill="#9cacda" stroke="#c2ceee" stroke-width="0.5"/>
<circle cx="87.0" cy="89.6" r="3.1" fill="#a6b4e0" stroke="#c2ceee" stroke-width="0.5"/>
<circle cx="1.2" cy="89.6" r="2.7" fill="#a2b2de" stroke="#c2ceee" stroke-width="0.5"/>
<circle cx="94.2" cy="89.6" r="2.7" fill="#a2b2de" stroke="#c2ceee" stroke-width="0.5"/>
</pattern></defs>
<rect x="577.6" y="1267.4" width="268.4" height="223.4" fill="url(#he1)"/>
<rect x="857.4" y="1267.4" width="267.8" height="223.4" fill="url(#ih1)"/>
<rect x="1137.0" y="1267.4" width="267.8" height="223.4" fill="url(#ih1)"/>
<rect x="577.6" y="1501.0" width="268.4" height="224.0" fill="url(#he2)"/>
<rect x="857.4" y="1501.0" width="267.8" height="224.0" fill="url(#ih2)"/>
<rect x="1137.0" y="1501.0" width="267.8" height="224.0" fill="url(#ih3)"/>
<g opacity="1.0"><circle cx="699.0" cy="1392.5" r="2.7" fill="#3c2ea4"/><circle cx="698.9" cy="1458.4" r="2.0" fill="#3c2ea4"/><circle cx="746.7" cy="1444.6" r="1.9" fill="#3c2ea4"/><circle cx="615.7" cy="1387.7" r="2.7" fill="#4a3cb0"/><circle cx="737.4" cy="1355.9" r="2.3" fill="#4a3cb0"/><circle cx="744.8" cy="1453.2" r="1.9" fill="#4a3cb0"/><circle cx="628.7" cy="1321.5" r="1.8" fill="#3c2ea4"/><circle cx="665.2" cy="1399.4" r="2.0" fill="#4a3cb0"/><circle cx="749.5" cy="1379.0" r="2.5" fill="#3c2ea4"/><circle cx="753.3" cy="1358.3" r="2.4" fill="#4a3cb0"/><circle cx="767.6" cy="1337.8" r="2.0" fill="#3c2ea4"/><circle cx="585.6" cy="1393.2" r="1.9" fill="#4a3cb0"/><circle cx="804.8" cy="1353.7" r="2.8" fill="#4a3cb0"/><circle cx="634.9" cy="1474.5" r="1.9" fill="#3c2ea4"/><circle cx="840.7" cy="1356.2" r="1.9" fill="#4a3cb0"/><circle cx="786.6" cy="1327.7" r="1.9" fill="#3c2ea4"/><circle cx="581.7" cy="1359.0" r="2.7" fill="#4a3cb0"/><circle cx="643.7" cy="1290.0" r="1.9" fill="#3c2ea4"/><circle cx="625.3" cy="1392.3" r="2.2" fill="#4a3cb0"/><circle cx="842.0" cy="1439.3" r="2.2" fill="#3c2ea4"/><circle cx="608.9" cy="1361.4" r="2.0" fill="#3c2ea4"/><circle cx="809.6" cy="1485.2" r="2.4" fill="#4a3cb0"/><circle cx="634.2" cy="1355.5" r="2.7" fill="#4a3cb0"/><circle cx="588.9" cy="1300.1" r="2.2" fill="#4a3cb0"/><circle cx="785.0" cy="1340.9" r="2.1" fill="#4a3cb0"/><circle cx="597.5" cy="1314.0" r="2.4" fill="#4a3cb0"/><circle cx="739.0" cy="1350.4" r="2.3" fill="#3c2ea4"/><circle cx="801.0" cy="1297.7" r="2.2" fill="#4a3cb0"/><circle cx="661.0" cy="1318.4" r="2.4" fill="#4a3cb0"/><circle cx="620.1" cy="1407.9" r="2.4" fill="#3c2ea4"/><circle cx="814.4" cy="1402.2" r="2.2" fill="#4a3cb0"/><circle cx="606.9" cy="1381.9" r="2.1" fill="#3c2ea4"/><circle cx="646.6" cy="1451.4" r="2.4" fill="#3c2ea4"/><circle cx="717.2" cy="1475.0" r="2.8" fill="#4a3cb0"/><circle cx="638.9" cy="1392.4" r="2.7" fill="#4a3cb0"/><circle cx="652.8" cy="1472.3" r="2.0" fill="#4a3cb0"/><circle cx="596.2" cy="1359.3" r="2.0" fill="#4a3cb0"/><circle cx="624.9" cy="1349.8" r="2.4" fill="#4a3cb0"/><circle cx="602.3" cy="1298.3" r="2.3" fill="#3c2ea4"/><circle cx="753.9" cy="1421.8" r="2.4" fill="#4a3cb0"/></g>
<g opacity="0.8"><circle cx="705.0" cy="1414.3" r="3.3" fill="#e6d0f0"/><circle cx="707.1" cy="1411.1" r="2.9" fill="#e6d0f0"/><circle cx="727.4" cy="1415.1" r="2.3" fill="#f0e4f6"/><circle cx="676.3" cy="1343.3" r="2.4" fill="#e6d0f0"/><circle cx="597.6" cy="1420.9" r="2.7" fill="#f0e4f6"/><circle cx="791.7" cy="1286.9" r="3.8" fill="#e6d0f0"/><circle cx="602.0" cy="1487.9" r="3.9" fill="#e6d0f0"/><circle cx="755.0" cy="1484.4" r="3.1" fill="#e6d0f0"/><circle cx="839.6" cy="1465.2" r="3.1" fill="#e6d0f0"/><circle cx="685.1" cy="1361.0" r="3.2" fill="#f0e4f6"/><circle cx="741.1" cy="1388.3" r="3.3" fill="#e6d0f0"/><circle cx="837.3" cy="1485.5" r="3.3" fill="#f0e4f6"/><circle cx="830.2" cy="1460.9" r="2.8" fill="#f0e4f6"/><circle cx="608.2" cy="1319.9" r="2.7" fill="#e6d0f0"/><circle cx="585.2" cy="1451.2" r="2.9" fill="#e6d0f0"/><circle cx="637.2" cy="1362.8" r="2.8" fill="#e6d0f0"/><circle cx="779.8" cy="1316.7" r="2.2" fill="#f0e4f6"/><circle cx="587.5" cy="1329.2" r="2.7" fill="#e6d0f0"/><circle cx="715.6" cy="1349.7" r="2.7" fill="#f0e4f6"/><circle cx="705.4" cy="1481.6" r="3.0" fill="#e6d0f0"/><circle cx="702.3" cy="1390.0" r="2.4" fill="#e6d0f0"/><circle cx="649.6" cy="1439.6" r="2.7" fill="#e6d0f0"/><circle cx="791.0" cy="1379.4" r="2.5" fill="#e6d0f0"/></g>
<g opacity="1.0"><circle cx="647.1" cy="1654.5" r="2.8" fill="#3a2aa8"/><circle cx="752.6" cy="1650.2" r="3.0" fill="#2e1e9c"/><circle cx="774.6" cy="1530.2" r="2.6" fill="#3a2aa8"/><circle cx="777.5" cy="1507.7" r="2.2" fill="#2e1e9c"/><circle cx="740.9" cy="1504.2" r="2.3" fill="#3a2aa8"/><circle cx="600.4" cy="1678.9" r="3.1" fill="#4434b0"/><circle cx="799.4" cy="1667.8" r="3.1" fill="#4434b0"/><circle cx="673.1" cy="1553.4" r="3.1" fill="#2e1e9c"/><circle cx="729.0" cy="1597.2" r="2.4" fill="#4434b0"/><circle cx="749.0" cy="1647.8" r="2.4" fill="#2e1e9c"/><circle cx="791.9" cy="1721.8" r="2.8" fill="#2e1e9c"/><circle cx="741.6" cy="1722.1" r="2.5" fill="#2e1e9c"/><circle cx="696.6" cy="1540.6" r="2.2" fill="#2e1e9c"/><circle cx="673.2" cy="1584.1" r="2.3" fill="#4434b0"/><circle cx="683.8" cy="1530.3" r="2.6" fill="#3a2aa8"/><circle cx="729.3" cy="1699.6" r="2.8" fill="#3a2aa8"/><circle cx="597.3" cy="1646.9" r="3.1" fill="#4434b0"/><circle cx="810.4" cy="1551.4" r="2.6" fill="#2e1e9c"/><circle cx="802.6" cy="1644.1" r="2.2" fill="#4434b0"/><circle cx="775.2" cy="1557.3" r="2.9" fill="#4434b0"/><circle cx="632.1" cy="1692.2" r="2.4" fill="#2e1e9c"/><circle cx="753.9" cy="1702.9" r="2.8" fill="#3a2aa8"/><circle cx="771.6" cy="1548.4" r="2.7" fill="#2e1e9c"/><circle cx="766.0" cy="1509.7" r="2.7" fill="#2e1e9c"/><circle cx="669.2" cy="1567.2" r="2.2" fill="#2e1e9c"/><circle cx="726.6" cy="1702.7" r="2.2" fill="#4434b0"/><circle cx="750.3" cy="1625.6" r="2.7" fill="#3a2aa8"/><circle cx="838.2" cy="1685.9" r="2.8" fill="#2e1e9c"/><circle cx="610.2" cy="1568.5" r="2.3" fill="#2e1e9c"/><circle cx="765.2" cy="1711.2" r="2.6" fill="#3a2aa8"/><circle cx="710.9" cy="1718.2" r="2.6" fill="#4434b0"/><circle cx="637.5" cy="1547.4" r="3.0" fill="#4434b0"/><circle cx="712.2" cy="1704.9" r="2.9" fill="#4434b0"/><circle cx="691.8" cy="1685.6" r="2.3" fill="#4434b0"/><circle cx="735.4" cy="1580.6" r="2.3" fill="#4434b0"/><circle cx="692.4" cy="1644.5" r="2.5" fill="#4434b0"/><circle cx="684.3" cy="1520.4" r="2.9" fill="#2e1e9c"/><circle cx="824.9" cy="1647.3" r="2.4" fill="#4434b0"/><circle cx="706.6" cy="1625.2" r="2.4" fill="#4434b0"/><circle cx="719.3" cy="1714.1" r="2.2" fill="#3a2aa8"/><circle cx="607.6" cy="1685.5" r="2.3" fill="#4434b0"/><circle cx="739.5" cy="1566.2" r="2.4" fill="#3a2aa8"/><circle cx="674.5" cy="1600.0" r="3.1" fill="#4434b0"/><circle cx="589.3" cy="1620.9" r="2.2" fill="#3a2aa8"/><circle cx="664.2" cy="1701.0" r="2.7" fill="#3a2aa8"/><circle cx="819.8" cy="1701.4" r="3.1" fill="#2e1e9c"/><circle cx="617.8" cy="1608.3" r="2.4" fill="#4434b0"/><circle cx="648.5" cy="1685.0" r="2.1" fill="#3a2aa8"/><circle cx="756.5" cy="1710.5" r="2.6" fill="#4434b0"/><circle cx="630.0" cy="1589.1" r="2.1" fill="#2e1e9c"/><circle cx="818.5" cy="1526.8" r="2.2" fill="#2e1e9c"/><circle cx="781.6" cy="1584.0" r="2.5" fill="#3a2aa8"/><circle cx="835.8" cy="1567.7" r="2.1" fill="#3a2aa8"/><circle cx="827.7" cy="1538.4" r="2.0" fill="#2e1e9c"/><circle cx="769.8" cy="1695.1" r="3.2" fill="#2e1e9c"/><circle cx="691.5" cy="1640.4" r="3.0" fill="#2e1e9c"/><circle cx="765.7" cy="1706.7" r="2.0" fill="#3a2aa8"/><circle cx="704.1" cy="1561.0" r="2.9" fill="#4434b0"/><circle cx="658.4" cy="1618.9" r="2.6" fill="#4434b0"/><circle cx="666.7" cy="1710.9" r="2.3" fill="#4434b0"/><circle cx="782.1" cy="1609.4" r="2.3" fill="#4434b0"/><circle cx="732.8" cy="1715.6" r="2.6" fill="#4434b0"/><circle cx="769.3" cy="1687.2" r="2.0" fill="#3a2aa8"/><circle cx="707.0" cy="1613.2" r="2.2" fill="#3a2aa8"/><circle cx="735.7" cy="1569.8" r="3.1" fill="#4434b0"/><circle cx="730.9" cy="1663.3" r="2.1" fill="#2e1e9c"/><circle cx="777.7" cy="1646.4" r="2.5" fill="#2e1e9c"/><circle cx="583.5" cy="1694.1" r="2.2" fill="#2e1e9c"/><circle cx="618.9" cy="1513.0" r="2.6" fill="#4434b0"/><circle cx="638.2" cy="1505.8" r="2.1" fill="#4434b0"/><circle cx="719.9" cy="1503.1" r="2.5" fill="#4434b0"/><circle cx="752.9" cy="1637.2" r="2.6" fill="#4434b0"/><circle cx="640.8" cy="1615.2" r="2.0" fill="#4434b0"/><circle cx="823.0" cy="1709.7" r="3.0" fill="#3a2aa8"/><circle cx="760.5" cy="1662.5" r="2.8" fill="#2e1e9c"/><circle cx="602.5" cy="1660.7" r="2.2" fill="#3a2aa8"/><circle cx="737.7" cy="1513.6" r="2.8" fill="#2e1e9c"/><circle cx="775.0" cy="1506.8" r="2.6" fill="#4434b0"/><circle cx="679.9" cy="1683.5" r="2.6" fill="#2e1e9c"/><circle cx="715.4" cy="1516.1" r="3.0" fill="#2e1e9c"/><circle cx="833.2" cy="1576.8" r="2.8" fill="#3a2aa8"/><circle cx="761.1" cy="1585.1" r="2.1" fill="#4434b0"/><circle cx="827.7" cy="1568.2" r="3.1" fill="#3a2aa8"/><circle cx="842.3" cy="1601.3" r="2.5" fill="#2e1e9c"/><circle cx="817.7" cy="1514.7" r="2.3" fill="#3a2aa8"/><circle cx="616.7" cy="1573.7" r="2.4" fill="#2e1e9c"/><circle cx="633.4" cy="1710.1" r="2.4" fill="#3a2aa8"/><circle cx="746.4" cy="1697.3" r="2.9" fill="#2e1e9c"/><circle cx="612.1" cy="1516.0" r="2.5" fill="#3a2aa8"/><circle cx="620.5" cy="1542.5" r="2.1" fill="#4434b0"/><circle cx="729.4" cy="1698.9" r="2.8" fill="#2e1e9c"/><circle cx="687.5" cy="1519.1" r="2.6" fill="#2e1e9c"/><circle cx="619.2" cy="1513.1" r="2.7" fill="#2e1e9c"/><circle cx="797.8" cy="1675.4" r="2.9" fill="#3a2aa8"/><circle cx="767.1" cy="1596.5" r="2.5" fill="#3a2aa8"/><circle cx="648.0" cy="1681.5" r="2.9" fill="#4434b0"/><circle cx="821.0" cy="1563.8" r="2.9" fill="#3a2aa8"/><circle cx="802.9" cy="1519.9" r="2.1" fill="#3a2aa8"/><circle cx="836.7" cy="1558.0" r="3.0" fill="#3a2aa8"/><circle cx="745.2" cy="1523.4" r="2.6" fill="#2e1e9c"/><circle cx="605.6" cy="1658.8" r="2.7" fill="#4434b0"/><circle cx="614.3" cy="1608.0" r="2.6" fill="#4434b0"/><circle cx="611.1" cy="1660.6" r="2.6" fill="#2e1e9c"/><circle cx="604.7" cy="1679.7" r="3.0" fill="#4434b0"/><circle cx="581.7" cy="1707.2" r="2.8" fill="#2e1e9c"/><circle cx="717.3" cy="1555.6" r="2.2" fill="#4434b0"/><circle cx="582.8" cy="1582.2" r="2.9" fill="#2e1e9c"/><circle cx="629.4" cy="1534.1" r="2.2" fill="#3a2aa8"/><circle cx="746.7" cy="1712.3" r="3.0" fill="#2e1e9c"/><circle cx="693.6" cy="1528.6" r="2.5" fill="#3a2aa8"/><circle cx="797.0" cy="1639.8" r="2.5" fill="#3a2aa8"/><circle cx="684.5" cy="1589.2" r="3.1" fill="#4434b0"/><circle cx="654.8" cy="1625.4" r="2.5" fill="#2e1e9c"/><circle cx="779.2" cy="1512.0" r="2.6" fill="#3a2aa8"/><circle cx="721.6" cy="1669.1" r="2.9" fill="#2e1e9c"/><circle cx="616.0" cy="1675.5" r="2.1" fill="#2e1e9c"/><circle cx="628.2" cy="1555.0" r="2.5" fill="#4434b0"/><circle cx="650.9" cy="1596.1" r="2.9" fill="#3a2aa8"/><circle cx="776.3" cy="1603.8" r="3.0" fill="#3a2aa8"/><circle cx="695.6" cy="1547.2" r="2.9" fill="#4434b0"/><circle cx="592.9" cy="1591.2" r="3.0" fill="#2e1e9c"/><circle cx="628.9" cy="1697.9" r="2.2" fill="#3a2aa8"/><circle cx="765.3" cy="1601.0" r="2.9" fill="#2e1e9c"/><circle cx="683.1" cy="1706.2" r="2.6" fill="#4434b0"/><circle cx="600.7" cy="1718.1" r="2.7" fill="#4434b0"/><circle cx="599.4" cy="1620.8" r="2.8" fill="#3a2aa8"/><circle cx="593.7" cy="1679.7" r="2.8" fill="#3a2aa8"/><circle cx="771.8" cy="1507.1" r="2.8" fill="#2e1e9c"/><circle cx="811.3" cy="1605.3" r="2.0" fill="#3a2aa8"/><circle cx="631.9" cy="1664.7" r="2.6" fill="#3a2aa8"/><circle cx="617.2" cy="1678.8" r="2.9" fill="#3a2aa8"/><circle cx="625.3" cy="1515.9" r="2.2" fill="#4434b0"/><circle cx="835.6" cy="1650.2" r="2.6" fill="#2e1e9c"/><circle cx="770.1" cy="1516.2" r="2.9" fill="#3a2aa8"/></g>
<path d="M587.6 1641.0Q637.6 1621.0 687.6 1651.0M697.6 1706.0Q747.6 1671.0 797.6 1631.0M767.6 1541.0L752.6 1586.0" stroke="#e0b8e0" stroke-width="5" fill="none" opacity="0.7"/>
<g opacity="0.85"><circle cx="606.3" cy="1658.4" r="3.3" fill="#f0e0f4"/><circle cx="650.4" cy="1558.3" r="3.5" fill="#e4d4f0"/><circle cx="658.9" cy="1654.3" r="2.8" fill="#f0e0f4"/><circle cx="648.3" cy="1696.1" r="2.6" fill="#e4d4f0"/><circle cx="674.4" cy="1642.7" r="3.0" fill="#f0e0f4"/><circle cx="725.6" cy="1649.7" r="2.3" fill="#f0e0f4"/><circle cx="610.6" cy="1576.5" r="2.2" fill="#f0e0f4"/><circle cx="806.8" cy="1586.5" r="3.2" fill="#e4d4f0"/><circle cx="818.2" cy="1522.1" r="3.3" fill="#f0e0f4"/><circle cx="732.9" cy="1643.8" r="2.7" fill="#f0e0f4"/><circle cx="778.1" cy="1610.0" r="3.3" fill="#e4d4f0"/><circle cx="699.1" cy="1549.9" r="3.6" fill="#e4d4f0"/><circle cx="605.1" cy="1684.3" r="2.2" fill="#e4d4f0"/><circle cx="609.3" cy="1537.2" r="2.8" fill="#f0e0f4"/><circle cx="691.7" cy="1719.1" r="2.3" fill="#e4d4f0"/><circle cx="699.8" cy="1609.6" r="2.9" fill="#f0e0f4"/><circle cx="646.4" cy="1589.3" r="2.9" fill="#e4d4f0"/><circle cx="595.4" cy="1533.1" r="3.4" fill="#e4d4f0"/><circle cx="582.7" cy="1658.9" r="3.9" fill="#e4d4f0"/><circle cx="583.2" cy="1660.0" r="2.7" fill="#e4d4f0"/><circle cx="648.3" cy="1568.7" r="2.4" fill="#e4d4f0"/><circle cx="791.7" cy="1522.4" r="2.2" fill="#f0e0f4"/><circle cx="661.5" cy="1721.2" r="3.2" fill="#e4d4f0"/><circle cx="717.6" cy="1681.2" r="4.0" fill="#f0e0f4"/><circle cx="587.0" cy="1533.7" r="2.4" fill="#f0e0f4"/><circle cx="644.8" cy="1613.1" r="2.4" fill="#f0e0f4"/><circle cx="739.7" cy="1706.4" r="2.6" fill="#e4d4f0"/><circle cx="586.1" cy="1707.4" r="3.5" fill="#f0e0f4"/><circle cx="714.0" cy="1689.5" r="2.7" fill="#e4d4f0"/><circle cx="643.3" cy="1587.9" r="3.1" fill="#e4d4f0"/><circle cx="708.6" cy="1714.3" r="2.1" fill="#e4d4f0"/><circle cx="703.5" cy="1577.0" r="2.5" fill="#f0e0f4"/><circle cx="612.5" cy="1513.2" r="3.9" fill="#f0e0f4"/><circle cx="647.0" cy="1601.2" r="3.1" fill="#e4d4f0"/><circle cx="591.2" cy="1524.8" r="3.4" fill="#e4d4f0"/><circle cx="690.0" cy="1600.6" r="2.2" fill="#f0e0f4"/><circle cx="616.9" cy="1650.6" r="2.4" fill="#e4d4f0"/><circle cx="798.6" cy="1658.5" r="3.2" fill="#e4d4f0"/><circle cx="649.0" cy="1606.2" r="3.9" fill="#e4d4f0"/></g>
<g opacity="0.7"><circle cx="901.6" cy="1421.5" r="3.2" fill="#a69a90"/><circle cx="1083.2" cy="1488.5" r="3.1" fill="#a89e9a"/><circle cx="992.7" cy="1320.1" r="2.6" fill="#b4aaa4"/><circle cx="1107.2" cy="1363.1" r="2.7" fill="#a89e9a"/><circle cx="1104.2" cy="1422.4" r="3.0" fill="#a69a90"/><circle cx="1022.3" cy="1275.0" r="2.9" fill="#a69a90"/><circle cx="1043.2" cy="1412.3" r="3.5" fill="#b0a6a0"/><circle cx="898.9" cy="1450.0" r="2.7" fill="#b0a6a0"/><circle cx="978.7" cy="1390.7" r="2.9" fill="#a69a90"/><circle cx="897.9" cy="1416.0" r="3.1" fill="#a89e9a"/><circle cx="877.4" cy="1311.5" r="3.3" fill="#b0a6a0"/><circle cx="890.2" cy="1373.8" r="3.4" fill="#a89e9a"/><circle cx="948.8" cy="1300.1" r="3.1" fill="#b4aaa4"/><circle cx="955.2" cy="1368.2" r="3.0" fill="#a69a90"/><circle cx="960.9" cy="1273.4" r="2.7" fill="#a69a90"/><circle cx="1017.9" cy="1384.1" r="3.2" fill="#b4aaa4"/><circle cx="1006.4" cy="1406.5" r="2.8" fill="#a89e9a"/><circle cx="1025.2" cy="1453.6" r="2.9" fill="#b4aaa4"/><circle cx="923.2" cy="1305.1" r="3.5" fill="#a89e9a"/><circle cx="1065.5" cy="1351.1" r="3.3" fill="#a89e9a"/><circle cx="966.4" cy="1488.4" r="3.6" fill="#b0a6a0"/><circle cx="1093.9" cy="1377.1" r="3.0" fill="#a89e9a"/><circle cx="1108.1" cy="1322.3" r="3.2" fill="#a69a90"/><circle cx="1073.1" cy="1440.3" r="3.1" fill="#b4aaa4"/><circle cx="871.4" cy="1325.0" r="2.9" fill="#a69a90"/><circle cx="924.0" cy="1355.5" r="3.5" fill="#a89e9a"/><circle cx="1120.8" cy="1434.0" r="3.1" fill="#b4aaa4"/><circle cx="894.8" cy="1412.7" r="3.5" fill="#a69a90"/><circle cx="865.0" cy="1314.8" r="3.4" fill="#a89e9a"/><circle cx="1093.5" cy="1401.7" r="3.0" fill="#a69a90"/><circle cx="939.9" cy="1386.8" r="2.9" fill="#b0a6a0"/><circle cx="959.8" cy="1295.5" r="3.3" fill="#b4aaa4"/><circle cx="1016.4" cy="1411.2" r="3.5" fill="#a69a90"/><circle cx="926.3" cy="1358.0" r="3.6" fill="#a89e9a"/><circle cx="893.2" cy="1288.6" r="2.7" fill="#b0a6a0"/><circle cx="1029.3" cy="1443.0" r="2.7" fill="#b0a6a0"/><circle cx="1032.9" cy="1295.7" r="3.1" fill="#b4aaa4"/><circle cx="963.5" cy="1465.8" r="3.2" fill="#a89e9a"/><circle cx="906.7" cy="1351.8" r="3.3" fill="#b0a6a0"/><circle cx="1019.1" cy="1380.2" r="3.3" fill="#b0a6a0"/><circle cx="981.6" cy="1281.6" r="3.4" fill="#a89e9a"/><circle cx="1086.2" cy="1319.5" r="3.6" fill="#b4aaa4"/><circle cx="1057.1" cy="1322.1" r="2.8" fill="#b4aaa4"/><circle cx="1076.4" cy="1446.8" r="3.1" fill="#b0a6a0"/><circle cx="1003.5" cy="1280.8" r="3.2" fill="#b4aaa4"/><circle cx="1116.4" cy="1336.7" r="3.3" fill="#a89e9a"/><circle cx="874.5" cy="1449.4" r="3.6" fill="#b4aaa4"/><circle cx="874.9" cy="1414.4" r="3.0" fill="#b0a6a0"/><circle cx="1031.9" cy="1407.4" r="3.4" fill="#a69a90"/><circle cx="992.7" cy="1479.0" r="3.3" fill="#a69a90"/><circle cx="983.5" cy="1382.0" r="3.5" fill="#b0a6a0"/><circle cx="917.8" cy="1278.3" r="3.0" fill="#a89e9a"/><circle cx="931.2" cy="1399.1" r="3.0" fill="#a69a90"/><circle cx="979.5" cy="1320.2" r="3.0" fill="#a69a90"/><circle cx="918.4" cy="1471.7" r="3.3" fill="#b0a6a0"/><circle cx="985.9" cy="1377.3" r="3.3" fill="#a89e9a"/><circle cx="1066.2" cy="1407.4" r="3.4" fill="#b4aaa4"/><circle cx="923.1" cy="1472.2" r="3.0" fill="#a69a90"/><circle cx="1078.3" cy="1482.7" r="3.6" fill="#b0a6a0"/><circle cx="900.7" cy="1312.5" r="3.5" fill="#a89e9a"/><circle cx="881.7" cy="1306.6" r="3.1" fill="#a69a90"/><circle cx="1056.2" cy="1370.7" r="2.7" fill="#a89e9a"/><circle cx="1045.9" cy="1313.4" r="2.9" fill="#a89e9a"/><circle cx="927.3" cy="1479.9" r="2.9" fill="#b4aaa4"/><circle cx="1110.5" cy="1483.5" r="3.5" fill="#a89e9a"/><circle cx="921.2" cy="1421.1" r="3.3" fill="#a89e9a"/><circle cx="1109.3" cy="1371.7" r="3.0" fill="#b4aaa4"/><circle cx="1036.7" cy="1416.6" r="3.2" fill="#b0a6a0"/><circle cx="907.9" cy="1482.0" r="2.6" fill="#b4aaa4"/><circle cx="862.5" cy="1379.4" r="2.6" fill="#a69a90"/><circle cx="1045.0" cy="1321.1" r="2.6" fill="#a89e9a"/><circle cx="882.7" cy="1336.4" r="3.1" fill="#b0a6a0"/><circle cx="956.5" cy="1297.5" r="3.4" fill="#a69a90"/><circle cx="999.2" cy="1278.4" r="2.8" fill="#a69a90"/><circle cx="1093.7" cy="1322.0" r="3.2" fill="#a69a90"/><circle cx="1094.0" cy="1271.3" r="3.2" fill="#b0a6a0"/><circle cx="974.1" cy="1453.4" r="3.6" fill="#a89e9a"/><circle cx="898.1" cy="1378.5" r="3.1" fill="#a69a90"/><circle cx="983.6" cy="1446.1" r="2.9" fill="#b4aaa4"/><circle cx="898.5" cy="1331.7" r="3.2" fill="#b0a6a0"/><circle cx="1095.8" cy="1283.3" r="2.7" fill="#b0a6a0"/><circle cx="1039.0" cy="1309.8" r="2.9" fill="#b0a6a0"/><circle cx="900.8" cy="1398.2" r="2.9" fill="#a69a90"/><circle cx="899.8" cy="1290.7" r="3.5" fill="#b4aaa4"/><circle cx="966.8" cy="1421.7" r="3.3" fill="#a69a90"/><circle cx="878.4" cy="1452.2" r="2.8" fill="#b0a6a0"/><circle cx="1052.3" cy="1402.9" r="3.2" fill="#a89e9a"/><circle cx="863.0" cy="1349.7" r="3.1" fill="#a69a90"/><circle cx="1073.4" cy="1469.9" r="3.3" fill="#a89e9a"/><circle cx="1039.8" cy="1412.1" r="3.2" fill="#b0a6a0"/><circle cx="1117.2" cy="1354.6" r="3.5" fill="#b4aaa4"/><circle cx="860.4" cy="1346.0" r="3.2" fill="#b0a6a0"/><circle cx="1059.8" cy="1411.9" r="2.8" fill="#a69a90"/><circle cx="1006.0" cy="1440.7" r="3.3" fill="#b4aaa4"/><circle cx="1101.1" cy="1321.0" r="3.2" fill="#b4aaa4"/><circle cx="1002.0" cy="1449.5" r="3.0" fill="#a89e9a"/><circle cx="1113.0" cy="1436.1" r="3.6" fill="#a89e9a"/><circle cx="1056.0" cy="1314.9" r="3.1" fill="#b4aaa4"/><circle cx="1097.1" cy="1382.2" r="2.7" fill="#a89e9a"/><circle cx="1034.7" cy="1404.5" r="3.1" fill="#a69a90"/><circle cx="1058.6" cy="1412.8" r="2.9" fill="#a69a90"/><circle cx="1078.9" cy="1317.1" r="3.1" fill="#b0a6a0"/><circle cx="1001.4" cy="1369.9" r="2.6" fill="#b4aaa4"/><circle cx="1014.4" cy="1446.7" r="3.3" fill="#a89e9a"/><circle cx="1035.3" cy="1397.3" r="3.2" fill="#a69a90"/><circle cx="910.1" cy="1318.2" r="3.3" fill="#a69a90"/><circle cx="1037.6" cy="1273.5" r="3.5" fill="#a89e9a"/><circle cx="991.3" cy="1370.5" r="3.0" fill="#a69a90"/><circle cx="1017.7" cy="1422.2" r="3.5" fill="#b0a6a0"/><circle cx="957.8" cy="1323.3" r="3.4" fill="#b0a6a0"/><circle cx="1106.0" cy="1311.8" r="3.4" fill="#b0a6a0"/><circle cx="1057.2" cy="1323.0" r="2.7" fill="#b4aaa4"/><circle cx="885.3" cy="1405.3" r="3.2" fill="#a89e9a"/><circle cx="893.3" cy="1439.7" r="3.1" fill="#b0a6a0"/><circle cx="1041.2" cy="1342.3" r="3.2" fill="#b4aaa4"/><circle cx="859.9" cy="1455.7" r="2.9" fill="#b4aaa4"/><circle cx="1043.9" cy="1359.8" r="2.7" fill="#b0a6a0"/><circle cx="1046.0" cy="1376.4" r="3.1" fill="#b4aaa4"/><circle cx="973.2" cy="1272.2" r="3.6" fill="#a89e9a"/><circle cx="950.2" cy="1436.1" r="3.2" fill="#a69a90"/><circle cx="1049.9" cy="1398.4" r="3.0" fill="#a89e9a"/><circle cx="862.7" cy="1411.1" r="3.1" fill="#a89e9a"/><circle cx="1064.9" cy="1469.0" r="3.3" fill="#b4aaa4"/><circle cx="988.7" cy="1304.3" r="3.4" fill="#b4aaa4"/><circle cx="1042.8" cy="1334.3" r="3.6" fill="#a69a90"/><circle cx="907.4" cy="1301.3" r="3.2" fill="#a89e9a"/><circle cx="916.6" cy="1292.4" r="3.1" fill="#b0a6a0"/><circle cx="1025.7" cy="1294.7" r="2.7" fill="#a89e9a"/><circle cx="1001.7" cy="1286.4" r="2.8" fill="#b0a6a0"/><circle cx="922.9" cy="1363.9" r="3.4" fill="#b0a6a0"/><circle cx="964.4" cy="1481.8" r="3.4" fill="#b4aaa4"/><circle cx="1094.3" cy="1360.7" r="3.2" fill="#b0a6a0"/><circle cx="1096.1" cy="1439.7" r="3.2" fill="#a89e9a"/><circle cx="867.6" cy="1410.5" r="3.4" fill="#b4aaa4"/><circle cx="1065.3" cy="1428.2" r="3.1" fill="#a89e9a"/><circle cx="934.8" cy="1350.3" r="3.1" fill="#b4aaa4"/><circle cx="961.7" cy="1446.4" r="2.7" fill="#b4aaa4"/><circle cx="1014.0" cy="1376.1" r="3.4" fill="#a89e9a"/><circle cx="1059.2" cy="1300.8" r="2.9" fill="#b0a6a0"/><circle cx="929.6" cy="1418.7" r="3.5" fill="#b0a6a0"/><circle cx="957.6" cy="1460.7" r="3.0" fill="#b0a6a0"/><circle cx="1025.5" cy="1373.2" r="3.2" fill="#b4aaa4"/><circle cx="1051.7" cy="1277.8" r="3.2" fill="#b4aaa4"/><circle cx="973.9" cy="1439.5" r="2.6" fill="#a89e9a"/><circle cx="901.0" cy="1316.0" r="2.8" fill="#b4aaa4"/><circle cx="860.9" cy="1440.2" r="3.5" fill="#a69a90"/><circle cx="924.0" cy="1346.6" r="3.4" fill="#a89e9a"/><circle cx="932.4" cy="1400.2" r="3.4" fill="#b4aaa4"/><circle cx="986.0" cy="1340.8" r="3.5" fill="#a89e9a"/><circle cx="934.5" cy="1435.0" r="3.3" fill="#b0a6a0"/><circle cx="1092.8" cy="1322.4" r="3.6" fill="#b4aaa4"/><circle cx="1007.3" cy="1450.8" r="3.4" fill="#a69a90"/><circle cx="864.8" cy="1396.5" r="3.5" fill="#a89e9a"/><circle cx="1070.1" cy="1404.2" r="3.3" fill="#b0a6a0"/><circle cx="1091.0" cy="1467.0" r="3.4" fill="#a89e9a"/><circle cx="991.1" cy="1424.1" r="3.1" fill="#a89e9a"/><circle cx="1032.8" cy="1363.6" r="3.3" fill="#b4aaa4"/><circle cx="1063.6" cy="1383.4" r="2.6" fill="#b0a6a0"/><circle cx="1059.4" cy="1304.5" r="2.7" fill="#a69a90"/><circle cx="870.4" cy="1409.6" r="2.7" fill="#b4aaa4"/><circle cx="1032.2" cy="1462.3" r="2.9" fill="#a69a90"/><circle cx="1112.1" cy="1391.2" r="2.9" fill="#b0a6a0"/><circle cx="1045.3" cy="1453.9" r="3.6" fill="#b4aaa4"/><circle cx="981.5" cy="1470.1" r="3.5" fill="#b4aaa4"/><circle cx="1084.0" cy="1297.6" r="2.9" fill="#b4aaa4"/><circle cx="912.3" cy="1303.4" r="2.7" fill="#a89e9a"/><circle cx="902.1" cy="1344.7" r="2.8" fill="#b0a6a0"/><circle cx="868.7" cy="1273.9" r="2.9" fill="#a89e9a"/><circle cx="1084.9" cy="1456.6" r="3.2" fill="#a89e9a"/><circle cx="1020.0" cy="1311.8" r="2.8" fill="#b4aaa4"/><circle cx="967.8" cy="1340.3" r="3.3" fill="#a69a90"/><circle cx="1069.4" cy="1458.4" r="3.3" fill="#b0a6a0"/><circle cx="922.8" cy="1339.2" r="2.9" fill="#a69a90"/><circle cx="1063.5" cy="1309.7" r="3.6" fill="#a69a90"/><circle cx="980.8" cy="1422.2" r="3.4" fill="#a89e9a"/><circle cx="1050.0" cy="1365.3" r="2.7" fill="#a69a90"/><circle cx="1101.5" cy="1286.3" r="3.3" fill="#a69a90"/><circle cx="1099.6" cy="1475.8" r="3.4" fill="#b0a6a0"/><circle cx="1062.7" cy="1488.1" r="3.1" fill="#b0a6a0"/><circle cx="1026.1" cy="1281.4" r="3.6" fill="#a69a90"/><circle cx="881.5" cy="1358.4" r="3.6" fill="#a69a90"/><circle cx="1068.4" cy="1376.5" r="2.9" fill="#b4aaa4"/><circle cx="1028.6" cy="1484.6" r="2.9" fill="#a89e9a"/><circle cx="900.1" cy="1359.2" r="2.9" fill="#b4aaa4"/><circle cx="1063.4" cy="1355.1" r="3.3" fill="#b4aaa4"/><circle cx="1000.2" cy="1278.8" r="2.7" fill="#a89e9a"/><circle cx="1095.3" cy="1370.2" r="3.1" fill="#a89e9a"/><circle cx="1033.6" cy="1373.1" r="3.4" fill="#b4aaa4"/><circle cx="942.2" cy="1399.1" r="3.1" fill="#a69a90"/><circle cx="1058.9" cy="1408.8" r="3.5" fill="#b4aaa4"/><circle cx="911.9" cy="1307.5" r="3.1" fill="#a89e9a"/></g>
<g opacity="1.0"><circle cx="1114.0" cy="1298.8" r="3.2" fill="#8c6a3c"/><circle cx="906.7" cy="1294.3" r="4.1" fill="#8c6a3c"/><circle cx="1069.7" cy="1285.2" r="3.6" fill="#957044"/><circle cx="942.9" cy="1401.7" r="4.5" fill="#a07a4a"/><circle cx="1053.7" cy="1363.5" r="4.4" fill="#a07a4a"/><circle cx="1093.4" cy="1399.1" r="3.6" fill="#957044"/><circle cx="905.7" cy="1292.3" r="3.9" fill="#a07a4a"/><circle cx="1064.7" cy="1482.1" r="4.0" fill="#a07a4a"/><circle cx="944.8" cy="1342.2" r="3.5" fill="#8c6a3c"/><circle cx="941.1" cy="1441.9" r="4.5" fill="#a07a4a"/><circle cx="995.4" cy="1329.8" r="3.6" fill="#a07a4a"/><circle cx="907.0" cy="1278.4" r="3.9" fill="#957044"/><circle cx="969.7" cy="1323.6" r="3.6" fill="#8c6a3c"/><circle cx="963.8" cy="1473.9" r="3.5" fill="#a07a4a"/><circle cx="957.5" cy="1397.6" r="3.6" fill="#a07a4a"/><circle cx="1007.7" cy="1385.2" r="4.3" fill="#a07a4a"/><circle cx="971.8" cy="1287.6" r="3.8" fill="#957044"/><circle cx="973.0" cy="1357.4" r="4.5" fill="#957044"/><circle cx="994.5" cy="1356.9" r="3.3" fill="#957044"/><circle cx="903.3" cy="1389.5" r="3.7" fill="#8c6a3c"/><circle cx="1101.0" cy="1408.0" r="3.8" fill="#957044"/><circle cx="1000.8" cy="1445.2" r="4.1" fill="#957044"/><circle cx="1033.0" cy="1290.0" r="3.5" fill="#957044"/><circle cx="1079.2" cy="1473.2" r="3.8" fill="#957044"/><circle cx="990.9" cy="1384.5" r="4.0" fill="#a07a4a"/><circle cx="1056.6" cy="1373.1" r="4.2" fill="#a07a4a"/><circle cx="1048.6" cy="1480.7" r="3.4" fill="#a07a4a"/><circle cx="926.7" cy="1294.1" r="3.5" fill="#8c6a3c"/><circle cx="1027.3" cy="1343.5" r="3.4" fill="#a07a4a"/><circle cx="1017.2" cy="1423.8" r="3.4" fill="#957044"/><circle cx="1116.4" cy="1346.1" r="3.4" fill="#957044"/><circle cx="1000.5" cy="1376.1" r="3.3" fill="#957044"/><circle cx="931.4" cy="1289.1" r="3.9" fill="#957044"/><circle cx="965.3" cy="1293.7" r="4.5" fill="#a07a4a"/><circle cx="1080.8" cy="1276.0" r="3.7" fill="#a07a4a"/><circle cx="866.2" cy="1312.8" r="3.9" fill="#8c6a3c"/><circle cx="870.6" cy="1421.3" r="3.8" fill="#8c6a3c"/><circle cx="924.1" cy="1318.9" r="3.6" fill="#957044"/><circle cx="1106.7" cy="1393.9" r="3.4" fill="#a07a4a"/><circle cx="942.8" cy="1274.1" r="3.4" fill="#8c6a3c"/></g>
<path d="M862.4 1397.4Q887.4 1357.4 897.4 1297.4M937.4 1437.4Q987.4 1417.4 1017.4 1392.4" stroke="#d8e4f4" stroke-width="3" fill="none" opacity="0.8"/>
<g opacity="0.92"><circle cx="1178.7" cy="1308.2" r="2.9" fill="#a27444"/><circle cx="1296.5" cy="1429.9" r="3.6" fill="#966838"/><circle cx="1310.3" cy="1433.0" r="3.6" fill="#a27444"/><circle cx="1322.2" cy="1460.2" r="3.3" fill="#b08654"/><circle cx="1193.3" cy="1315.9" r="3.5" fill="#b08654"/><circle cx="1194.3" cy="1299.6" r="3.1" fill="#8c6232"/><circle cx="1226.5" cy="1415.4" r="3.1" fill="#8c6232"/><circle cx="1188.9" cy="1410.6" r="3.1" fill="#a27444"/><circle cx="1326.7" cy="1362.1" r="3.6" fill="#ac7e4c"/><circle cx="1219.0" cy="1306.8" r="3.6" fill="#b08654"/><circle cx="1216.0" cy="1306.2" r="2.9" fill="#b08654"/><circle cx="1163.1" cy="1302.3" r="3.2" fill="#966838"/><circle cx="1270.5" cy="1336.2" r="3.8" fill="#b08654"/><circle cx="1208.7" cy="1462.5" r="3.6" fill="#966838"/><circle cx="1239.1" cy="1301.0" r="3.4" fill="#8c6232"/><circle cx="1274.1" cy="1459.6" r="4.0" fill="#8c6232"/><circle cx="1147.2" cy="1292.4" r="3.1" fill="#9e7040"/><circle cx="1270.3" cy="1452.6" r="2.9" fill="#8c6232"/><circle cx="1400.8" cy="1345.3" r="2.9" fill="#8c6232"/><circle cx="1342.4" cy="1448.3" r="3.0" fill="#b08654"/><circle cx="1237.1" cy="1412.9" r="3.9" fill="#ac7e4c"/><circle cx="1285.5" cy="1392.2" r="3.5" fill="#9e7040"/><circle cx="1244.5" cy="1384.5" r="3.7" fill="#8c6232"/><circle cx="1319.3" cy="1471.6" r="3.5" fill="#ac7e4c"/><circle cx="1389.5" cy="1421.6" r="3.5" fill="#966838"/><circle cx="1174.4" cy="1303.7" r="3.2" fill="#ac7e4c"/><circle cx="1318.2" cy="1319.7" r="3.8" fill="#9e7040"/><circle cx="1147.1" cy="1372.9" r="3.8" fill="#ac7e4c"/><circle cx="1199.9" cy="1402.2" r="3.1" fill="#a27444"/><circle cx="1239.9" cy="1311.7" r="3.1" fill="#ac7e4c"/><circle cx="1368.2" cy="1345.5" r="4.0" fill="#b08654"/><circle cx="1374.9" cy="1368.4" r="3.6" fill="#9e7040"/><circle cx="1195.4" cy="1335.8" r="3.8" fill="#a27444"/><circle cx="1211.2" cy="1328.3" r="3.2" fill="#966838"/><circle cx="1285.4" cy="1336.4" r="3.3" fill="#a27444"/><circle cx="1326.6" cy="1272.0" r="3.9" fill="#8c6232"/><circle cx="1317.3" cy="1383.4" r="3.8" fill="#ac7e4c"/><circle cx="1243.6" cy="1315.1" r="3.9" fill="#8c6232"/><circle cx="1322.8" cy="1405.0" r="4.0" fill="#b08654"/><circle cx="1248.3" cy="1310.4" r="3.4" fill="#a27444"/><circle cx="1199.9" cy="1317.4" r="3.8" fill="#b08654"/><circle cx="1335.4" cy="1434.5" r="3.6" fill="#9e7040"/><circle cx="1395.6" cy="1345.6" r="3.9" fill="#ac7e4c"/><circle cx="1191.1" cy="1316.3" r="3.0" fill="#8c6232"/><circle cx="1298.4" cy="1449.7" r="3.8" fill="#9e7040"/><circle cx="1392.9" cy="1382.8" r="3.3" fill="#966838"/><circle cx="1158.8" cy="1332.9" r="3.5" fill="#9e7040"/><circle cx="1170.5" cy="1352.5" r="3.2" fill="#ac7e4c"/><circle cx="1348.8" cy="1362.5" r="3.6" fill="#9e7040"/><circle cx="1186.8" cy="1350.5" r="3.2" fill="#966838"/><circle cx="1169.2" cy="1298.3" r="3.6" fill="#8c6232"/><circle cx="1145.5" cy="1325.5" r="3.9" fill="#8c6232"/><circle cx="1240.5" cy="1334.6" r="3.0" fill="#b08654"/><circle cx="1281.3" cy="1306.5" r="3.0" fill="#9e7040"/><circle cx="1355.9" cy="1423.3" r="3.2" fill="#b08654"/><circle cx="1252.7" cy="1427.4" r="3.8" fill="#b08654"/><circle cx="1164.1" cy="1310.5" r="3.7" fill="#966838"/><circle cx="1188.4" cy="1400.4" r="3.7" fill="#8c6232"/><circle cx="1279.5" cy="1419.7" r="3.7" fill="#b08654"/><circle cx="1310.4" cy="1439.4" r="3.4" fill="#a27444"/><circle cx="1248.6" cy="1332.2" r="3.2" fill="#966838"/><circle cx="1334.6" cy="1399.6" r="3.3" fill="#966838"/><circle cx="1156.0" cy="1467.9" r="3.6" fill="#ac7e4c"/><circle cx="1154.4" cy="1271.6" r="3.0" fill="#ac7e4c"/><circle cx="1294.0" cy="1395.8" r="3.2" fill="#a27444"/><circle cx="1244.1" cy="1289.4" r="3.0" fill="#966838"/><circle cx="1235.3" cy="1347.7" r="3.5" fill="#8c6232"/><circle cx="1367.8" cy="1424.9" r="3.9" fill="#ac7e4c"/><circle cx="1145.9" cy="1456.4" r="3.5" fill="#8c6232"/><circle cx="1373.3" cy="1304.4" r="3.2" fill="#a27444"/><circle cx="1201.5" cy="1315.3" r="2.9" fill="#9e7040"/><circle cx="1311.0" cy="1290.9" r="3.9" fill="#9e7040"/><circle cx="1243.8" cy="1397.0" r="3.4" fill="#ac7e4c"/><circle cx="1211.3" cy="1347.1" r="4.0" fill="#ac7e4c"/><circle cx="1261.8" cy="1427.4" r="3.3" fill="#8c6232"/><circle cx="1205.7" cy="1446.4" r="3.4" fill="#ac7e4c"/><circle cx="1229.3" cy="1437.0" r="3.0" fill="#b08654"/><circle cx="1391.1" cy="1458.7" r="3.7" fill="#8c6232"/><circle cx="1218.9" cy="1451.2" r="3.7" fill="#8c6232"/><circle cx="1212.5" cy="1484.6" r="3.2" fill="#8c6232"/><circle cx="1305.1" cy="1413.4" r="3.7" fill="#966838"/><circle cx="1170.2" cy="1441.3" r="3.2" fill="#ac7e4c"/><circle cx="1304.4" cy="1290.3" r="3.9" fill="#8c6232"/><circle cx="1209.3" cy="1455.8" r="3.5" fill="#9e7040"/><circle cx="1344.0" cy="1475.8" r="3.1" fill="#ac7e4c"/><circle cx="1226.6" cy="1353.5" r="3.9" fill="#a27444"/><circle cx="1237.6" cy="1466.2" r="3.4" fill="#ac7e4c"/><circle cx="1255.7" cy="1440.3" r="3.7" fill="#8c6232"/><circle cx="1220.4" cy="1339.9" r="3.1" fill="#a27444"/><circle cx="1188.7" cy="1334.5" r="3.0" fill="#8c6232"/><circle cx="1401.3" cy="1340.2" r="3.8" fill="#ac7e4c"/><circle cx="1383.1" cy="1368.4" r="4.0" fill="#8c6232"/><circle cx="1355.9" cy="1355.7" r="3.5" fill="#9e7040"/><circle cx="1355.4" cy="1423.0" r="3.8" fill="#b08654"/><circle cx="1198.8" cy="1457.5" r="3.9" fill="#b08654"/><circle cx="1164.3" cy="1294.9" r="3.5" fill="#a27444"/><circle cx="1266.1" cy="1385.5" r="3.2" fill="#b08654"/><circle cx="1242.8" cy="1346.0" r="3.3" fill="#a27444"/><circle cx="1231.2" cy="1292.7" r="3.2" fill="#8c6232"/><circle cx="1223.5" cy="1308.4" r="3.8" fill="#9e7040"/><circle cx="1142.1" cy="1464.2" r="3.6" fill="#8c6232"/><circle cx="1192.1" cy="1427.4" r="3.2" fill="#a27444"/><circle cx="1319.9" cy="1396.4" r="3.8" fill="#9e7040"/><circle cx="1311.3" cy="1355.6" r="3.8" fill="#966838"/><circle cx="1183.4" cy="1319.9" r="3.2" fill="#ac7e4c"/><circle cx="1274.8" cy="1400.6" r="3.2" fill="#ac7e4c"/><circle cx="1253.6" cy="1399.3" r="3.6" fill="#b08654"/><circle cx="1209.3" cy="1424.8" r="3.9" fill="#ac7e4c"/><circle cx="1170.9" cy="1293.0" r="3.7" fill="#a27444"/><circle cx="1296.5" cy="1434.3" r="3.1" fill="#8c6232"/><circle cx="1263.7" cy="1404.2" r="3.7" fill="#966838"/><circle cx="1179.1" cy="1341.9" r="3.1" fill="#a27444"/><circle cx="1231.6" cy="1446.4" r="3.2" fill="#966838"/><circle cx="1162.5" cy="1412.1" r="3.4" fill="#ac7e4c"/><circle cx="1150.3" cy="1325.6" r="3.1" fill="#a27444"/><circle cx="1369.2" cy="1396.4" r="3.0" fill="#ac7e4c"/><circle cx="1206.5" cy="1433.3" r="3.6" fill="#b08654"/><circle cx="1310.8" cy="1282.6" r="3.4" fill="#966838"/><circle cx="1184.1" cy="1349.0" r="3.5" fill="#9e7040"/><circle cx="1213.9" cy="1371.0" r="3.4" fill="#a27444"/><circle cx="1273.7" cy="1471.5" r="3.1" fill="#9e7040"/><circle cx="1353.6" cy="1450.3" r="2.9" fill="#966838"/><circle cx="1237.7" cy="1317.0" r="3.2" fill="#8c6232"/><circle cx="1183.0" cy="1378.3" r="2.9" fill="#8c6232"/><circle cx="1341.1" cy="1321.7" r="3.2" fill="#9e7040"/><circle cx="1209.4" cy="1478.7" r="3.9" fill="#8c6232"/><circle cx="1301.1" cy="1317.8" r="4.0" fill="#966838"/><circle cx="1350.1" cy="1273.3" r="3.2" fill="#9e7040"/><circle cx="1334.2" cy="1324.8" r="3.2" fill="#a27444"/><circle cx="1191.9" cy="1442.5" r="3.4" fill="#a27444"/><circle cx="1219.6" cy="1362.6" r="2.9" fill="#ac7e4c"/><circle cx="1253.7" cy="1470.2" r="3.6" fill="#8c6232"/><circle cx="1287.2" cy="1390.2" r="3.6" fill="#ac7e4c"/><circle cx="1286.2" cy="1323.1" r="3.2" fill="#966838"/><circle cx="1319.1" cy="1321.0" r="3.4" fill="#8c6232"/><circle cx="1237.6" cy="1327.5" r="3.6" fill="#a27444"/><circle cx="1225.7" cy="1427.5" r="3.6" fill="#a27444"/><circle cx="1230.7" cy="1459.7" r="4.0" fill="#ac7e4c"/><circle cx="1259.3" cy="1296.3" r="3.2" fill="#ac7e4c"/><circle cx="1188.5" cy="1442.6" r="3.6" fill="#8c6232"/><circle cx="1378.8" cy="1482.6" r="3.6" fill="#ac7e4c"/><circle cx="1190.6" cy="1487.0" r="3.4" fill="#966838"/><circle cx="1140.3" cy="1350.0" r="3.2" fill="#a27444"/><circle cx="1364.3" cy="1297.5" r="3.1" fill="#ac7e4c"/><circle cx="1378.7" cy="1331.4" r="3.1" fill="#8c6232"/><circle cx="1282.1" cy="1468.6" r="3.5" fill="#9e7040"/><circle cx="1269.7" cy="1477.2" r="3.3" fill="#9e7040"/><circle cx="1298.5" cy="1405.0" r="3.2" fill="#b08654"/><circle cx="1367.2" cy="1354.1" r="3.0" fill="#966838"/><circle cx="1282.7" cy="1401.9" r="3.7" fill="#966838"/><circle cx="1402.3" cy="1387.5" r="3.3" fill="#a27444"/><circle cx="1182.5" cy="1379.0" r="3.9" fill="#b08654"/><circle cx="1358.0" cy="1344.2" r="3.1" fill="#9e7040"/><circle cx="1210.6" cy="1428.9" r="3.7" fill="#a27444"/><circle cx="1142.8" cy="1390.4" r="4.0" fill="#ac7e4c"/><circle cx="1151.1" cy="1452.1" r="3.0" fill="#ac7e4c"/><circle cx="1139.0" cy="1439.8" r="3.6" fill="#ac7e4c"/><circle cx="1253.2" cy="1477.0" r="3.8" fill="#8c6232"/><circle cx="1240.2" cy="1408.6" r="3.5" fill="#8c6232"/><circle cx="1315.6" cy="1451.8" r="3.2" fill="#8c6232"/><circle cx="1328.2" cy="1430.3" r="3.3" fill="#9e7040"/><circle cx="1212.6" cy="1411.4" r="3.2" fill="#966838"/><circle cx="1386.8" cy="1287.7" r="3.9" fill="#8c6232"/><circle cx="1360.1" cy="1284.9" r="3.9" fill="#b08654"/><circle cx="1362.8" cy="1349.5" r="3.1" fill="#ac7e4c"/><circle cx="1254.8" cy="1271.3" r="3.6" fill="#a27444"/><circle cx="1304.7" cy="1408.5" r="3.1" fill="#ac7e4c"/><circle cx="1201.6" cy="1479.0" r="3.9" fill="#a27444"/><circle cx="1247.9" cy="1375.6" r="3.3" fill="#8c6232"/><circle cx="1189.7" cy="1320.2" r="3.4" fill="#8c6232"/><circle cx="1266.6" cy="1293.7" r="2.9" fill="#9e7040"/><circle cx="1314.5" cy="1296.4" r="3.3" fill="#966838"/><circle cx="1353.5" cy="1287.5" r="3.7" fill="#966838"/><circle cx="1252.6" cy="1337.0" r="3.3" fill="#b08654"/><circle cx="1344.7" cy="1433.5" r="3.3" fill="#9e7040"/><circle cx="1265.9" cy="1325.0" r="3.0" fill="#ac7e4c"/><circle cx="1201.4" cy="1413.2" r="3.1" fill="#966838"/><circle cx="1149.0" cy="1286.0" r="3.4" fill="#ac7e4c"/><circle cx="1235.9" cy="1307.8" r="3.7" fill="#a27444"/><circle cx="1339.4" cy="1462.6" r="3.4" fill="#966838"/><circle cx="1181.1" cy="1378.8" r="3.4" fill="#966838"/><circle cx="1224.4" cy="1279.3" r="4.0" fill="#a27444"/><circle cx="1222.8" cy="1422.9" r="3.1" fill="#b08654"/><circle cx="1189.6" cy="1454.6" r="2.9" fill="#9e7040"/><circle cx="1292.8" cy="1343.8" r="2.9" fill="#966838"/><circle cx="1391.6" cy="1466.0" r="3.1" fill="#8c6232"/><circle cx="1262.9" cy="1340.5" r="2.9" fill="#a27444"/><circle cx="1343.8" cy="1321.1" r="3.6" fill="#ac7e4c"/><circle cx="1303.6" cy="1400.0" r="2.9" fill="#ac7e4c"/><circle cx="1254.1" cy="1471.4" r="3.1" fill="#9e7040"/><circle cx="1291.2" cy="1395.8" r="3.6" fill="#9e7040"/><circle cx="1287.1" cy="1424.9" r="3.4" fill="#ac7e4c"/><circle cx="1378.0" cy="1483.1" r="3.4" fill="#9e7040"/><circle cx="1207.2" cy="1460.6" r="3.8" fill="#9e7040"/><circle cx="1294.9" cy="1277.6" r="3.7" fill="#b08654"/><circle cx="1168.4" cy="1450.0" r="3.1" fill="#ac7e4c"/><circle cx="1305.0" cy="1328.9" r="3.9" fill="#ac7e4c"/><circle cx="1266.0" cy="1425.9" r="3.5" fill="#ac7e4c"/><circle cx="1146.0" cy="1328.3" r="3.1" fill="#b08654"/><circle cx="1350.7" cy="1396.5" r="3.4" fill="#a27444"/><circle cx="1367.6" cy="1279.1" r="3.4" fill="#8c6232"/><circle cx="1245.2" cy="1335.2" r="3.7" fill="#a27444"/><circle cx="1304.9" cy="1406.5" r="3.5" fill="#966838"/><circle cx="1209.2" cy="1423.2" r="2.9" fill="#9e7040"/><circle cx="1316.1" cy="1305.5" r="3.4" fill="#a27444"/><circle cx="1212.4" cy="1286.3" r="3.1" fill="#8c6232"/><circle cx="1353.2" cy="1285.6" r="3.4" fill="#b08654"/><circle cx="1343.6" cy="1351.8" r="3.3" fill="#a27444"/><circle cx="1275.2" cy="1384.7" r="3.6" fill="#b08654"/><circle cx="1349.3" cy="1354.9" r="3.6" fill="#b08654"/><circle cx="1223.1" cy="1310.2" r="3.4" fill="#a27444"/><circle cx="1220.0" cy="1449.5" r="3.9" fill="#9e7040"/><circle cx="1341.5" cy="1385.4" r="3.5" fill="#b08654"/><circle cx="1208.7" cy="1430.6" r="3.1" fill="#b08654"/><circle cx="1160.4" cy="1362.7" r="3.1" fill="#8c6232"/><circle cx="1289.3" cy="1408.6" r="3.6" fill="#966838"/><circle cx="1231.2" cy="1470.2" r="3.3" fill="#9e7040"/><circle cx="1371.0" cy="1485.1" r="3.5" fill="#966838"/><circle cx="1362.0" cy="1401.1" r="3.1" fill="#9e7040"/><circle cx="1188.8" cy="1477.4" r="3.9" fill="#8c6232"/><circle cx="1343.8" cy="1295.8" r="3.8" fill="#8c6232"/><circle cx="1297.1" cy="1365.8" r="3.1" fill="#ac7e4c"/><circle cx="1297.0" cy="1292.8" r="3.4" fill="#a27444"/><circle cx="1158.8" cy="1446.9" r="3.0" fill="#ac7e4c"/><circle cx="1260.8" cy="1360.3" r="3.0" fill="#ac7e4c"/><circle cx="1204.1" cy="1356.6" r="3.7" fill="#ac7e4c"/><circle cx="1378.8" cy="1393.0" r="2.9" fill="#966838"/><circle cx="1212.0" cy="1432.2" r="3.6" fill="#a27444"/><circle cx="1301.9" cy="1308.5" r="3.2" fill="#ac7e4c"/><circle cx="1181.9" cy="1373.5" r="3.8" fill="#a27444"/><circle cx="1197.2" cy="1437.7" r="3.9" fill="#ac7e4c"/><circle cx="1225.4" cy="1459.9" r="3.3" fill="#8c6232"/><circle cx="1342.9" cy="1471.0" r="3.5" fill="#ac7e4c"/><circle cx="1369.1" cy="1326.6" r="3.7" fill="#b08654"/><circle cx="1369.0" cy="1368.0" r="3.8" fill="#b08654"/><circle cx="1285.5" cy="1450.8" r="3.5" fill="#b08654"/><circle cx="1193.1" cy="1428.7" r="3.0" fill="#8c6232"/><circle cx="1351.5" cy="1362.5" r="3.1" fill="#8c6232"/><circle cx="1308.3" cy="1447.6" r="3.4" fill="#b08654"/><circle cx="1178.5" cy="1400.8" r="3.8" fill="#ac7e4c"/><circle cx="1199.2" cy="1346.9" r="3.7" fill="#b08654"/><circle cx="1153.6" cy="1295.8" r="3.2" fill="#8c6232"/><circle cx="1283.3" cy="1353.6" r="3.6" fill="#966838"/><circle cx="1204.2" cy="1314.5" r="3.6" fill="#9e7040"/><circle cx="1206.5" cy="1407.8" r="3.1" fill="#a27444"/><circle cx="1312.1" cy="1336.4" r="3.0" fill="#ac7e4c"/><circle cx="1258.8" cy="1420.6" r="3.4" fill="#8c6232"/><circle cx="1342.9" cy="1444.4" r="3.9" fill="#966838"/><circle cx="1273.1" cy="1388.4" r="3.9" fill="#a27444"/><circle cx="1192.1" cy="1310.9" r="3.2" fill="#966838"/><circle cx="1331.5" cy="1425.4" r="3.5" fill="#8c6232"/><circle cx="1388.1" cy="1463.2" r="3.4" fill="#b08654"/><circle cx="1241.2" cy="1278.2" r="3.0" fill="#966838"/><circle cx="1327.6" cy="1409.1" r="2.9" fill="#ac7e4c"/><circle cx="1220.9" cy="1436.1" r="3.5" fill="#b08654"/><circle cx="1260.2" cy="1447.9" r="3.2" fill="#a27444"/><circle cx="1317.3" cy="1403.2" r="3.2" fill="#ac7e4c"/><circle cx="1269.8" cy="1341.9" r="3.3" fill="#a27444"/><circle cx="1257.1" cy="1368.4" r="3.6" fill="#b08654"/><circle cx="1226.6" cy="1472.7" r="3.5" fill="#9e7040"/><circle cx="1332.9" cy="1318.6" r="3.0" fill="#966838"/><circle cx="1213.4" cy="1297.2" r="3.5" fill="#ac7e4c"/><circle cx="1250.5" cy="1371.3" r="3.0" fill="#966838"/><circle cx="1172.5" cy="1468.2" r="2.9" fill="#9e7040"/><circle cx="1359.6" cy="1359.2" r="4.0" fill="#ac7e4c"/><circle cx="1176.0" cy="1300.0" r="3.9" fill="#ac7e4c"/><circle cx="1267.9" cy="1366.9" r="3.8" fill="#a27444"/><circle cx="1343.1" cy="1480.5" r="4.0" fill="#9e7040"/><circle cx="1243.1" cy="1474.6" r="3.7" fill="#966838"/><circle cx="1179.5" cy="1311.1" r="3.3" fill="#ac7e4c"/><circle cx="1158.0" cy="1433.3" r="3.3" fill="#8c6232"/><circle cx="1324.9" cy="1308.9" r="3.4" fill="#a27444"/><circle cx="1367.0" cy="1362.0" r="3.1" fill="#a27444"/><circle cx="1308.2" cy="1457.3" r="3.5" fill="#8c6232"/><circle cx="1351.8" cy="1466.8" r="3.9" fill="#966838"/><circle cx="1394.9" cy="1296.2" r="3.2" fill="#966838"/><circle cx="1348.0" cy="1384.3" r="3.1" fill="#b08654"/><circle cx="1291.3" cy="1333.5" r="3.4" fill="#9e7040"/><circle cx="1205.3" cy="1375.6" r="4.0" fill="#9e7040"/><circle cx="1201.6" cy="1481.8" r="3.0" fill="#9e7040"/><circle cx="1158.8" cy="1379.9" r="3.9" fill="#8c6232"/><circle cx="1221.1" cy="1365.8" r="3.3" fill="#966838"/><circle cx="1393.8" cy="1327.9" r="3.2" fill="#ac7e4c"/><circle cx="1327.6" cy="1459.2" r="3.9" fill="#8c6232"/><circle cx="1217.1" cy="1366.0" r="3.9" fill="#8c6232"/><circle cx="1302.4" cy="1326.3" r="3.4" fill="#966838"/><circle cx="1240.3" cy="1383.2" r="3.3" fill="#b08654"/><circle cx="1144.1" cy="1363.1" r="3.7" fill="#9e7040"/><circle cx="1146.3" cy="1370.0" r="4.0" fill="#9e7040"/><circle cx="1266.0" cy="1277.1" r="3.9" fill="#a27444"/><circle cx="1388.1" cy="1330.3" r="3.4" fill="#a27444"/><circle cx="1377.0" cy="1357.6" r="3.7" fill="#a27444"/><circle cx="1300.2" cy="1468.4" r="3.1" fill="#b08654"/><circle cx="1397.8" cy="1402.3" r="3.3" fill="#a27444"/><circle cx="1289.9" cy="1306.2" r="3.1" fill="#966838"/><circle cx="1368.3" cy="1331.4" r="3.6" fill="#ac7e4c"/><circle cx="1292.3" cy="1368.4" r="3.5" fill="#b08654"/><circle cx="1345.1" cy="1486.3" r="3.1" fill="#b08654"/><circle cx="1368.8" cy="1297.5" r="3.3" fill="#b08654"/><circle cx="1298.4" cy="1466.7" r="3.5" fill="#b08654"/><circle cx="1261.6" cy="1351.5" r="3.1" fill="#ac7e4c"/><circle cx="1220.4" cy="1317.3" r="3.1" fill="#8c6232"/><circle cx="1305.9" cy="1442.6" r="3.9" fill="#8c6232"/><circle cx="1348.2" cy="1283.4" r="3.7" fill="#966838"/><circle cx="1176.2" cy="1356.4" r="3.7" fill="#8c6232"/><circle cx="1183.7" cy="1435.8" r="3.3" fill="#966838"/><circle cx="1280.1" cy="1347.2" r="3.1" fill="#9e7040"/><circle cx="1328.6" cy="1482.4" r="3.6" fill="#a27444"/><circle cx="1366.0" cy="1436.4" r="2.9" fill="#966838"/><circle cx="1285.6" cy="1331.4" r="3.2" fill="#b08654"/><circle cx="1358.5" cy="1401.5" r="3.6" fill="#b08654"/><circle cx="1356.5" cy="1273.0" r="3.5" fill="#ac7e4c"/><circle cx="1357.7" cy="1468.9" r="3.4" fill="#966838"/><circle cx="1300.0" cy="1325.2" r="3.3" fill="#b08654"/><circle cx="1180.0" cy="1296.0" r="3.3" fill="#ac7e4c"/><circle cx="1294.5" cy="1381.0" r="3.7" fill="#9e7040"/><circle cx="1182.4" cy="1444.5" r="3.9" fill="#b08654"/><circle cx="1162.0" cy="1469.8" r="4.0" fill="#ac7e4c"/><circle cx="1146.1" cy="1273.0" r="3.0" fill="#ac7e4c"/><circle cx="1273.5" cy="1339.3" r="3.0" fill="#966838"/><circle cx="1364.1" cy="1306.3" r="3.3" fill="#ac7e4c"/><circle cx="1256.4" cy="1343.4" r="3.9" fill="#8c6232"/><circle cx="1221.9" cy="1456.0" r="3.3" fill="#966838"/><circle cx="1384.7" cy="1466.8" r="3.9" fill="#966838"/><circle cx="1350.1" cy="1388.6" r="3.0" fill="#9e7040"/><circle cx="1201.8" cy="1358.8" r="3.6" fill="#a27444"/><circle cx="1328.9" cy="1393.5" r="3.9" fill="#b08654"/><circle cx="1213.0" cy="1450.0" r="3.2" fill="#b08654"/><circle cx="1228.3" cy="1336.1" r="3.1" fill="#9e7040"/><circle cx="1366.2" cy="1479.1" r="3.5" fill="#b08654"/><circle cx="1201.9" cy="1448.7" r="3.6" fill="#9e7040"/><circle cx="1378.2" cy="1432.5" r="3.3" fill="#966838"/><circle cx="1171.9" cy="1336.2" r="3.2" fill="#9e7040"/><circle cx="1311.9" cy="1483.6" r="3.2" fill="#ac7e4c"/><circle cx="1176.7" cy="1438.5" r="3.5" fill="#a27444"/><circle cx="1216.1" cy="1364.2" r="2.9" fill="#9e7040"/><circle cx="1339.8" cy="1426.3" r="3.9" fill="#b08654"/><circle cx="1223.7" cy="1425.7" r="3.8" fill="#8c6232"/><circle cx="1347.1" cy="1370.5" r="3.8" fill="#b08654"/><circle cx="1336.3" cy="1454.1" r="3.0" fill="#966838"/><circle cx="1290.4" cy="1405.0" r="3.0" fill="#966838"/><circle cx="1268.4" cy="1405.0" r="3.2" fill="#b08654"/><circle cx="1267.1" cy="1471.7" r="3.6" fill="#9e7040"/><circle cx="1273.8" cy="1361.0" r="3.7" fill="#a27444"/><circle cx="1289.9" cy="1323.2" r="3.1" fill="#a27444"/><circle cx="1190.9" cy="1387.3" r="3.0" fill="#a27444"/><circle cx="1186.2" cy="1340.0" r="4.0" fill="#8c6232"/><circle cx="1359.1" cy="1364.0" r="3.7" fill="#966838"/><circle cx="1274.7" cy="1358.2" r="3.3" fill="#b08654"/><circle cx="1214.6" cy="1336.8" r="3.6" fill="#9e7040"/><circle cx="1287.1" cy="1417.1" r="3.5" fill="#9e7040"/><circle cx="1190.9" cy="1400.0" r="3.0" fill="#9e7040"/><circle cx="1185.0" cy="1365.4" r="4.0" fill="#a27444"/><circle cx="1383.1" cy="1469.6" r="3.4" fill="#ac7e4c"/><circle cx="1393.8" cy="1343.1" r="3.3" fill="#9e7040"/><circle cx="1215.3" cy="1396.7" r="3.8" fill="#a27444"/><circle cx="1386.6" cy="1301.4" r="3.9" fill="#9e7040"/><circle cx="1212.6" cy="1477.3" r="3.4" fill="#966838"/><circle cx="1166.0" cy="1453.9" r="3.1" fill="#ac7e4c"/><circle cx="1206.2" cy="1345.1" r="3.9" fill="#ac7e4c"/><circle cx="1163.4" cy="1456.2" r="3.9" fill="#a27444"/><circle cx="1163.2" cy="1354.3" r="3.8" fill="#a27444"/><circle cx="1348.8" cy="1384.0" r="3.7" fill="#9e7040"/><circle cx="1208.0" cy="1388.6" r="3.6" fill="#8c6232"/><circle cx="1304.6" cy="1453.0" r="3.6" fill="#9e7040"/><circle cx="1214.1" cy="1382.8" r="4.0" fill="#966838"/><circle cx="1182.4" cy="1392.8" r="3.8" fill="#b08654"/><circle cx="1355.8" cy="1316.2" r="3.2" fill="#b08654"/><circle cx="1222.7" cy="1356.7" r="3.3" fill="#9e7040"/><circle cx="1334.9" cy="1439.4" r="3.5" fill="#ac7e4c"/><circle cx="1343.9" cy="1340.0" r="3.1" fill="#ac7e4c"/><circle cx="1285.0" cy="1406.7" r="3.9" fill="#966838"/><circle cx="1299.9" cy="1306.8" r="3.1" fill="#966838"/><circle cx="1382.5" cy="1456.5" r="4.0" fill="#966838"/><circle cx="1255.4" cy="1437.6" r="3.9" fill="#8c6232"/><circle cx="1270.7" cy="1434.0" r="2.9" fill="#a27444"/><circle cx="1195.1" cy="1316.9" r="3.2" fill="#966838"/><circle cx="1311.1" cy="1470.3" r="3.8" fill="#a27444"/><circle cx="1373.9" cy="1387.9" r="3.2" fill="#8c6232"/><circle cx="1190.9" cy="1392.8" r="3.7" fill="#a27444"/><circle cx="1165.6" cy="1420.7" r="3.8" fill="#8c6232"/><circle cx="1267.7" cy="1469.9" r="3.5" fill="#a27444"/><circle cx="1239.8" cy="1451.1" r="3.6" fill="#b08654"/><circle cx="1182.7" cy="1434.6" r="3.4" fill="#8c6232"/><circle cx="1244.9" cy="1303.1" r="3.9" fill="#9e7040"/><circle cx="1327.6" cy="1287.8" r="3.7" fill="#ac7e4c"/><circle cx="1215.7" cy="1321.3" r="3.0" fill="#8c6232"/><circle cx="1247.2" cy="1357.9" r="3.3" fill="#a27444"/><circle cx="1304.4" cy="1380.9" r="3.4" fill="#a27444"/><circle cx="1175.8" cy="1312.6" r="3.7" fill="#ac7e4c"/><circle cx="1279.3" cy="1320.7" r="2.9" fill="#a27444"/><circle cx="1147.4" cy="1468.7" r="3.1" fill="#b08654"/><circle cx="1166.4" cy="1378.9" r="3.0" fill="#b08654"/><circle cx="1242.5" cy="1443.9" r="3.2" fill="#ac7e4c"/><circle cx="1368.4" cy="1407.1" r="3.4" fill="#8c6232"/><circle cx="1268.5" cy="1321.7" r="3.1" fill="#a27444"/><circle cx="1331.0" cy="1354.0" r="3.8" fill="#b08654"/><circle cx="1168.0" cy="1308.3" r="3.2" fill="#966838"/><circle cx="1277.0" cy="1358.6" r="3.5" fill="#966838"/><circle cx="1205.9" cy="1381.6" r="3.9" fill="#8c6232"/><circle cx="1381.8" cy="1359.4" r="3.1" fill="#8c6232"/><circle cx="1187.3" cy="1352.4" r="3.4" fill="#9e7040"/><circle cx="1244.5" cy="1420.5" r="3.3" fill="#a27444"/><circle cx="1380.4" cy="1352.4" r="3.9" fill="#ac7e4c"/><circle cx="1225.1" cy="1399.3" r="3.0" fill="#a27444"/><circle cx="1156.0" cy="1485.9" r="3.0" fill="#ac7e4c"/><circle cx="1157.5" cy="1447.4" r="3.0" fill="#a27444"/><circle cx="1289.8" cy="1445.6" r="3.3" fill="#8c6232"/><circle cx="1277.5" cy="1431.8" r="3.3" fill="#8c6232"/><circle cx="1239.0" cy="1306.1" r="3.8" fill="#ac7e4c"/><circle cx="1210.8" cy="1343.8" r="3.6" fill="#ac7e4c"/><circle cx="1241.1" cy="1473.3" r="3.7" fill="#8c6232"/><circle cx="1206.0" cy="1420.8" r="3.3" fill="#966838"/><circle cx="1189.2" cy="1421.1" r="3.9" fill="#9e7040"/><circle cx="1319.8" cy="1408.7" r="3.7" fill="#b08654"/><circle cx="1168.9" cy="1408.6" r="3.6" fill="#ac7e4c"/><circle cx="1211.9" cy="1457.1" r="2.9" fill="#9e7040"/><circle cx="1314.3" cy="1369.4" r="3.5" fill="#966838"/><circle cx="1372.0" cy="1358.0" r="2.9" fill="#8c6232"/><circle cx="1251.3" cy="1332.4" r="3.6" fill="#a27444"/><circle cx="1273.5" cy="1391.0" r="3.4" fill="#ac7e4c"/><circle cx="1241.3" cy="1347.8" r="3.7" fill="#8c6232"/><circle cx="1170.6" cy="1476.3" r="3.4" fill="#966838"/><circle cx="1235.7" cy="1340.1" r="3.4" fill="#8c6232"/><circle cx="1266.1" cy="1433.1" r="2.9" fill="#9e7040"/><circle cx="1183.4" cy="1383.4" r="3.7" fill="#b08654"/><circle cx="1356.3" cy="1447.8" r="3.0" fill="#ac7e4c"/><circle cx="1364.9" cy="1384.0" r="3.7" fill="#9e7040"/><circle cx="1357.6" cy="1333.1" r="3.3" fill="#966838"/><circle cx="1143.5" cy="1288.0" r="3.5" fill="#ac7e4c"/><circle cx="1361.4" cy="1428.9" r="3.3" fill="#ac7e4c"/><circle cx="1155.2" cy="1361.7" r="4.0" fill="#b08654"/><circle cx="1305.3" cy="1396.5" r="2.9" fill="#9e7040"/><circle cx="1286.7" cy="1403.9" r="3.7" fill="#966838"/><circle cx="1208.7" cy="1394.3" r="3.1" fill="#8c6232"/><circle cx="1373.2" cy="1445.9" r="4.0" fill="#9e7040"/><circle cx="1277.5" cy="1455.8" r="3.6" fill="#9e7040"/><circle cx="1303.1" cy="1392.9" r="3.0" fill="#966838"/><circle cx="1169.1" cy="1399.5" r="3.3" fill="#b08654"/><circle cx="1307.0" cy="1469.2" r="3.3" fill="#b08654"/><circle cx="1381.9" cy="1281.5" r="3.6" fill="#a27444"/><circle cx="1207.0" cy="1369.9" r="3.2" fill="#9e7040"/><circle cx="1306.7" cy="1460.5" r="3.0" fill="#9e7040"/><circle cx="1270.0" cy="1415.7" r="3.8" fill="#8c6232"/><circle cx="1210.1" cy="1360.2" r="3.0" fill="#a27444"/><circle cx="1239.4" cy="1349.3" r="3.1" fill="#a27444"/><circle cx="1180.6" cy="1339.0" r="3.4" fill="#ac7e4c"/><circle cx="1196.7" cy="1414.8" r="3.9" fill="#ac7e4c"/><circle cx="1187.6" cy="1451.6" r="3.7" fill="#9e7040"/><circle cx="1139.2" cy="1357.5" r="3.3" fill="#966838"/><circle cx="1317.9" cy="1380.4" r="3.8" fill="#ac7e4c"/><circle cx="1215.7" cy="1271.5" r="3.7" fill="#b08654"/><circle cx="1355.8" cy="1483.8" r="3.2" fill="#9e7040"/><circle cx="1336.1" cy="1438.0" r="3.5" fill="#9e7040"/><circle cx="1373.5" cy="1323.0" r="3.7" fill="#8c6232"/><circle cx="1314.1" cy="1465.4" r="3.6" fill="#8c6232"/><circle cx="1291.4" cy="1486.5" r="3.4" fill="#ac7e4c"/><circle cx="1327.9" cy="1378.5" r="3.2" fill="#8c6232"/><circle cx="1207.1" cy="1417.7" r="3.7" fill="#8c6232"/><circle cx="1279.4" cy="1423.5" r="3.5" fill="#966838"/><circle cx="1195.2" cy="1456.8" r="3.2" fill="#b08654"/><circle cx="1152.7" cy="1431.5" r="3.4" fill="#b08654"/><circle cx="1301.4" cy="1442.2" r="3.4" fill="#ac7e4c"/><circle cx="1159.4" cy="1320.5" r="3.6" fill="#a27444"/><circle cx="1334.5" cy="1350.9" r="3.9" fill="#8c6232"/><circle cx="1383.2" cy="1393.1" r="3.9" fill="#9e7040"/><circle cx="1305.8" cy="1320.2" r="3.6" fill="#a27444"/><circle cx="1319.0" cy="1479.6" r="3.4" fill="#b08654"/><circle cx="1210.5" cy="1335.0" r="3.5" fill="#a27444"/><circle cx="1305.7" cy="1469.1" r="3.2" fill="#b08654"/><circle cx="1319.1" cy="1462.3" r="3.4" fill="#966838"/><circle cx="1286.6" cy="1459.1" r="3.3" fill="#ac7e4c"/><circle cx="1320.6" cy="1431.6" r="3.0" fill="#a27444"/><circle cx="1155.7" cy="1404.0" r="3.2" fill="#966838"/><circle cx="1297.3" cy="1283.5" r="3.6" fill="#a27444"/><circle cx="1343.9" cy="1411.8" r="3.0" fill="#b08654"/><circle cx="1349.1" cy="1339.1" r="3.4" fill="#ac7e4c"/><circle cx="1201.7" cy="1456.5" r="3.8" fill="#a27444"/><circle cx="1167.5" cy="1398.7" r="3.3" fill="#ac7e4c"/><circle cx="1159.1" cy="1408.8" r="3.3" fill="#b08654"/><circle cx="1289.4" cy="1316.2" r="3.6" fill="#ac7e4c"/><circle cx="1333.2" cy="1410.8" r="3.4" fill="#966838"/><circle cx="1336.2" cy="1350.4" r="3.7" fill="#8c6232"/><circle cx="1256.7" cy="1328.7" r="3.4" fill="#8c6232"/><circle cx="1269.7" cy="1333.3" r="3.0" fill="#9e7040"/><circle cx="1169.3" cy="1329.2" r="3.6" fill="#a27444"/><circle cx="1255.7" cy="1445.9" r="3.0" fill="#9e7040"/><circle cx="1298.1" cy="1396.4" r="3.3" fill="#b08654"/><circle cx="1215.5" cy="1351.2" r="3.6" fill="#8c6232"/><circle cx="1188.0" cy="1390.8" r="3.3" fill="#b08654"/><circle cx="1346.7" cy="1329.3" r="3.5" fill="#8c6232"/><circle cx="1217.1" cy="1486.5" r="3.7" fill="#a27444"/><circle cx="1345.6" cy="1351.3" r="3.4" fill="#a27444"/><circle cx="1324.2" cy="1469.3" r="3.2" fill="#8c6232"/><circle cx="1290.2" cy="1368.6" r="3.1" fill="#8c6232"/><circle cx="1232.2" cy="1421.5" r="3.7" fill="#9e7040"/><circle cx="1257.6" cy="1313.0" r="3.8" fill="#9e7040"/><circle cx="1326.5" cy="1417.5" r="3.4" fill="#8c6232"/><circle cx="1223.2" cy="1310.9" r="3.8" fill="#8c6232"/><circle cx="1223.3" cy="1388.1" r="3.6" fill="#9e7040"/><circle cx="1169.5" cy="1407.1" r="2.9" fill="#ac7e4c"/><circle cx="1228.7" cy="1451.2" r="3.6" fill="#8c6232"/><circle cx="1284.7" cy="1430.4" r="3.7" fill="#a27444"/><circle cx="1174.1" cy="1270.6" r="3.7" fill="#b08654"/><circle cx="1150.6" cy="1465.4" r="3.9" fill="#b08654"/><circle cx="1225.7" cy="1334.3" r="3.0" fill="#ac7e4c"/><circle cx="1216.0" cy="1459.4" r="3.3" fill="#966838"/><circle cx="1328.6" cy="1391.9" r="3.1" fill="#8c6232"/><circle cx="1250.6" cy="1463.8" r="3.8" fill="#9e7040"/><circle cx="1175.8" cy="1372.4" r="4.0" fill="#9e7040"/><circle cx="1400.0" cy="1394.6" r="3.2" fill="#a27444"/><circle cx="1276.4" cy="1327.8" r="3.3" fill="#966838"/><circle cx="1189.2" cy="1379.5" r="3.3" fill="#9e7040"/><circle cx="1272.8" cy="1342.8" r="4.0" fill="#966838"/><circle cx="1355.0" cy="1302.3" r="3.2" fill="#9e7040"/><circle cx="1294.0" cy="1462.9" r="3.1" fill="#9e7040"/><circle cx="1246.6" cy="1355.3" r="2.9" fill="#b08654"/></g>
<g opacity="0.7"><circle cx="959.4" cy="1552.7" r="2.6" fill="#9ca4c0"/><circle cx="1012.2" cy="1655.6" r="3.0" fill="#9ca4c0"/><circle cx="1085.6" cy="1672.0" r="2.5" fill="#a4aac4"/><circle cx="1034.6" cy="1689.0" r="2.9" fill="#a4aac4"/><circle cx="1121.6" cy="1720.5" r="2.8" fill="#9ca4c0"/><circle cx="1032.7" cy="1640.1" r="2.6" fill="#aab2cc"/><circle cx="866.2" cy="1695.2" r="3.3" fill="#a4aac4"/><circle cx="876.9" cy="1581.7" r="2.9" fill="#aab2cc"/><circle cx="1036.8" cy="1528.7" r="3.3" fill="#aab2cc"/><circle cx="1098.6" cy="1540.8" r="2.7" fill="#a4aac4"/><circle cx="1023.4" cy="1637.2" r="2.7" fill="#a4aac4"/><circle cx="938.1" cy="1533.7" r="3.1" fill="#9ca4c0"/><circle cx="863.2" cy="1648.1" r="3.3" fill="#a4aac4"/><circle cx="863.2" cy="1531.2" r="2.9" fill="#aab2cc"/><circle cx="965.0" cy="1620.2" r="2.8" fill="#a4aac4"/><circle cx="1093.2" cy="1647.7" r="2.8" fill="#a4aac4"/><circle cx="1073.6" cy="1661.4" r="3.1" fill="#aab2cc"/><circle cx="1091.6" cy="1669.3" r="2.6" fill="#aab2cc"/><circle cx="1046.2" cy="1701.4" r="2.9" fill="#aab2cc"/><circle cx="1058.1" cy="1637.4" r="2.9" fill="#a4aac4"/><circle cx="1114.9" cy="1555.2" r="2.9" fill="#aab2cc"/><circle cx="980.5" cy="1662.7" r="3.2" fill="#a4aac4"/><circle cx="1116.5" cy="1562.8" r="2.7" fill="#aab2cc"/><circle cx="924.0" cy="1585.5" r="3.1" fill="#aab2cc"/><circle cx="959.1" cy="1699.3" r="3.2" fill="#aab2cc"/><circle cx="879.0" cy="1624.7" r="2.7" fill="#a4aac4"/><circle cx="905.8" cy="1650.3" r="2.6" fill="#a4aac4"/><circle cx="1004.1" cy="1640.5" r="2.9" fill="#a4aac4"/><circle cx="918.6" cy="1652.4" r="2.6" fill="#9ca4c0"/><circle cx="1017.7" cy="1660.7" r="3.0" fill="#9ca4c0"/><circle cx="962.6" cy="1580.9" r="2.7" fill="#9ca4c0"/><circle cx="865.4" cy="1633.1" r="3.3" fill="#aab2cc"/><circle cx="898.4" cy="1617.1" r="3.3" fill="#9ca4c0"/><circle cx="1052.3" cy="1676.6" r="2.6" fill="#aab2cc"/><circle cx="1035.9" cy="1656.4" r="2.7" fill="#9ca4c0"/><circle cx="1104.3" cy="1704.0" r="2.8" fill="#a4aac4"/><circle cx="926.8" cy="1586.1" r="2.7" fill="#a4aac4"/><circle cx="1090.1" cy="1563.6" r="3.0" fill="#9ca4c0"/><circle cx="965.4" cy="1611.1" r="3.3" fill="#a4aac4"/><circle cx="991.3" cy="1634.1" r="2.7" fill="#a4aac4"/><circle cx="1099.4" cy="1566.3" r="2.7" fill="#9ca4c0"/><circle cx="1109.1" cy="1686.0" r="2.5" fill="#aab2cc"/><circle cx="1076.2" cy="1620.9" r="3.2" fill="#aab2cc"/><circle cx="909.7" cy="1680.9" r="2.8" fill="#9ca4c0"/><circle cx="1012.7" cy="1596.8" r="2.5" fill="#a4aac4"/><circle cx="1091.1" cy="1616.1" r="2.6" fill="#aab2cc"/><circle cx="1015.4" cy="1585.0" r="2.7" fill="#9ca4c0"/><circle cx="1024.0" cy="1625.8" r="3.0" fill="#a4aac4"/><circle cx="960.7" cy="1542.7" r="3.0" fill="#aab2cc"/><circle cx="994.1" cy="1542.3" r="2.6" fill="#aab2cc"/><circle cx="1050.4" cy="1543.5" r="2.7" fill="#9ca4c0"/><circle cx="880.8" cy="1648.6" r="3.3" fill="#9ca4c0"/><circle cx="861.9" cy="1570.5" r="2.8" fill="#a4aac4"/><circle cx="1003.2" cy="1700.9" r="2.8" fill="#9ca4c0"/><circle cx="1058.9" cy="1584.4" r="3.2" fill="#a4aac4"/><circle cx="876.6" cy="1588.2" r="2.6" fill="#9ca4c0"/><circle cx="903.7" cy="1536.6" r="2.6" fill="#a4aac4"/><circle cx="941.9" cy="1703.3" r="2.8" fill="#a4aac4"/><circle cx="909.6" cy="1703.2" r="3.4" fill="#aab2cc"/><circle cx="889.1" cy="1504.5" r="2.6" fill="#aab2cc"/></g>
<g opacity="1.0"><circle cx="1028.6" cy="1506.6" r="2.7" fill="#9a6e36"/><circle cx="894.8" cy="1524.0" r="3.1" fill="#8a5e2c"/><circle cx="880.7" cy="1595.5" r="2.4" fill="#9a6e36"/><circle cx="919.7" cy="1635.9" r="3.0" fill="#8a5e2c"/><circle cx="1031.4" cy="1623.1" r="2.6" fill="#8a5e2c"/><circle cx="931.9" cy="1695.7" r="3.2" fill="#9a6e36"/><circle cx="1044.4" cy="1577.2" r="2.6" fill="#a8783c"/><circle cx="884.8" cy="1586.1" r="2.8" fill="#a8783c"/><circle cx="1019.1" cy="1681.8" r="3.1" fill="#8a5e2c"/><circle cx="890.8" cy="1707.6" r="2.5" fill="#a8783c"/><circle cx="1079.5" cy="1639.5" r="3.3" fill="#8a5e2c"/><circle cx="908.9" cy="1516.6" r="3.1" fill="#a8783c"/><circle cx="1121.2" cy="1692.6" r="3.3" fill="#a8783c"/><circle cx="931.8" cy="1643.4" r="2.8" fill="#a8783c"/><circle cx="952.5" cy="1651.1" r="3.1" fill="#8a5e2c"/><circle cx="1030.9" cy="1637.4" r="2.6" fill="#8a5e2c"/></g>
<path d="M1157.0 1651.0Q1227.0 1651.0 1267.0 1611.0T1347.0 1541.0M1287.0 1691.0Q1337.0 1651.0 1377.0 1641.0" stroke="#d4e0f4" stroke-width="3" fill="none" opacity="0.8"/>
<g opacity="0.7"><circle cx="1147.3" cy="1657.0" r="2.6" fill="#95a2cc"/><circle cx="1236.1" cy="1657.5" r="2.6" fill="#95a2cc"/><circle cx="1300.1" cy="1616.2" r="3.1" fill="#95a2cc"/><circle cx="1242.5" cy="1513.9" r="2.6" fill="#9aa8d0"/><circle cx="1237.7" cy="1522.4" r="3.0" fill="#95a2cc"/><circle cx="1171.5" cy="1587.7" r="3.5" fill="#95a2cc"/><circle cx="1291.0" cy="1585.4" r="2.5" fill="#9aa8d0"/><circle cx="1187.0" cy="1514.8" r="2.7" fill="#95a2cc"/><circle cx="1375.0" cy="1618.0" r="2.6" fill="#9aa8d0"/><circle cx="1162.2" cy="1640.5" r="3.3" fill="#95a2cc"/><circle cx="1225.4" cy="1649.8" r="2.9" fill="#9aa8d0"/><circle cx="1364.2" cy="1675.9" r="2.6" fill="#95a2cc"/><circle cx="1235.6" cy="1542.7" r="3.1" fill="#9aa8d0"/><circle cx="1216.5" cy="1702.5" r="3.2" fill="#95a2cc"/><circle cx="1328.5" cy="1510.3" r="3.5" fill="#9aa8d0"/><circle cx="1232.9" cy="1645.5" r="3.4" fill="#9aa8d0"/><circle cx="1290.7" cy="1569.9" r="3.2" fill="#95a2cc"/><circle cx="1255.7" cy="1509.5" r="2.5" fill="#9aa8d0"/><circle cx="1170.8" cy="1504.8" r="3.3" fill="#95a2cc"/><circle cx="1168.7" cy="1620.2" r="2.8" fill="#95a2cc"/><circle cx="1362.9" cy="1693.0" r="2.9" fill="#9aa8d0"/><circle cx="1161.9" cy="1547.2" r="3.4" fill="#95a2cc"/><circle cx="1189.0" cy="1710.5" r="2.9" fill="#95a2cc"/><circle cx="1381.4" cy="1574.3" r="2.8" fill="#9aa8d0"/><circle cx="1281.0" cy="1676.4" r="2.7" fill="#9aa8d0"/><circle cx="1316.3" cy="1715.8" r="2.7" fill="#9aa8d0"/><circle cx="1345.0" cy="1720.5" r="3.3" fill="#95a2cc"/><circle cx="1197.2" cy="1603.7" r="2.6" fill="#9aa8d0"/><circle cx="1143.4" cy="1693.8" r="3.3" fill="#9aa8d0"/><circle cx="1292.0" cy="1560.0" r="2.6" fill="#95a2cc"/><circle cx="1324.3" cy="1528.9" r="3.1" fill="#9aa8d0"/><circle cx="1237.9" cy="1524.6" r="2.7" fill="#9aa8d0"/><circle cx="1224.9" cy="1559.5" r="2.6" fill="#9aa8d0"/><circle cx="1322.5" cy="1545.7" r="2.5" fill="#95a2cc"/><circle cx="1265.2" cy="1710.7" r="3.3" fill="#9aa8d0"/><circle cx="1266.0" cy="1577.1" r="2.8" fill="#9aa8d0"/><circle cx="1332.4" cy="1607.4" r="3.1" fill="#95a2cc"/><circle cx="1289.5" cy="1600.5" r="3.2" fill="#95a2cc"/><circle cx="1219.5" cy="1716.9" r="3.2" fill="#95a2cc"/><circle cx="1363.4" cy="1637.7" r="3.2" fill="#9aa8d0"/><circle cx="1194.2" cy="1709.5" r="3.1" fill="#9aa8d0"/><circle cx="1299.4" cy="1506.6" r="2.6" fill="#9aa8d0"/><circle cx="1379.2" cy="1701.1" r="2.7" fill="#9aa8d0"/><circle cx="1300.5" cy="1664.5" r="3.0" fill="#95a2cc"/><circle cx="1249.2" cy="1515.4" r="3.0" fill="#95a2cc"/><circle cx="1270.6" cy="1526.6" r="2.8" fill="#95a2cc"/><circle cx="1234.7" cy="1676.5" r="3.2" fill="#95a2cc"/><circle cx="1224.4" cy="1688.3" r="2.7" fill="#95a2cc"/><circle cx="1185.8" cy="1568.5" r="2.9" fill="#95a2cc"/><circle cx="1278.2" cy="1511.9" r="2.7" fill="#9aa8d0"/><circle cx="1348.2" cy="1548.8" r="2.7" fill="#9aa8d0"/><circle cx="1206.9" cy="1613.0" r="3.4" fill="#9aa8d0"/><circle cx="1165.4" cy="1668.2" r="2.9" fill="#9aa8d0"/><circle cx="1360.1" cy="1570.1" r="3.3" fill="#95a2cc"/><circle cx="1162.6" cy="1628.9" r="3.0" fill="#9aa8d0"/><circle cx="1237.7" cy="1599.4" r="3.0" fill="#95a2cc"/><circle cx="1282.3" cy="1714.6" r="2.5" fill="#95a2cc"/></g>
<text x="1373.00" y="1706.60" font-size="16.8" text-anchor="middle">50 &#956;m</text>
<line x1="1352.00" y1="1713.80" x2="1393.00" y2="1713.80" stroke="#000" stroke-width="2.8"/>
</svg>
</body></html>
